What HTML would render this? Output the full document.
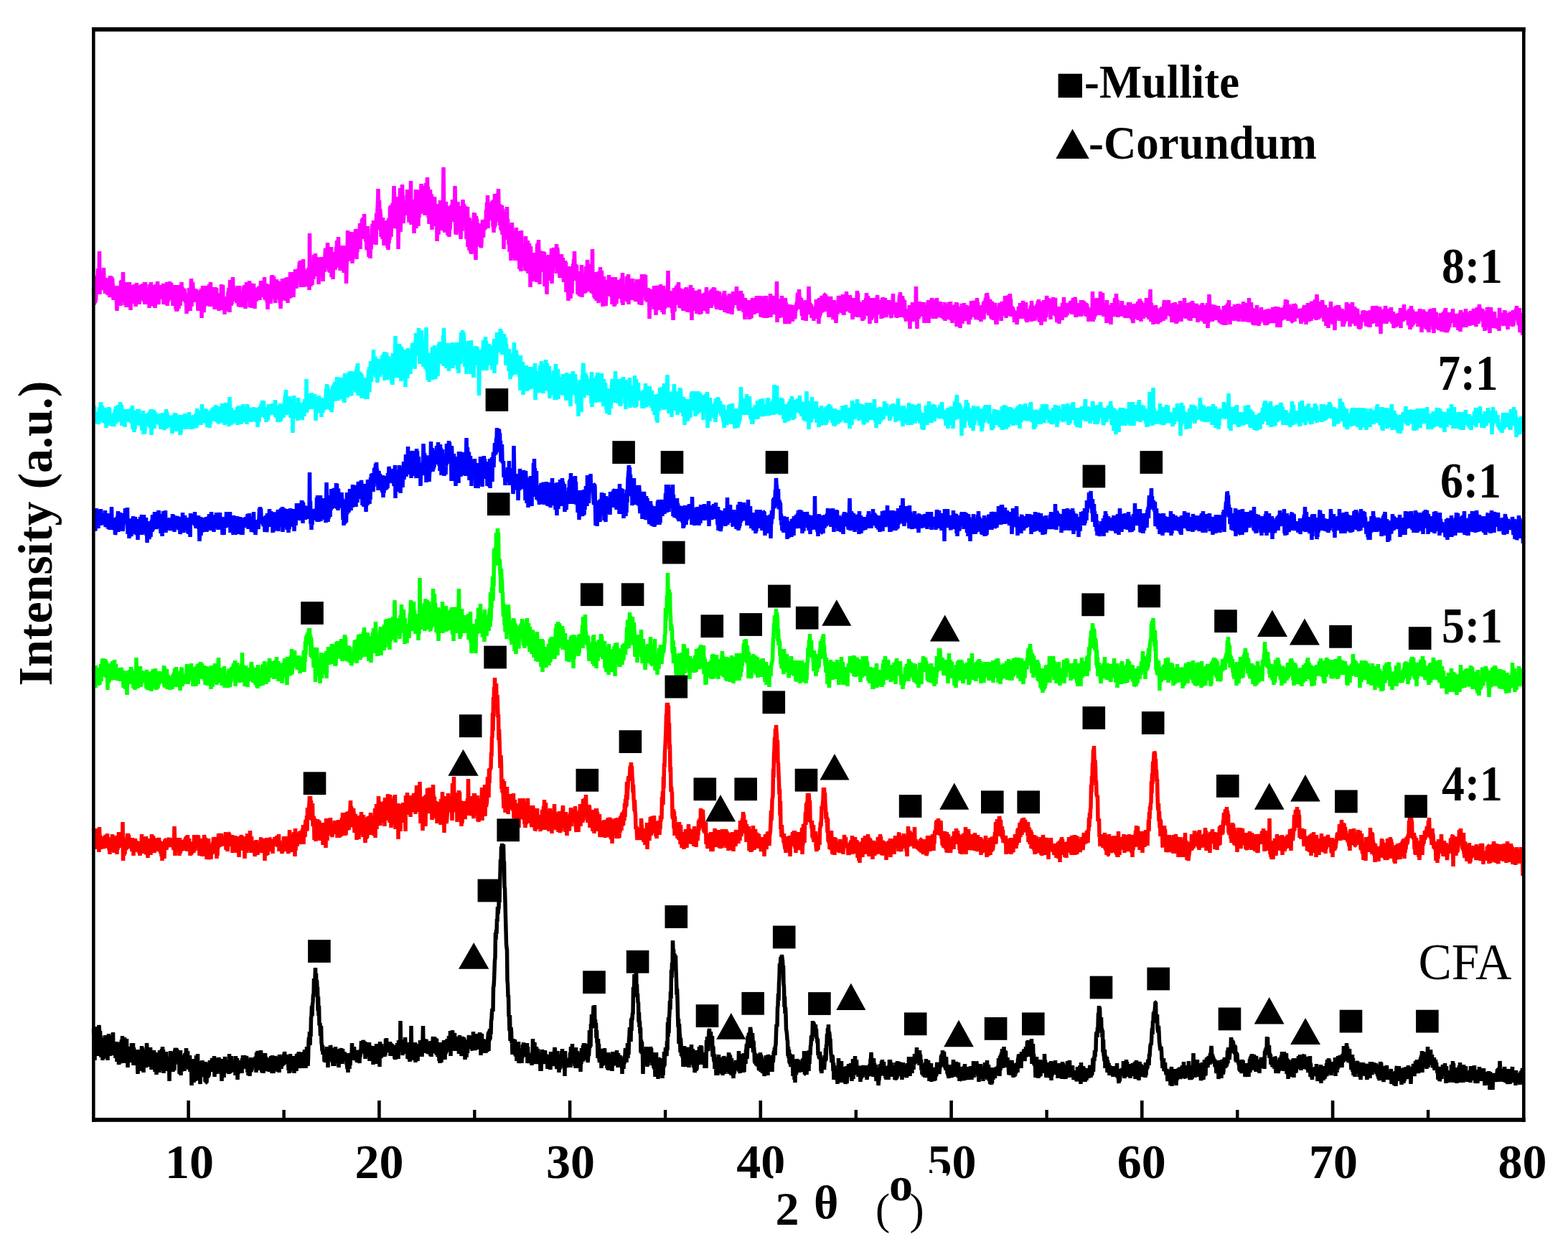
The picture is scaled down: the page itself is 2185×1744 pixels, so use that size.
<!DOCTYPE html>
<html lang="en">
<head>
<meta charset="utf-8">
<title>XRD patterns</title>
<style>
html,body{margin:0;padding:0;background:#fff;}
body{width:2185px;height:1744px;overflow:hidden;}
svg{display:block;}
text{font-family:"Liberation Serif","DejaVu Serif",serif;fill:#000;}
.b{font-weight:bold;}
.c{fill:none;stroke-width:5.5;stroke-linejoin:bevel;stroke-linecap:butt;}
</style>
</head>
<body>
<svg width="2185" height="1744" viewBox="0 0 2185 1744">
<rect x="0" y="0" width="2185" height="1744" fill="#fff"/>
<g class="b" font-size="68" text-anchor="middle">
<text x="263.9" y="1641">10</text>
<text x="528.6" y="1641">20</text>
<text x="795.0" y="1641">30</text>
<text x="1060.3" y="1641">40</text>
<text x="1326.5" y="1641">50</text>
<text x="1590.7" y="1641">60</text>
<text x="1857.9" y="1641">70</text>
<text x="2121.6" y="1641">80</text>
</g>
<rect x="1077.5" y="1634" width="241.5" height="100" fill="#fff"/>
<text class="b" font-size="66" x="1080.5" y="1706.4">2</text>
<text class="b" font-size="66" x="1134" y="1697">θ</text>
<text font-size="60.5" x="1220" y="1704.6">(</text>
<text font-size="60.5" x="1267.5" y="1704.6">)</text>
<text class="b" font-size="66" x="1239" y="1672">o</text>
<text class="b" font-size="68" text-anchor="middle" transform="translate(71.6 743) rotate(-90)">Intensity (a.u.)</text>
<path class="c" stroke="#000000" d="M130.5 1433l.5 22 .5-21 .5 43 .5-47 .5 37 .5-31 .5 35 .5-17 .5 10 .5-25 .5 32 .5-35 .5 5 .5-7 .5-6 .5 8 .5 34 .5-34 .5 13 .5-6 .5 30 .5-25 .5-2 .5 7 .5 24 .5-14 .5 12 .5-17 .5 12 .5-18 .5 20 .5-30 .5 14 .5-7 .5 25 .5-17 .5 6 .5-14 .5 28 .5-32 .5 17 .5-22 .5 18 .5-14 .5 27 .5-18 .5 17 .5-18 .5 9 .5-19 .5 20 .5-17 .5 13 .5-20 .5 32 .5-3 .5-3 .5 5 .5 0 .5-10 .5 15 .5-20 .5 17 .5-20 .5 28 .5-26 .5 11 .5 8 .5-8 .5 19 .5-5 .5-22 .5 25 .5-3 .5-11 .5-16 .5 13 .5-16 .5 33 .5-38 .5 38 .5-21 .5 20 .5-6 .5-24 .5-5 .5 19 .5 2 .5 8 .5-27 .5 29 .5-29 .5 34 .5-13 .5 19 .5-29 .5 3 .5 0 .5 0 .5-3 .5 22 .5-9 .5 5 .5-10 .5 2 .5-15 .5 25 .5-24 .5 19 .5-20 .5 31 .5-25 .5 24 .5-1 .5-13 .5 0 .5 8 .5-15 .5 13 .5 4 .5 2 .5 1 .5 14 .5-15 .5 11 .5-30 .5 17 .5-15 .5 28 .5-16 .5 4 .5-12 .5 7 .5-18 .5 21 .5-19 .5 15 .5-11 .5 31 .5-32 .5 24 .5-15 .5 11 .5-3 .5 0 .5 8 .5-5 .5-29 .5 8 .5 1 .5 23 .5-21 .5 17 .5-15 .5 10 .5-5 .5 15 .5-27 .5 9 .5 7 .5 15 .5-18 .5-1 .5 6 .5-5 .5 13 .5-2 .5-20 .5 9 .5 5 .5 16 .5-20 .5-1 .5-6 .5 31 .5-23 .5 20 .5-22 .5 21 .5-5 .5-2 .5-15 .5 23 .5-31 .5 6 .5-1 .5 1 .5 0 .5 12 .5-20 .5 30 .5-33 .5 30 .5-26 .5 33 .5-14 .5 4 .5-17 .5 12 .5-5 .5 17 .5-27 .5 24 .5-17 .5 19 .5-15 .5 12 .5-12 .5 6 .5-7 .5 31 .5-23 .5 5 .5-24 .5 11 .5-8 .5 18 .5-20 .5 21 .5-15 .5 22 .5-13 .5 1 .5-10 .5 20 .5-27 .5-1 .5-3 .5 20 .5-20 .5 3 .5-2 .5 15 .5-5 .5 10 .5-13 .5 15 .5-17 .5 30 .5-27 .5 18 .5-24 .5 35 .5-15 .5 10 .5-15 .5 3 .5-6 .5 10 .5-15 .5 3 .5 5 .5 14 .5-24 .5 0 .5 7 .5-4 .5-11 .5 28 .5-12 .5-4 .5-8 .5 18 .5-5 .5 13 .5-17 .5 6 .5-9 .5 23 .5-13 .5 3 .5 4 .5 25 .5-32 .5 25 .5-30 .5 27 .5-21 .5 27 .5-24 .5 21 .5-29 .5 30 .5-20 .5 18 .5-34 .5 28 .5-18 .5 15 .5-27 .5 37 .5-22 .5 21 .5-19 .5 12 .5 4 .5 9 .5-19 .5-2 .5-2 .5-9 .5 11 .5-12 .5 13 .5 10 .5-9 .5 8 .5-1 .5-3 .5-8 .5 20 .5-28 .5 16 .5 13 .5 0 .5-16 .5 10 .5-21 .5 20 .5-18 .5 16 .5-8 .5-1 .5-13 .5 13 .5-4 .5 4 .5-6 .5 9 .5-19 .5 10 .5-10 .5 7 .5-2 .5 11 .5-19 .5 29 .5-25 .5 0 .5 2 .5 14 .5-4 .5 9 .5-14 .5 6 .5-14 .5 20 .5-17 .5-4 .5 10 .5 7 .5 4 .5-5 .5 1 .5 6 .5-2 .5 12 .5-24 .5 4 .5-11 .5 26 .5-17 .5 17 .5-22 .5 3 .5-10 .5 20 .5-15 .5 7 .5-3 .5 12 .5 1 .5-14 .5 11 .5-2 .5 2 .5 5 .5-28 .5 27 .5-7 .5 6 .5-3 .5-4 .5-16 .5 14 .5 4 .5-8 .5-5 .5 10 .5 0 .5-1 .5-5 .5 14 .5-9 .5 13 .5-27 .5 11 .5-2 .5-2 .5-4 .5 30 .5-21 .5 13 .5-19 .5 16 .5-13 .5 12 .5-13 .5 10 .5-9 .5 5 .5-2 .5 12 .5-21 .5 13 .5-17 .5 18 .5-16 .5 11 .5-13 .5 6 .5 3 .5 7 .5-2 .5 5 .5-18 .5 8 .5 0 .5 15 .5-10 .5 14 .5-17 .5 12 .5-15 .5 21 .5-13 .5 1 .5-14 .5 20 .5-3 .5 1 .5-17 .5 11 .5-10 .5 5 .5-5 .5 2 .5 1 .5 9 .5-15 .5 5 .5-5 .5 22 .5-28 .5 16 .5-14 .5-4 .5 10 .5 2 .5-5 .5 18 .5-20 .5 22 .5-21 .5 15 .5-22 .5 21 .5 1 .5 9 .5-20 .5 13 .5-20 .5 28 .5-22 .5 10 .5-7 .5-4 .5-5 .5 17 .5-12 .5 20 .5-4 .5 2 .5-7 .5-8 .5-1 .5 12 .5-4 .5 11 .5-10 .5 10 .5-12 .5 12 .5-22 .5 17 .5-12 .5 19 .5-25 .5 17 .5 1 .5 7 .5-11 .5 6 .5-11 .5 12 .5-20 .5 7 .5-4 .5 11 .5-9 .5 10 .5-14 .5 21 .5-17 .5 8 .5-6 .5 16 .5-25 .5 4 .5 2 .5 6 .5 4 .5 4 .5-16 .5 11 .5 0 .5 0 .5-12 .5 12 .5-16 .5 9 .5-12 .5 6 .5 10 .5 1 .5-12 .5 1 .5 3 .5-1 .5 0 .5 5 .5-2 .5 15 .5-6 .5 10 .5-17 .5 16 .5-26 .5 13 .5-3 .5 3 .5-2 .5 12 .5-10 .5 7 .5-5 .5-7 .5-5 .5 24 .5-15 .5 7 .5-12 .5 14 .5-2 .5 5 .5-24 .5 20 .5-16 .5 2 .5-7 .5 20 .5-22 .5 13 .5 0 .5 10 .5-14 .5 2 .5 0 .5 6 .5-16 .5 3 .5 3 .5 14 .5-15 .5 17 .5-23 .5 16 .5-19 .5 17 .5-2 .5 11 .5-25 .5 18 .5-23 .5 19 .5-15 .5 23 .5-11 .5-22 .5-7 .5 5 .5-13 .5 19 .5-18 .5 6 .5-27 .5-1 .5-15 .5 14 .5-16 .5-4 .5-10 .5 4 .5-26 .5 10 .5-8 .5-2 .5-15 .5 29 .5-21 .5 24 .5-15 .5 11 .5-1 .5 33 .5-20 .5 27 .5-14 .5 27 .5 0 .5-3 .5 18 .5-11 .5-3 .5 24 .5 2 .5 9 .5-8 .5 13 .5-7 .5 2 .5 2 .5 13 .5-15 .5 7 .5 9 .5-8 .5 0 .5 4 .5-18 .5 14 .5-14 .5 29 .5-29 .5 18 .5-9 .5 10 .5-17 .5 13 .5-17 .5 3 .5 11 .5-9 .5 2 .5 17 .5-12 .5 17 .5-23 .5 19 .5-8 .5 12 .5-25 .5 14 .5-16 .5 23 .5-17 .5 2 .5 2 .5 12 .5-18 .5 6 .5 1 .5 18 .5-19 .5 0 .5-7 .5 20 .5-15 .5 4 .5-10 .5 17 .5-14 .5 19 .5-21 .5 13 .5-4 .5 6 .5-8 .5-3 .5 11 .5 0 .5-5 .5 6 .5-10 .5 16 .5 0 .5 6 .5-11 .5 16 .5-27 .5 17 .5-17 .5 22 .5-21 .5 16 .5-13 .5-4 .5 2 .5 6 .5-22 .5 13 .5-4 .5-2 .5-2 .5 16 .5-16 .5 19 .5-2 .5 1 .5-4 .5 4 .5-13 .5 3 .5 14 .5-10 .5-6 .5 11 .5-11 .5 6 .5 2 .5 9 .5-18 .5 9 .5-10 .5 2 .5-14 .5 11 .5-11 .5 14 .5-9 .5-6 .5 3 .5 7 .5 0 .5 9 .5-11 .5 18 .5-22 .5 0 .5 18 .5 1 .5-20 .5 4 .5-2 .5 14 .5-9 .5 8 .5-15 .5 26 .5-22 .5 20 .5-17 .5 12 .5-3 .5 4 .5-10 .5 16 .5-21 .5 26 .5-26 .5 16 .5-4 .5 4 .5-1 .5 5 .5-19 .5 24 .5-28 .5 11 .5 5 .5-2 .5-7 .5 15 .5-17 .5 21 .5-17 .5 23 .5-35 .5 14 .5-2 .5 11 .5-20 .5 11 .5-1 .5 1 .5 7 .5-15 .5 8 .5 3 .5-4 .5 8 .5-12 .5 10 .5-23 .5 11 .5-12 .5 11 .5 0 .5-1 .5 1 .5 2 .5 7 .5-13 .5 7 .5 3 .5-12 .5 20 .5-17 .5 0 .5 8 .5 0 .5-7 .5 2 .5 14 .5-5 .5-3 .5-7 .5 11 .5 8 .5-9 .5 10 .5-15 .5 14 .5-18 .5 10 .5-14 .5 18 .5-18 .5 22 .5-26 .5 11 .5 4 .5-10 .5 11 .5-43 .5 34 .5-6 .5 2 .5 11 .5-11 .5 18 .5-9 .5 6 .5-17 .5 12 .5-14 .5 18 .5-21 .5 9 .5-1 .5 14 .5-3 .5 4 .5-13 .5 20 .5-20 .5 19 .5-19 .5 21 .5-24 .5 27 .5-11 .5-1 .5 3 .5-41 .5 31 .5 17 .5-25 .5 12 .5-3 .5-3 .5 7 .5-4 .5-5 .5 20 .5-24 .5 28 .5-26 .5 17 .5-16 .5 9 .5-7 .5 21 .5-11 .5 2 .5-3 .5-11 .5 4 .5 3 .5-13 .5 15 .5-15 .5 21 .5-18 .5 20 .5-19 .5-3 .5-21 .5 27 .5-9 .5 17 .5-11 .5 3 .5-3 .5 14 .5-18 .5-1 .5 6 .5 13 .5-9 .5 10 .5-17 .5 2 .5 14 .5 0 .5-12 .5 3 .5-5 .5 18 .5-21 .5 22 .5-16 .5 10 .5-13 .5-2 .5-7 .5 23 .5-9 .5 9 .5-23 .5 23 .5-15 .5 4 .5-10 .5 23 .5-22 .5 23 .5-8 .5 10 .5-18 .5 4 .5-2 .5 22 .5-23 .5 26 .5-29 .5 5 .5 2 .5 21 .5-16 .5 10 .5-19 .5-2 .5 7 .5 3 .5-14 .5 6 .5 8 .5 13 .5-27 .5 19 .5-3 .5 1 .5-18 .5 16 .5-17 .5 14 .5-5 .5 0 .5-13 .5 19 .5-14 .5 15 .5-27 .5 35 .5-24 .5 16 .5-8 .5-6 .5-14 .5 26 .5-15 .5 9 .5-5 .5-10 .5-1 .5 25 .5-15 .5 5 .5-4 .5 7 .5-7 .5 4 .5-5 .5-5 .5 15 .5-6 .5 15 .5-17 .5-9 .5 24 .5-8 .5 5 .5-8 .5 16 .5-9 .5-14 .5-4 .5 8 .5 9 .5 3 .5-19 .5 14 .5-11 .5 28 .5-17 .5 7 .5-15 .5 22 .5-13 .5-11 .5 18 .5-16 .5-1 .5 0 .5-8 .5 18 .5-1 .5 1 .5-17 .5 13 .5-4 .5 9 .5-4 .5 5 .5 1 .5-9 .5-17 .5 20 .5-8 .5 10 .5-12 .5 16 .5-8 .5-9 .5 0 .5 0 .5-6 .5 17 .5-12 .5 17 .5-22 .5 12 .5 5 .5-4 .5-15 .5 24 .5-23 .5 31 .5-26 .5 22 .5-26 .5 27 .5-20 .5 13 .5-10 .5 2 .5-2 .5 7 .5-4 .5-3 .5-2 .5 19 .5-16 .5 14 .5-10 .5 10 .5-12 .5-8 .5-7 .5 26 .5-28 .5 14 .5-17 .5 15 .5-13 .5 6 .5-20 .5-1 .5-10 .5-5 .5 1 .5 3 .5-34 .5-1 .5-8 .5-14 .5-14 .5-4 .5-35 .5 10 .5-14 .5 6 .5-21 .5 4 .5-21 .5 10 .5-6 .5-3 .5-23 .5 16 .5-25 .5-15 .5-20 .5 14 .5-32 .5 16 .5-20 .5 7 .5-4 .5 1 .5-3 .5 23 .5 2 .5 35 .5 1 .5 20 .5 19 .5 19 .5 20 .5 5 .5 3 .5 43 .5 5 .5 18 .5-3 .5 30 .5 0 .5 20 .5-22 .5 36 .5-15 .5-4 .5 6 .5 16 .5-4 .5 20 .5-13 .5-6 .5-3 .5 20 .5-11 .5 7 .5-15 .5 20 .5 3 .5-5 .5-4 .5 16 .5-23 .5 18 .5-4 .5-8 .5-10 .5 30 .5-8 .5 1 .5-12 .5 11 .5-12 .5 3 .5-2 .5 19 .5-20 .5 13 .5-19 .5 11 .5-14 .5 20 .5-10 .5 3 .5-11 .5 9 .5-9 .5 8 .5-3 .5 13 .5-19 .5 28 .5-23 .5 19 .5 0 .5 4 .5-13 .5 13 .5-5 .5-4 .5 3 .5 6 .5-8 .5 11 .5-18 .5 8 .5-27 .5 17 .5-10 .5 28 .5-28 .5-2 .5 30 .5-6 .5-11 .5 0 .5-7 .5 23 .5-13 .5-4 .5-3 .5 10 .5 2 .5 9 .5-15 .5 2 .5-2 .5 25 .5-16 .5 16 .5-20 .5 6 .5-16 .5 5 .5 3 .5 7 .5-4 .5 9 .5-9 .5 8 .5-18 .5 11 .5-6 .5 13 .5-6 .5-2 .5 3 .5 13 .5-20 .5 9 .5-1 .5 4 .5-2 .5 6 .5 1 .5 4 .5-25 .5 9 .5 9 .5-1 .5-16 .5 5 .5 6 .5 8 .5-17 .5 8 .5-11 .5-6 .5 4 .5 10 .5-7 .5 12 .5 5 .5 6 .5-25 .5 14 .5-9 .5 11 .5-5 .5 19 .5-22 .5 18 .5-11 .5 3 .5-8 .5 6 .5-16 .5 20 .5-23 .5 20 .5-3 .5-13 .5 14 .5 9 .5-17 .5 28 .5-35 .5 19 .5 3 .5-6 .5 7 .5-10 .5-3 .5 11 .5-8 .5 4 .5-4 .5 9 .5-9 .5 3 .5-14 .5 21 .5-29 .5 12 .5-3 .5 0 .5-13 .5 27 .5-12 .5 8 .5-18 .5 16 .5-2 .5 12 .5-23 .5 26 .5-29 .5 21 .5-13 .5 20 .5-23 .5 24 .5-19 .5 17 .5-20 .5 12 .5 5 .5-7 .5-8 .5 25 .5-22 .5 11 .5-22 .5 16 .5-6 .5 9 .5-23 .5 13 .5-16 .5 13 .5-13 .5 22 .5-6 .5 8 .5-20 .5 15 .5-9 .5-7 .5 3 .5 21 .5-5 .5-21 .5 17 .5-9 .5-27 .5 25 .5-16 .5 14 .5-32 .5 7 .5-20 .5 5 .5 9 .5-7 .5-5 .5-14 .5 6 .5 15 .5-22 .5 32 .5-12 .5 12 .5-7 .5 21 .5-11 .5 18 .5-1 .5 22 .5-27 .5 16 .5-9 .5 21 .5 5 .5-5 .5-14 .5 7 .5-7 .5 27 .5-23 .5 20 .5-13 .5 10 .5-21 .5 17 .5-8 .5 14 .5-24 .5 15 .5 3 .5-5 .5 5 .5-4 .5 1 .5 13 .5-12 .5 14 .5-24 .5 25 .5-23 .5 10 .5-8 .5 3 .5-2 .5 13 .5-14 .5 5 .5 2 .5 15 .5-27 .5 20 .5-20 .5 18 .5-18 .5 19 .5-14 .5 4 .5 5 .5-4 .5 9 .5-6 .5-15 .5 15 .5-8 .5 17 .5-20 .5 15 .5 1 .5 2 .5-4 .5-11 .5 4 .5 6 .5 3 .5-1 .5-4 .5 18 .5-24 .5 3 .5-2 .5 16 .5-17 .5 10 .5-10 .5-2 .5-10 .5 16 .5-10 .5 14 .5-17 .5 11 .5-21 .5 21 .5-21 .5 16 .5-21 .5-5 .5-12 .5 10 .5-3 .5 13 .5-32 .5 17 .5-19 .5 4 .5-10 .5 2 .5-38 .5 14 .5-13 .5-19 .5 9 .5 7 .5-5 .5 1 .5-27 .5 43 .5-14 .5 17 .5-4 .5 13 .5-1 .5 28 .5-14 .5 21 .5-9 .5 18 .5-9 .5 35 .5-18 .5 20 .5-17 .5 15 .5 2 .5 28 .5-28 .5 11 .5-3 .5 8 .5-16 .5 2 .5 6 .5 8 .5-26 .5 16 .5-9 .5 21 .5-24 .5 22 .5-25 .5 3 .5 8 .5-6 .5 1 .5 15 .5-22 .5 7 .5-5 .5 13 .5 2 .5 9 .5-4 .5-3 .5-5 .5 16 .5-22 .5 24 .5-6 .5 16 .5-13 .5 0 .5-21 .5 30 .5-13 .5 12 .5-22 .5 30 .5-14 .5 6 .5-16 .5-4 .5 0 .5 24 .5-7 .5-8 .5-4 .5 11 .5-12 .5 23 .5-12 .5 8 .5-24 .5 13 .5-22 .5 20 .5-16 .5 3 .5-13 .5 12 .5-10 .5 10 .5-21 .5 13 .5-39 .5 20 .5-27 .5 22 .5-21 .5-8 .5-16 .5 12 .5-25 .5 10 .5-40 .5 11 .5-21 .5 10 .5-41 .5 14 .5-2 .5 17 .5-10 .5 0 .5 9 .5 14 .5-21 .5 21 .5 13 .5 21 .5-9 .5 14 .5 21 .5 19 .5-12 .5 35 .5-28 .5 12 .5 5 .5 23 .5-20 .5 9 .5 16 .5-14 .5 11 .5 5 .5-8 .5 21 .5-10 .5 3 .5-22 .5 29 .5-27 .5 25 .5-25 .5 27 .5-23 .5 4 .5 6 .5 3 .5-14 .5-3 .5 10 .5 18 .5-25 .5 21 .5-24 .5 19 .5 1 .5-3 .5-21 .5 23 .5-15 .5 6 .5-8 .5 21 .5 5 .5-5 .5-14 .5 26 .5-3 .5-3 .5-13 .5 17 .5-29 .5 27 .5-11 .5 2 .5-17 .5 19 .5-9 .5-2 .5-14 .5 13 .5-1 .5 13 .5-27 .5 13 .5-12 .5 16 .5 3 .5 1 .5 5 .5-3 .5-8 .5 4 .5-3 .5 16 .5-22 .5 9 .5-9 .5 22 .5-39 .5 16 .5-21 .5 9 .5 5 .5 6 .5-20 .5-8 .5-3 .5 10 .5-6 .5 17 .5-17 .5 15 .5-2 .5 5 .5-12 .5 29 .5-14 .5 1 .5 16 .5 4 .5-11 .5 21 .5-4 .5 1 .5-10 .5 22 .5-26 .5 24 .5-21 .5 23 .5-23 .5 20 .5-26 .5 15 .5 0 .5 4 .5-13 .5 3 .5-5 .5 7 .5-5 .5 21 .5-19 .5 21 .5-14 .5 5 .5-18 .5 9 .5-4 .5 20 .5-24 .5 3 .5 4 .5 4 .5-5 .5 6 .5-10 .5 19 .5-20 .5 19 .5-26 .5 30 .5-28 .5 26 .5-24 .5 13 .5-8 .5 23 .5-24 .5 13 .5 5 .5 3 .5-3 .5 10 .5-19 .5 12 .5-1 .5-9 .5 2 .5 1 .5-11 .5 2 .5 3 .5 7 .5-9 .5 8 .5-3 .5 6 .5-27 .5 29 .5-7 .5 9 .5-27 .5 18 .5 4 .5 0 .5-13 .5 5 .5-11 .5 22 .5-17 .5 18 .5-27 .5 26 .5-26 .5 11 .5-7 .5 11 .5-18 .5-3 .5-7 .5 21 .5-12 .5-20 .5 12 .5-10 .5-6 .5 13 .5-14 .5 1 .5-8 .5 3 .5 4 .5 22 .5-19 .5 1 .5-3 .5 11 .5 16 .5-16 .5 8 .5 5 .5 15 .5 3 .5-14 .5 6 .5 10 .5 0 .5-1 .5-2 .5-12 .5 10 .5-4 .5 8 .5 9 .5-16 .5-1 .5 6 .5-14 .5 27 .5-24 .5 18 .5-15 .5 9 .5 14 .5-3 .5 1 .5-2 .5-15 .5 23 .5-4 .5-14 .5 0 .5 3 .5-14 .5 15 .5 2 .5 4 .5-18 .5 25 .5-29 .5 3 .5 11 .5 10 .5-15 .5 2 .5-1 .5 7 .5-14 .5 19 .5-21 .5 23 .5-22 .5 9 .5-3 .5-9 .5-4 .5 2 .5-7 .5 11 .5-13 .5-1 .5-16 .5-13 .5 1 .5 2 .5-26 .5-3 .5-17 .5 10 .5-24 .5-8 .5-20 .5 4 .5-3 .5-10 .5 11 .5-6 .5-8 .5 5 .5 3 .5 9 .5-2 .5 26 .5 3 .5 29 .5-15 .5 24 .5-9 .5 10 .5 21 .5 2 .5 4 .5 8 .5 2 .5 21 .5-13 .5 16 .5-12 .5 19 .5-14 .5 16 .5-5 .5 8 .5-15 .5 6 .5-1 .5-5 .5-2 .5 30 .5-22 .5 21 .5-18 .5 24 .5-11 .5 15 .5-32 .5 18 .5 3 .5-8 .5-14 .5 10 .5 2 .5 4 .5-15 .5 14 .5-7 .5 11 .5-13 .5 12 .5-15 .5 15 .5-7 .5-4 .5-3 .5 6 .5-10 .5 16 .5-17 .5 19 .5-29 .5 22 .5 10 .5 0 .5-25 .5 12 .5-3 .5 17 .5-12 .5 1 .5-22 .5 10 .5-6 .5 24 .5-29 .5 19 .5-19 .5 7 .5-13 .5-1 .5-13 .5 0 .5 7 .5-8 .5-20 .5 22 .5-20 .5 2 .5 1 .5 11 .5-6 .5 11 .5-16 .5 16 .5-10 .5 14 .5-2 .5 8 .5-6 .5 23 .5-4 .5 5 .5 3 .5 0 .5-9 .5 9 .5-4 .5 22 .5-1 .5 4 .5-22 .5 13 .5-12 .5 8 .5-3 .5-3 .5 14 .5-8 .5-12 .5 9 .5-19 .5 17 .5-22 .5 1 .5-16 .5 17 .5-25 .5 10 .5-15 .5 24 .5-14 .5 4 .5 8 .5-2 .5 14 .5 7 .5 4 .5 8 .5-10 .5 1 .5 2 .5 19 .5-12 .5 24 .5-20 .5 10 .5-2 .5-4 .5 12 .5-12 .5 13 .5 3 .5-13 .5 19 .5-15 .5 4 .5-25 .5 28 .5-22 .5 9 .5-7 .5 26 .5-15 .5 7 .5-22 .5 22 .5-5 .5 13 .5-19 .5 16 .5-19 .5 15 .5 2 .5-9 .5-6 .5 22 .5-10 .5 9 .5-24 .5 24 .5-7 .5-7 .5-2 .5 6 .5-17 .5 18 .5-9 .5 8 .5-12 .5 12 .5-18 .5 4 .5 3 .5 18 .5-22 .5 12 .5-21 .5 28 .5-15 .5 10 .5-17 .5 15 .5-25 .5 22 .5-9 .5 8 .5-16 .5 14 .5 3 .5-1 .5-5 .5 13 .5-14 .5-1 .5 4 .5 1 .5 6 .5 11 .5-20 .5 16 .5-16 .5 6 .5-4 .5 12 .5-17 .5 10 .5-10 .5 11 .5-2 .5 0 .5-8 .5 11 .5-3 .5 5 .5-14 .5 20 .5-5 .5-4 .5-9 .5 5 .5-6 .5 4 .5 10 .5-17 .5 13 .5-20 .5 1 .5-10 .5 10 .5 15 .5-15 .5 10 .5-5 .5 19 .5-26 .5 15 .5-8 .5 9 .5 10 .5-13 .5-4 .5 23 .5-19 .5 11 .5 0 .5 3 .5 0 .5 11 .5-7 .5-1 .5-16 .5 11 .5-17 .5 16 .5-4 .5 4 .5-20 .5 19 .5-21 .5 18 .5-8 .5 7 .5-14 .5 12 .5-6 .5 14 .5-8 .5 11 .5-13 .5 15 .5-19 .5 14 .5-5 .5 7 .5-12 .5 15 .5-20 .5 13 .5-21 .5 24 .5-24 .5 16 .5-7 .5 14 .5-19 .5 19 .5-2 .5-3 .5-10 .5 16 .5-7 .5-4 .5 1 .5 14 .5-1 .5-12 .5-11 .5 24 .5-13 .5 11 .5-24 .5 16 .5-13 .5 3 .5 0 .5 2 .5-7 .5 20 .5-9 .5-2 .5 2 .5 2 .5 1 .5 11 .5-23 .5 13 .5-14 .5 16 .5-13 .5 3 .5 11 .5-3 .5 6 .5-7 .5 1 .5 4 .5 3 .5-5 .5-15 .5 10 .5-7 .5 13 .5-25 .5 16 .5-8 .5 19 .5-20 .5 11 .5-14 .5 4 .5-6 .5 21 .5-23 .5 13 .5 0 .5 5 .5-17 .5 10 .5-15 .5 14 .5-5 .5 3 .5-10 .5 5 .5-16 .5 14 .5 2 .5 0 .5-1 .5 0 .5-4 .5 14 .5-21 .5 21 .5-15 .5 10 .5-3 .5 15 .5-5 .5 11 .5-15 .5 13 .5 1 .5 3 .5-16 .5 13 .5-9 .5 14 .5-21 .5 15 .5-20 .5 14 .5 5 .5 7 .5-17 .5 5 .5-12 .5 9 .5-1 .5 21 .5-24 .5 11 .5-10 .5 12 .5-14 .5 26 .5-17 .5 5 .5-8 .5 6 .5-6 .5 18 .5-1 .5-5 .5-9 .5 15 .5-7 .5-5 .5 6 .5-3 .5-13 .5-3 .5 10 .5 6 .5-10 .5 7 .5-11 .5 14 .5-9 .5 0 .5-2 .5-2 .5-13 .5 12 .5-14 .5 18 .5-23 .5 21 .5-8 .5 8 .5-19 .5 9 .5 4 .5 10 .5-16 .5 19 .5-19 .5 12 .5 0 .5 12 .5-3 .5 5 .5 0 .5 4 .5-16 .5 12 .5-10 .5 11 .5-16 .5 16 .5-16 .5 18 .5-5 .5-2 .5 2 .5-9 .5-11 .5 24 .5-11 .5 9 .5-19 .5 15 .5-14 .5 7 .5-8 .5 5 .5 14 .5-3 .5-10 .5 16 .5-21 .5 20 .5-8 .5 14 .5-18 .5-2 .5 18 .5 0 .5-10 .5 7 .5 0 .5 0 .5 4 .5-3 .5 0 .5-16 .5 0 .5 19 .5-23 .5 12 .5 1 .5-5 .5 5 .5 4 .5-13 .5 6 .5 2 .5 10 .5-8 .5 5 .5-13 .5 13 .5-2 .5 4 .5-18 .5 6 .5-5 .5 18 .5-12 .5 4 .5-11 .5 16 .5-23 .5 23 .5-13 .5-1 .5 7 .5-5 .5 7 .5-3 .5-14 .5 1 .5 14 .5-11 .5 5 .5 12 .5-9 .5 16 .5-21 .5 8 .5-2 .5-6 .5-4 .5 21 .5-3 .5-1 .5-2 .5 0 .5-12 .5 21 .5-16 .5 11 .5 1 .5-6 .5-16 .5 20 .5-5 .5 6 .5-2 .5-1 .5-21 .5 27 .5-8 .5 0 .5-13 .5 12 .5 11 .5-4 .5 6 .5 1 .5-22 .5 22 .5 1 .5-2 .5 1 .5-15 .5 2 .5 8 .5-17 .5 7 .5-2 .5 3 .5 7 .5-11 .5-1 .5 8 .5-12 .5 12 .5-9 .5 4 .5-8 .5 12 .5-23 .5 5 .5 2 .5 18 .5-28 .5 20 .5-22 .5 17 .5-20 .5 20 .5-25 .5 27 .5-17 .5 4 .5-3 .5-14 .5 15 .5 5 .5-15 .5 24 .5-23 .5 20 .5-8 .5 4 .5 4 .5-11 .5 13 .5-7 .5 12 .5 6 .5-2 .5 0 .5-4 .5-12 .5 0 .5 19 .5-6 .5-15 .5 7 .5 2 .5-4 .5 19 .5-16 .5 15 .5-19 .5 12 .5 6 .5-9 .5 6 .5-12 .5 1 .5 7 .5-12 .5 14 .5-18 .5-2 .5-5 .5 18 .5-19 .5 20 .5-14 .5-5 .5 4 .5 15 .5-23 .5 13 .5-11 .5 3 .5-3 .5 4 .5-7 .5-2 .5 1 .5 15 .5-10 .5 5 .5-15 .5 7 .5-3 .5 3 .5-15 .5 22 .5-23 .5 9 .5-9 .5 11 .5 1 .5 5 .5-12 .5 9 .5-12 .5 21 .5-25 .5 35 .5-14 .5 9 .5-23 .5 20 .5-6 .5 14 .5 2 .5-2 .5 2 .5 17 .5-6 .5-7 .5-16 .5 22 .5-6 .5 5 .5-14 .5 23 .5-20 .5 7 .5 11 .5-14 .5-10 .5 23 .5-17 .5 6 .5 2 .5-2 .5-3 .5 2 .5-8 .5 0 .5 2 .5 14 .5-27 .5 14 .5-5 .5 8 .5 11 .5 5 .5-8 .5-6 .5-7 .5 14 .5-8 .5 14 .5-2 .5 0 .5-17 .5 8 .5-9 .5 22 .5-24 .5 27 .5-22 .5 16 .5-13 .5 3 .5-10 .5 17 .5-14 .5 8 .5-9 .5 16 .5-20 .5 17 .5-5 .5 7 .5-8 .5 1 .5-6 .5 19 .5-21 .5 20 .5-4 .5 1 .5-15 .5 10 .5-11 .5 14 .5-15 .5 6 .5 4 .5 12 .5-24 .5 12 .5-10 .5 16 .5-9 .5 3 .5 1 .5 7 .5-3 .5 7 .5-16 .5 4 .5-7 .5 8 .5-14 .5 14 .5 4 .5 5 .5-19 .5-1 .5-4 .5 23 .5-3 .5-13 .5 12 .5-8 .5 1 .5 0 .5-5 .5 17 .5-6 .5 9 .5-13 .5 10 .5-5 .5 2 .5-1 .5-3 .5-1 .5 11 .5 2 .5-7 .5-13 .5 19 .5-3 .5 2 .5-9 .5 11 .5-10 .5-12 .5 6 .5 20 .5-30 .5 24 .5-19 .5 13 .5-12 .5 14 .5-15 .5 22 .5-20 .5 15 .5-13 .5 17 .5-1 .5-8 .5-7 .5 15 .5-17 .5 7 .5-1 .5 4 .5-9 .5 13 .5-12 .5 5 .5-8 .5-3 .5 8 .5 9 .5-11 .5 3 .5 5 .5-4 .5-8 .5-12 .5 19 .5-14 .5-7 .5 6 .5-15 .5 9 .5-9 .5 2 .5-24 .5-3 .5 0 .5 7 .5-14 .5 0 .5-20 .5 5 .5-15 .5 11 .5-9 .5 20 .5-4 .5 1 .5-3 .5 22 .5-7 .5 13 .5-10 .5 31 .5-18 .5 21 .5 3 .5 6 .5-16 .5 26 .5-18 .5 11 .5-8 .5 13 .5-14 .5 22 .5-17 .5 10 .5 5 .5-11 .5 6 .5 11 .5-14 .5 12 .5-5 .5-1 .5 6 .5 1 .5-9 .5 4 .5-7 .5 15 .5-15 .5 14 .5-9 .5 4 .5-4 .5 9 .5-1 .5-6 .5-5 .5 11 .5-17 .5 20 .5-12 .5 13 .5 0 .5 7 .5-16 .5 13 .5-2 .5-6 .5-6 .5-3 .5 6 .5-2 .5-5 .5 9 .5-4 .5 3 .5-18 .5 21 .5-11 .5 14 .5-6 .5-7 .5-1 .5 9 .5-21 .5 20 .5-17 .5 21 .5-12 .5-1 .5 10 .5-1 .5-2 .5-4 .5-8 .5 20 .5-16 .5 12 .5-9 .5 10 .5-12 .5 4 .5-10 .5 18 .5-18 .5 15 .5-14 .5 16 .5-19 .5 24 .5-9 .5-10 .5-7 .5 12 .5 5 .5-1 .5-4 .5-1 .5-9 .5 26 .5-21 .5-5 .5 8 .5 10 .5-15 .5 5 .5 10 .5-5 .5-4 .5 12 .5-5 .5 3 .5-7 .5-7 .5 1 .5 0 .5 4 .5 12 .5-21 .5 18 .5-12 .5 4 .5-6 .5 4 .5-9 .5-3 .5 3 .5 5 .5-16 .5 4 .5-9 .5-7 .5-2 .5 2 .5-5 .5-11 .5-8 .5 9 .5-19 .5 1 .5-13 .5 13 .5-15 .5 3 .5-8 .5-7 .5 0 .5 24 .5-4 .5 9 .5-12 .5 20 .5 3 .5 2 .5-9 .5 10 .5 12 .5 4 .5 5 .5 3 .5-4 .5-1 .5 6 .5 12 .5 1 .5 11 .5-12 .5 12 .5-14 .5 18 .5-1 .5-7 .5-4 .5 12 .5-2 .5 7 .5-1 .5-7 .5 7 .5 10 .5-16 .5 9 .5-7 .5 1 .5-3 .5 16 .5-15 .5 21 .5-21 .5 1 .5-6 .5 27 .5-21 .5 14 .5-12 .5 15 .5-3 .5-8 .5 4 .5 3 .5-16 .5 9 .5 0 .5 14 .5-19 .5 12 .5-13 .5 7 .5-10 .5 5 .5-6 .5 14 .5-12 .5-3 .5 2 .5 14 .5-8 .5 2 .5-11 .5 11 .5-13 .5 6 .5-5 .5 15 .5-21 .5 23 .5-11 .5 8 .5 2 .5 1 .5-18 .5 11 .5-8 .5 11 .5-9 .5 10 .5-14 .5 7 .5-14 .5 20 .5-3 .5 9 .5-12 .5 7 .5 2 .5 3 .5-12 .5 11 .5-19 .5 8 .5-7 .5-18 .5 19 .5 5 .5-6 .5 16 .5-11 .5 5 .5-13 .5 14 .5-9 .5 5 .5-16 .5 23 .5-3 .5 2 .5 1 .5-7 .5-3 .5 8 .5-16 .5 17 .5 7 .5-3 .5-7 .5-5 .5-10 .5 20 .5-2 .5 6 .5-18 .5 9 .5-19 .5 23 .5-7 .5 6 .5-15 .5 5 .5-15 .5 8 .5-5 .5 11 .5-15 .5 9 .5-10 .5 8 .5-8 .5 12 .5-16 .5 13 .5-16 .5-7 .5 6 .5 17 .5-11 .5 3 .5 1 .5 1 .5 7 .5-3 .5-3 .5 11 .5-2 .5 1 .5 3 .5 7 .5-17 .5 4 .5 0 .5 13 .5-18 .5 26 .5-9 .5-7 .5 7 .5 2 .5-11 .5 10 .5-11 .5 18 .5-26 .5 18 .5-4 .5 6 .5-1 .5-3 .5-17 .5 7 .5-9 .5 6 .5 9 .5-15 .5 5 .5 8 .5-4 .5 1 .5-20 .5 18 .5-22 .5 9 .5 5 .5 3 .5-5 .5-7 .5-5 .5 5 .5-19 .5 5 .5 1 .5 8 .5-10 .5 3 .5-1 .5 10 .5 6 .5-10 .5-2 .5 14 .5-12 .5 21 .5-13 .5 15 .5-13 .5 2 .5 8 .5 0 .5 0 .5 6 .5-7 .5 15 .5-15 .5 17 .5-13 .5 11 .5-5 .5 9 .5-19 .5 7 .5 1 .5-7 .5 5 .5 13 .5-12 .5 3 .5-5 .5 19 .5-6 .5-10 .5 3 .5 12 .5-12 .5 10 .5-6 .5-5 .5-5 .5 19 .5-16 .5 9 .5-18 .5 19 .5-22 .5 12 .5-14 .5 21 .5-23 .5 22 .5-20 .5 16 .5-6 .5-8 .5-3 .5 19 .5-4 .5-4 .5-3 .5 16 .5-22 .5 8 .5 5 .5 5 .5 1 .5-4 .5-4 .5 3 .5-9 .5 19 .5-17 .5 3 .5 1 .5-6 .5-3 .5 15 .5-9 .5 5 .5-6 .5 7 .5-9 .5 11 .5-15 .5 17 .5-25 .5 6 .5-9 .5 7 .5-9 .5 8 .5-23 .5 12 .5-11 .5 18 .5-5 .5 7 .5-9 .5 18 .5-6 .5 1 .5 0 .5 14 .5-5 .5 4 .5-9 .5 13 .5-10 .5 11 .5-10 .5 10 .5-9 .5 11 .5-17 .5 1 .5 4 .5 18 .5-9 .5 3 .5-12 .5 12 .5-13 .5 19 .5-4 .5-15 .5 16 .5-5 .5-14 .5 13 .5-6 .5 10 .5-20 .5 19 .5-24 .5 26 .5-16 .5 9 .5-8 .5 16 .5-27 .5 18 .5-15 .5 3 .5-3 .5 18 .5-19 .5 29 .5-22 .5 18 .5-16 .5 27 .5-27 .5 8 .5 11 .5 0 .5-8 .5 0 .5 4 .5 9 .5-11 .5 9 .5-18 .5 2 .5-6 .5 19 .5-21 .5 27 .5-25 .5 17 .5-5 .5 7 .5-19 .5 18 .5-5 .5 0 .5-15 .5 6 .5-1 .5 6 .5-14 .5 18 .5-8 .5 4 .5-16 .5 15 .5-5 .5 12 .5-19 .5 14 .5 1 .5-5 .5-9 .5 11 .5-9 .5-5 .5-1 .5 20 .5-10 .5 6 .5-11 .5 0 .5-2 .5 18 .5-3 .5-7 .5 4 .5 10 .5-14 .5 4 .5-8 .5 15 .5-20 .5 29 .5-19 .5 17 .5 2 .5-4 .5 8 .5-12 .5-3 .5 2 .5-4 .5 2 .5-1 .5 11 .5-9 .5 8 .5-12 .5 10 .5-14 .5 11 .5-4 .5 17 .5-8 .5-12 .5 4 .5 16 .5-15 .5-3 .5 1 .5 9 .5-15 .5 26 .5-22 .5 12 .5-13 .5 16 .5-5 .5 8 .5-12 .5 6 .5-14 .5 18 .5-11 .5 8 .5-10 .5 8 .5-17 .5 18 .5-23 .5 19 .5-6 .5 4 .5-19 .5 22 .5-20 .5 18 .5-14 .5 10 .5-11 .5 19 .5-11 .5 3 .5-11 .5 15 .5-12 .5 12 .5-12 .5 12 .5-7 .5 1 .5-15 .5 26 .5-21 .5 13 .5-14 .5 17 .5-14 .5 10 .5-19 .5 12 .5-12 .5 2 .5 11 .5-4 .5-10 .5 8 .5-4 .5 13 .5-8 .5 8 .5-15 .5-4 .5 1 .5 11 .5-23 .5 20 .5-13 .5 13 .5-1 .5-11 .5-4 .5 8 .5-16 .5 15 .5-10 .5 9 .5 3 .5 10 .5-5 .5-5 .5-9 .5 15 .5-5 .5 8 .5 3 .5 8 .5-2 .5-2 .5-17 .5 24 .5-19 .5 24 .5-18 .5 10 .5-8 .5 18 .5-19 .5 6 .5-2 .5 2 .5 1 .5-7 .5-3 .5 4 .5-2 .5 15 .5-10 .5 15 .5-1 .5-1 .5-10 .5 16 .5-10 .5-2 .5-6 .5-6 .5 15 .5-2 .5-13 .5 11 .5-8 .5 14 .5-14 .5 16 .5-17 .5 9 .5-9 .5 3 .5 12 .5 7 .5-22 .5 8 .5 0 .5 11 .5-8 .5 5 .5-15 .5 19 .5-23 .5 12 .5-5 .5 8 .5-15 .5 18 .5-10 .5 6 .5-12 .5 3 .5-4 .5 12 .5-3 .5-4 .5 1 .5-4 .5 1 .5 13 .5-13 .5 12 .5 2 .5 2 .5-7 .5 11 .5-7 .5 9 .5-7 .5-2 .5-17 .5 5 .5-4 .5 6 .5 2 .5 16 .5-19 .5 11 .5 3 .5 8 .5-7 .5 2 .5-8 .5 5 .5-7 .5-1 .5-6 .5 5 .5-6 .5 20 .5-11 .5 6 .5-4 .5-1 .5 3 .5 7 .5-9 .5 5 .5-7 .5 3 .5-7 .5 21 .5-6 .5 5 .5-6 .5-2 .5-1 .5-4 .5-2 .5 18 .5-11 .5 6 .5-15 .5 21 .5-13 .5-12 .5-3 .5 20 .5-16 .5 17 .5-12 .5 9 .5-18 .5 16 .5-13 .5 6 .5-6 .5 17 .5-8 .5 14 .5-19 .5-1 .5-1 .5 6 .5 5 .5 8 .5-22 .5 19 .5-10 .5-3 .5 4 .5 4 .5-15 .5 11 .5-5 .5 8 .5 0 .5 3 .5-19 .5 18 .5-14 .5 15 .5-14 .5 4 .5-7 .5 24 .5-17 .5 1 .5-3 .5 6 .5-1 .5-5 .5-9 .5 7 .5-1 .5 11 .5-10 .5 3 .5-14 .5 16 .5-7 .5 8 .5-19 .5 16 .5-15 .5 13 .5 5 .5-6 .5-3 .5 2 .5-5 .5 8 .5-18 .5 12 .5-15 .5 12 .5-18 .5 30 .5-26 .5 14 .5-17 .5 14 .5-10 .5 18 .5-18 .5 13 .5-16 .5 21 .5-19 .5 21 .5-15 .5 2 .5-18 .5 29 .5-20 .5 16 .5-9 .5-4 .5 4 .5 5 .5-17 .5 11 .5-3 .5 6 .5-7 .5 13 .5 5 .5-1 .5-3 .5 4 .5-14 .5 18 .5-15 .5 14 .5-14 .5 15 .5-11 .5 8 .5 2 .5 5 .5-2 .5 11 .5-3 .5-13 .5-2 .5 20 .5-2 .5-3 .5-14 .5 9 .5-10 .5 17 .5-16 .5 7 .5-11 .5 13 .5-13 .5 7 .5-3 .5 9 .5-15 .5 17 .5-12 .5 23 .5-24 .5 21 .5-5 .5 6 .5-10 .5 7 .5-13 .5 17 .5-16 .5 8 .5-6 .5 9 .5-10 .5 13 .5-23 .5 23 .5-12 .5 7 .5-23 .5 30 .5-27 .5 27 .5-20 .5 12 .5-11 .5 0 .5-1 .5 6 .5-5 .5 20 .5-22 .5 9 .5 5 .5-12 .5 7 .5 3 .5-15 .5 24 .5-28 .5 25 .5-18 .5 3 .5-4 .5 17 .5-11 .5 0 .5 1 .5 15 .5-25 .5 23 .5-20 .5 13 .5-10 .5 16 .5-20 .5 19 .5-11 .5 9 .5-6 .5 11 .5-4 .5 3 .5-14 .5 3 .5 6 .5-3 .5-7 .5 17 .5-23 .5 10 .5-9 .5 6 .5-1 .5 8 .5 0 .5 6 .5-17 .5 17 .5-21 .5 16 .5-8 .5 17 .5-18 .5 11 .5-12 .5 14 .5-4 .5 9 .5-17 .5 7 .5 3 .5 2 .5-18 .5 14 .5-5 .5 0 .5-2 .5 13 .5-14 .5 10 .5-14 .5 17 .5-6 .5 2 .5-13 .5 12 .5-7 .5 19 .5-8 .5 0 .5-11 .5 9 .5-8 .5 16 .5-7 .5 3 .5-13 .5 11 .5-12 .5 20 .5-10 .5 16 .5-25 .5 22 .5-18 .5 3 .5 7 .5-6 .5 8 .5 9 .5-17 .5 3 .5-9 .5 3 .5 6 .5-3 .5 6 .5-6 .5-5 .5 9 .5-9 .5 1 .5-7 .5 0 .5 2 .5 15 .5-20 .5 13 .5-4 .5-18 .5 10 .5 7 .5 0 .5 5 .5 4 .5 2 .5-17 .5 11 .5-9 .5 16 .5-13 .5 4 .5-12 .5 4 .5 5 .5 13 .5-3 .5 3 .5-5 .5-1 .5 0 .5 8 .5-8 .5 3 .5-16 .5 17 .5-16 .5 20 .5-20 .5 13 .5-3 .5 3 .5-10 .5-1 .5-6 .5 22 .5-4 .5-2 .5-2 .5 2 .5-6 .5-2 .5-1 .5 19 .5-21 .5 7 .5-2 .5 13 .5-7 .5 5 .5-10 .5 11 .5-12 .5 8 .5-6 .5 13 .5-17 .5 16 .5-18 .5 12 .5-13 .5 3 .5-6 .5 8 .5 4"/>
<path class="c" stroke="#ff0000" d="M130.5 1154l.5 11 .5-3 .5 14 .5-18 .5 14 .5-18 .5 29 .5-15 .5 12 .5-15 .5 15 .5-14 .5 9 .5-6 .5 18 .5-35 .5 15 .5-4 .5 17 .5-12 .5 15 .5-18 .5 13 .5-6 .5 2 .5-5 .5-3 .5 16 .5-3 .5-4 .5-9 .5 1 .5-4 .5 10 .5-7 .5 11 .5 4 .5-20 .5 18 .5-12 .5 1 .5 7 .5 9 .5-15 .5 21 .5-19 .5 14 .5-8 .5-8 .5 1 .5 13 .5-21 .5 13 .5-4 .5 15 .5-13 .5 15 .5-18 .5 11 .5-17 .5 14 .5 1 .5 8 .5-22 .5 25 .5-26 .5 20 .5-13 .5 3 .5-15 .5 10 .5-2 .5 11 .5-14 .5 17 .5-12 .5-1 .5 5 .5-5 .5 7 .5-30 .5 54 .5-15 .5-5 .5 13 .5-11 .5 9 .5-17 .5 1 .5 8 .5 2 .5-15 .5-1 .5-7 .5 7 .5-7 .5 19 .5-17 .5 12 .5-3 .5 10 .5-15 .5 13 .5-7 .5 5 .5 0 .5 8 .5-19 .5 13 .5-9 .5 21 .5-17 .5 11 .5-8 .5 8 .5-18 .5 18 .5-13 .5 12 .5-14 .5 14 .5-13 .5 15 .5-12 .5 7 .5-10 .5 17 .5-16 .5 19 .5-11 .5-2 .5 5 .5 0 .5-22 .5 15 .5-7 .5 19 .5-23 .5 21 .5-20 .5 5 .5 9 .5 7 .5 0 .5-10 .5-13 .5 24 .5-4 .5-1 .5 0 .5 11 .5-27 .5 9 .5-4 .5 9 .5-8 .5 14 .5-17 .5 20 .5-16 .5 11 .5-24 .5 17 .5-4 .5 5 .5-16 .5 20 .5-2 .5 6 .5-5 .5-1 .5-10 .5 10 .5-7 .5 11 .5-16 .5-2 .5 1 .5 15 .5 0 .5-13 .5-4 .5 6 .5-2 .5 5 .5 5 .5 8 .5-2 .5 6 .5-21 .5 27 .5-18 .5 9 .5-12 .5 11 .5-4 .5 11 .5-24 .5-2 .5 0 .5 8 .5 1 .5 5 .5-16 .5 2 .5 10 .5-3 .5-2 .5-6 .5-2 .5 9 .5-5 .5-2 .5 5 .5 6 .5-13 .5 13 .5-7 .5 1 .5 1 .5-3 .5 8 .5 4 .5-9 .5-24 .5 17 .5 24 .5-13 .5-2 .5-10 .5 11 .5-7 .5 8 .5-1 .5 8 .5-16 .5 13 .5-16 .5 25 .5-25 .5 22 .5-11 .5 8 .5-9 .5 7 .5-9 .5 10 .5-6 .5 2 .5-11 .5 11 .5-4 .5 7 .5-15 .5 6 .5-8 .5 18 .5-20 .5 17 .5-18 .5 22 .5-23 .5 21 .5-16 .5 4 .5-4 .5 18 .5-13 .5 19 .5-15 .5 14 .5-15 .5 14 .5-16 .5 10 .5-8 .5 11 .5-15 .5 16 .5-25 .5 13 .5 0 .5 9 .5-16 .5 5 .5-2 .5 6 .5-7 .5 10 .5-18 .5 17 .5-16 .5 11 .5-1 .5 18 .5-21 .5 9 .5-3 .5 5 .5-9 .5 10 .5-15 .5 25 .5-15 .5-9 .5 15 .5-8 .5-13 .5 4 .5 2 .5 8 .5-10 .5 25 .5-24 .5 29 .5-6 .5-3 .5-7 .5-5 .5-8 .5 26 .5 3 .5-6 .5-13 .5 17 .5-16 .5 18 .5-21 .5 5 .5-3 .5 12 .5-17 .5 10 .5-17 .5 10 .5-3 .5 11 .5-18 .5 13 .5-2 .5 11 .5-17 .5 25 .5-27 .5 23 .5-22 .5 12 .5-21 .5 6 .5-4 .5 17 .5-19 .5 13 .5 5 .5-14 .5-4 .5 15 .5 2 .5-10 .5-3 .5 11 .5-11 .5 13 .5-9 .5-3 .5 2 .5 11 .5-20 .5 25 .5-21 .5 20 .5-11 .5 14 .5-10 .5-1 .5-3 .5-11 .5 0 .5 9 .5 6 .5-1 .5-2 .5 6 .5-11 .5 10 .5-15 .5 25 .5-8 .5 3 .5-11 .5 11 .5-13 .5 8 .5-14 .5 23 .5-16 .5 6 .5-6 .5 17 .5-12 .5 4 .5 5 .5-3 .5-17 .5 29 .5-28 .5 18 .5-18 .5 0 .5 0 .5 2 .5-5 .5 20 .5-9 .5 2 .5-11 .5 20 .5-19 .5 3 .5 0 .5 27 .5-16 .5-4 .5-10 .5 17 .5 2 .5 3 .5-27 .5 12 .5-8 .5 20 .5-19 .5 9 .5-7 .5 5 .5-16 .5 22 .5-4 .5 13 .5-23 .5 11 .5 7 .5-1 .5-2 .5 3 .5-8 .5-4 .5 6 .5 16 .5-10 .5 5 .5 0 .5 2 .5-20 .5 19 .5-5 .5 7 .5-12 .5 8 .5 1 .5-13 .5 5 .5 4 .5-10 .5 6 .5-12 .5-1 .5 9 .5-6 .5 8 .5 10 .5-12 .5 12 .5-20 .5 18 .5-14 .5 27 .5-28 .5 16 .5 1 .5 4 .5-25 .5 23 .5-21 .5 22 .5-15 .5-1 .5-2 .5 13 .5-19 .5 1 .5 18 .5-13 .5-2 .5 0 .5 14 .5-6 .5-3 .5 13 .5-20 .5 5 .5 4 .5-2 .5-8 .5-1 .5 3 .5 4 .5 3 .5-3 .5-9 .5 6 .5-7 .5 16 .5-7 .5 4 .5-15 .5 24 .5-15 .5 8 .5 0 .5-4 .5 2 .5 7 .5-5 .5 10 .5-5 .5-10 .5 2 .5 6 .5-17 .5 14 .5-1 .5 4 .5-1 .5 5 .5-21 .5 6 .5 6 .5-8 .5 11 .5 0 .5 6 .5 3 .5-23 .5 21 .5-31 .5 29 .5-21 .5 23 .5-15 .5 15 .5-25 .5 15 .5-10 .5 10 .5-9 .5 14 .5-23 .5 21 .5-4 .5 17 .5-39 .5 31 .5-21 .5 9 .5-13 .5 19 .5-18 .5 13 .5-12 .5 8 .5-9 .5 9 .5-12 .5 7 .5 7 .5 4 .5-19 .5 16 .5-11 .5 0 .5-7 .5 17 .5-23 .5 27 .5-19 .5 0 .5-6 .5 15 .5-18 .5-6 .5 7 .5 9 .5-22 .5 21 .5-32 .5 7 .5 10 .5-5 .5-10 .5-9 .5-9 .5 25 .5-25 .5 29 .5-23 .5 25 .5-12 .5 15 .5-24 .5 32 .5-12 .5-2 .5 3 .5 30 .5-30 .5 26 .5-5 .5 11 .5-20 .5 18 .5-12 .5-2 .5-15 .5 21 .5-10 .5 17 .5-26 .5 3 .5 13 .5 12 .5-14 .5 2 .5-13 .5 12 .5-10 .5 21 .5-19 .5 27 .5-31 .5 24 .5-19 .5 14 .5 3 .5-2 .5-14 .5 29 .5-41 .5 18 .5-3 .5 16 .5-26 .5 19 .5-19 .5 6 .5 3 .5 1 .5-15 .5 14 .5-15 .5 13 .5 7 .5 0 .5 4 .5 3 .5-12 .5 6 .5-7 .5 8 .5-8 .5 7 .5-17 .5 19 .5-16 .5-1 .5 11 .5-6 .5 2 .5 15 .5-18 .5 13 .5-20 .5 6 .5 18 .5-1 .5-12 .5 8 .5-11 .5 15 .5-3 .5-3 .5-20 .5 22 .5-29 .5 25 .5-9 .5 16 .5-27 .5 15 .5-16 .5 28 .5-32 .5 31 .5-24 .5 18 .5-26 .5 24 .5-20 .5 10 .5-15 .5 26 .5-7 .5-18 .5 0 .5-4 .5-12 .5 36 .5-28 .5 27 .5 0 .5-8 .5-5 .5-5 .5-6 .5 8 .5-1 .5 27 .5-11 .5-4 .5-11 .5 14 .5-10 .5 32 .5-30 .5 18 .5-16 .5-1 .5 8 .5 20 .5-32 .5 26 .5-27 .5 12 .5-8 .5 14 .5-23 .5 16 .5 13 .5-14 .5 6 .5 14 .5-31 .5 12 .5 10 .5-10 .5 18 .5 9 .5-19 .5-8 .5-7 .5 27 .5 0 .5-6 .5-23 .5 4 .5-5 .5 25 .5-24 .5 17 .5-1 .5-11 .5-11 .5 31 .5-17 .5 8 .5-14 .5 18 .5-19 .5 21 .5-24 .5 28 .5-23 .5 21 .5-36 .5 41 .5-37 .5 18 .5-28 .5 35 .5-28 .5 16 .5-18 .5 5 .5-21 .5 14 .5 12 .5 4 .5 3 .5 8 .5-33 .5 3 .5 19 .5-10 .5-10 .5 24 .5-21 .5 24 .5-29 .5 12 .5-13 .5 35 .5-40 .5 32 .5-27 .5 17 .5-12 .5 10 .5-7 .5 19 .5-37 .5 23 .5-21 .5 25 .5 1 .5 12 .5-39 .5 32 .5-19 .5 33 .5-16 .5 12 .5-30 .5 18 .5-22 .5 23 .5-25 .5 32 .5-36 .5 29 .5-31 .5 48 .5-23 .5 13 .5-22 .5 18 .5-10 .5-8 .5-4 .5 50 .5-47 .5 20 .5 3 .5-7 .5 8 .5 12 .5-28 .5 16 .5-26 .5 19 .5-19 .5 26 .5-28 .5 22 .5-9 .5 14 .5-6 .5-6 .5-12 .5 37 .5-50 .5 17 .5-11 .5 21 .5-31 .5 29 .5-4 .5-4 .5-16 .5 22 .5-2 .5-6 .5 2 .5 13 .5-30 .5 17 .5 0 .5-4 .5-9 .5 19 .5-10 .5 7 .5-23 .5 11 .5-7 .5 10 .5-5 .5 20 .5-30 .5 26 .5-36 .5 21 .5-20 .5 30 .5-17 .5 9 .5-9 .5 23 .5-6 .5-36 .5 28 .5 30 .5-24 .5-13 .5 4 .5 13 .5 8 .5 22 .5-35 .5 13 .5-17 .5 25 .5-32 .5-1 .5 6 .5 35 .5-44 .5 23 .5-13 .5 14 .5-33 .5 27 .5 5 .5 3 .5-25 .5 24 .5-35 .5 34 .5-34 .5 9 .5 16 .5-15 .5-7 .5 42 .5-8 .5-19 .5-22 .5 22 .5-7 .5 28 .5-26 .5 25 .5-15 .5 20 .5-24 .5 24 .5-17 .5 24 .5-19 .5 1 .5-7 .5-5 .5 13 .5 12 .5-18 .5 16 .5-20 .5 29 .5-36 .5 30 .5-29 .5 9 .5-20 .5 40 .5-19 .5-5 .5 16 .5 25 .5-50 .5 35 .5-33 .5 26 .5-29 .5 38 .5-3 .5-7 .5-8 .5-7 .5-17 .5 14 .5 4 .5-12 .5 18 .5 0 .5-19 .5 19 .5-20 .5 17 .5-6 .5 23 .5-52 .5 41 .5-37 .5 14 .5-27 .5 45 .5-15 .5 13 .5-21 .5 14 .5-5 .5 17 .5-24 .5 39 .5-30 .5 21 .5-29 .5 24 .5-30 .5 32 .5-30 .5 33 .5-21 .5 13 .5 11 .5 12 .5-15 .5 11 .5-17 .5 11 .5-25 .5 22 .5-20 .5 5 .5-3 .5 21 .5-7 .5-15 .5 2 .5-5 .5 7 .5 6 .5-17 .5 20 .5-47 .5 45 .5-17 .5 23 .5-8 .5-7 .5-8 .5 19 .5-23 .5 24 .5 3 .5-18 .5 2 .5 11 .5 0 .5 9 .5-35 .5 31 .5-31 .5 31 .5-17 .5 12 .5 1 .5-8 .5-8 .5 10 .5-18 .5 36 .5-7 .5 8 .5-33 .5 29 .5-23 .5 17 .5-17 .5 21 .5-8 .5 7 .5-41 .5 46 .5-16 .5-6 .5-11 .5 11 .5-13 .5 8 .5-23 .5 44 .5-25 .5-7 .5 19 .5-4 .5-2 .5-15 .5-21 .5 19 .5-6 .5 16 .5-40 .5 20 .5-21 .5 3 .5-3 .5 1 .5-23 .5 6 .5-28 .5 2 .5-35 .5 25 .5-47 .5 27 .5-41 .5 27 .5-40 .5 21 .5-9 .5 6 .5-10 .5 24 .5 0 .5-8 .5 14 .5 18 .5-5 .5 36 .5-15 .5 14 .5 18 .5 22 .5-6 .5-12 .5 14 .5 33 .5-7 .5 12 .5-19 .5 18 .5 11 .5 12 .5-38 .5 19 .5-3 .5 28 .5-15 .5-2 .5-8 .5 3 .5-14 .5 26 .5-16 .5 28 .5-8 .5-2 .5-8 .5 11 .5-19 .5 17 .5-19 .5 19 .5-11 .5 7 .5-11 .5 18 .5-16 .5 18 .5-25 .5 35 .5-7 .5-11 .5-8 .5 27 .5-13 .5 12 .5-17 .5 30 .5-34 .5 10 .5 6 .5-3 .5-6 .5 27 .5-33 .5 18 .5-26 .5 29 .5-8 .5-7 .5-13 .5 12 .5-10 .5 8 .5 0 .5 18 .5-29 .5 30 .5-21 .5 27 .5-27 .5 32 .5-15 .5 10 .5-8 .5-14 .5 2 .5-7 .5-9 .5 25 .5-5 .5 15 .5-22 .5 7 .5 10 .5-10 .5-10 .5 14 .5 13 .5 3 .5-26 .5 19 .5-23 .5 4 .5 3 .5 13 .5-5 .5 10 .5 10 .5-1 .5-24 .5 15 .5-16 .5 11 .5-16 .5 15 .5-4 .5 0 .5 18 .5-2 .5-14 .5-4 .5 13 .5 10 .5-20 .5 18 .5-8 .5 4 .5-24 .5 1 .5 5 .5 22 .5-33 .5 18 .5-27 .5 42 .5-16 .5 15 .5-37 .5 19 .5 1 .5 18 .5-27 .5 15 .5 5 .5-5 .5-12 .5 26 .5-28 .5 25 .5-29 .5 16 .5-6 .5 19 .5-24 .5 30 .5-32 .5 21 .5-15 .5 14 .5-14 .5 12 .5-27 .5 25 .5-14 .5 23 .5-8 .5 10 .5-18 .5 3 .5-9 .5 20 .5-10 .5 17 .5-10 .5-11 .5-8 .5 24 .5 6 .5-7 .5-23 .5 28 .5-19 .5 5 .5 0 .5-14 .5-8 .5 28 .5-10 .5 7 .5-11 .5 18 .5-17 .5 22 .5-28 .5 26 .5-7 .5 14 .5-28 .5 4 .5 5 .5 1 .5 2 .5 9 .5-2 .5-15 .5-7 .5 5 .5-13 .5 26 .5-21 .5 16 .5-11 .5 9 .5-11 .5 3 .5 8 .5-8 .5-9 .5 16 .5-20 .5 28 .5 0 .5 8 .5-22 .5 20 .5-18 .5 19 .5-19 .5 20 .5-22 .5-4 .5-4 .5 6 .5-15 .5 31 .5-14 .5 3 .5-14 .5 12 .5-7 .5 15 .5-33 .5 30 .5-19 .5-4 .5-8 .5 26 .5-21 .5 20 .5-30 .5 29 .5-10 .5 9 .5-4 .5 15 .5-17 .5 11 .5-19 .5 10 .5-9 .5 31 .5-18 .5-6 .5 4 .5 16 .5 4 .5-24 .5 4 .5 25 .5-30 .5 20 .5-10 .5 23 .5-31 .5 16 .5-9 .5 19 .5-30 .5 24 .5-24 .5 21 .5-16 .5 27 .5-13 .5-8 .5 3 .5 12 .5-18 .5 32 .5-9 .5 5 .5-19 .5 18 .5-16 .5 21 .5-16 .5 4 .5 10 .5 0 .5-2 .5-1 .5-19 .5 25 .5-17 .5 16 .5-18 .5-6 .5 15 .5 9 .5-19 .5-6 .5-1 .5 25 .5-4 .5 0 .5-6 .5-14 .5-2 .5 26 .5 4 .5-8 .5-20 .5 34 .5-24 .5 13 .5-15 .5-3 .5 0 .5 10 .5-7 .5-5 .5-4 .5 3 .5 1 .5 24 .5-10 .5 9 .5-28 .5 26 .5-21 .5 24 .5-11 .5 10 .5-16 .5 9 .5-21 .5-2 .5 7 .5 13 .5-24 .5 18 .5-20 .5 14 .5 5 .5-11 .5-11 .5 15 .5-24 .5 19 .5-25 .5 12 .5-18 .5 16 .5-34 .5 25 .5-12 .5-5 .5-14 .5-1 .5 3 .5 1 .5-4 .5-12 .5-3 .5 2 .5-7 .5 26 .5-21 .5 17 .5 1 .5 19 .5-11 .5 19 .5 5 .5 13 .5-16 .5 17 .5 3 .5 21 .5-3 .5-1 .5 11 .5 8 .5-9 .5 5 .5-11 .5 12 .5-14 .5 4 .5-2 .5 3 .5 2 .5 10 .5-30 .5 8 .5 5 .5 15 .5-5 .5 0 .5-9 .5 19 .5-16 .5 6 .5 3 .5 11 .5-8 .5 8 .5-22 .5 21 .5-30 .5 37 .5-17 .5-13 .5 7 .5 1 .5 4 .5 6 .5-20 .5-6 .5-7 .5 25 .5-1 .5-9 .5-16 .5 18 .5-3 .5-3 .5-8 .5 15 .5-20 .5 25 .5-15 .5 1 .5 0 .5 18 .5-14 .5 17 .5-17 .5-7 .5 6 .5 4 .5 3 .5-14 .5 6 .5 14 .5-12 .5 4 .5-19 .5 8 .5-7 .5 4 .5-31 .5 9 .5-17 .5 19 .5-39 .5 16 .5-35 .5 6 .5-22 .5-7 .5-12 .5-12 .5-21 .5 0 .5-16 .5 6 .5-6 .5 22 .5-18 .5 38 .5-14 .5 37 .5-7 .5 39 .5-8 .5 35 .5-7 .5 7 .5 1 .5 33 .5 3 .5 0 .5-13 .5 27 .5-24 .5 34 .5-27 .5 24 .5-10 .5 3 .5 5 .5 5 .5-18 .5 22 .5-16 .5 11 .5-4 .5 11 .5-25 .5 21 .5-7 .5 17 .5-27 .5 13 .5-1 .5 20 .5-4 .5 3 .5-5 .5-4 .5-11 .5 23 .5-24 .5 19 .5-9 .5 1 .5-15 .5 18 .5-7 .5 15 .5-21 .5 6 .5-6 .5 7 .5-19 .5 18 .5-12 .5 14 .5-3 .5 10 .5-1 .5-15 .5 7 .5 7 .5-12 .5-2 .5-4 .5 13 .5-8 .5 19 .5-28 .5 14 .5-2 .5 3 .5-10 .5 24 .5-15 .5 2 .5-7 .5 11 .5-8 .5-1 .5-19 .5 14 .5-14 .5-2 .5 2 .5 11 .5-28 .5 24 .5-23 .5 25 .5-20 .5 10 .5-14 .5 13 .5 16 .5 1 .5-9 .5 12 .5-11 .5 9 .5-14 .5 31 .5-3 .5-3 .5 5 .5 7 .5-18 .5 15 .5-8 .5 5 .5-15 .5 3 .5 12 .5-2 .5-15 .5 27 .5-10 .5 0 .5 0 .5 10 .5-16 .5 4 .5 1 .5 1 .5 2 .5-24 .5 6 .5 20 .5-22 .5 11 .5-11 .5 16 .5-13 .5 4 .5-5 .5 15 .5-19 .5 17 .5 8 .5-7 .5-12 .5 20 .5-7 .5 4 .5-20 .5 22 .5-26 .5 12 .5-3 .5 11 .5-12 .5 15 .5-12 .5 5 .5-14 .5 9 .5-11 .5 26 .5-24 .5 19 .5-17 .5 8 .5-5 .5 23 .5-17 .5 16 .5-11 .5 11 .5-4 .5-6 .5-14 .5 21 .5-13 .5 7 .5-16 .5 19 .5-6 .5 14 .5-25 .5 2 .5 2 .5 13 .5-17 .5 18 .5-23 .5 7 .5 2 .5-7 .5 3 .5 8 .5-2 .5 8 .5-18 .5 12 .5-6 .5 8 .5-28 .5 12 .5-8 .5 18 .5-10 .5 5 .5-20 .5 13 .5-22 .5 4 .5 0 .5 19 .5 7 .5-13 .5-6 .5 17 .5-9 .5 23 .5-25 .5 19 .5-9 .5 13 .5-8 .5 7 .5-19 .5 34 .5-30 .5 26 .5-18 .5 24 .5-32 .5 12 .5 19 .5-8 .5-7 .5 6 .5-27 .5 34 .5-19 .5 19 .5-19 .5 1 .5-11 .5 9 .5 17 .5-10 .5-11 .5 7 .5 2 .5 12 .5-20 .5 21 .5-20 .5 11 .5-3 .5 7 .5-8 .5 9 .5 8 .5-13 .5 5 .5 8 .5-20 .5 15 .5-11 .5 5 .5-5 .5 23 .5-16 .5 0 .5-15 .5 14 .5-8 .5 15 .5-9 .5 1 .5-16 .5 15 .5-16 .5 19 .5-2 .5 3 .5-14 .5-3 .5-4 .5-12 .5-16 .5 14 .5-7 .5-22 .5-2 .5-4 .5-37 .5 12 .5-33 .5-5 .5-18 .5 11 .5-23 .5 15 .5-20 .5 9 .5 7 .5 19 .5-14 .5 31 .5 1 .5 15 .5 11 .5 18 .5-8 .5 37 .5-20 .5 39 .5-3 .5 14 .5-17 .5 14 .5-2 .5 6 .5-4 .5 11 .5-13 .5 15 .5 2 .5 5 .5-18 .5 23 .5-20 .5 18 .5-17 .5 15 .5-19 .5 19 .5-6 .5-2 .5-9 .5-2 .5 13 .5 15 .5-24 .5-5 .5 9 .5 0 .5-7 .5 7 .5-14 .5 20 .5-20 .5 16 .5-18 .5 11 .5-11 .5 25 .5-20 .5 26 .5-15 .5 3 .5-1 .5 5 .5-21 .5 14 .5 2 .5 9 .5-19 .5 11 .5-7 .5 9 .5-1 .5-2 .5-16 .5 17 .5-23 .5 37 .5-13 .5-1 .5-28 .5 6 .5-6 .5 26 .5-26 .5 0 .5-17 .5 18 .5-30 .5 3 .5-5 .5 8 .5-20 .5 15 .5-8 .5-7 .5 7 .5 33 .5-30 .5 27 .5 2 .5 2 .5-3 .5 11 .5-11 .5 24 .5-10 .5 12 .5-20 .5 24 .5-3 .5-5 .5-2 .5 8 .5-13 .5 20 .5 5 .5 3 .5-12 .5-2 .5-9 .5 21 .5-18 .5 11 .5-13 .5 13 .5-21 .5-4 .5-7 .5 6 .5-10 .5-18 .5 4 .5-3 .5-5 .5-5 .5-17 .5 20 .5-20 .5 27 .5-20 .5 16 .5 6 .5 15 .5-10 .5 15 .5-8 .5 22 .5-20 .5 32 .5-3 .5 5 .5-12 .5 21 .5-12 .5-6 .5 8 .5 11 .5-27 .5 14 .5 11 .5 8 .5-20 .5 2 .5 2 .5 14 .5-22 .5 25 .5-22 .5 10 .5-12 .5 20 .5-11 .5 6 .5-4 .5-5 .5 6 .5-4 .5-2 .5 8 .5-3 .5 10 .5-19 .5 9 .5 4 .5 2 .5 1 .5-3 .5 0 .5-5 .5-1 .5 14 .5-16 .5 7 .5-18 .5 6 .5-3 .5 11 .5-11 .5 13 .5 0 .5-4 .5 1 .5-1 .5 8 .5 8 .5-14 .5 14 .5-6 .5-1 .5-7 .5-2 .5-2 .5-2 .5 15 .5-6 .5-16 .5 26 .5-21 .5 7 .5-9 .5 17 .5-14 .5 2 .5-6 .5 16 .5 5 .5 1 .5-18 .5 19 .5-18 .5 24 .5-17 .5 9 .5-3 .5 15 .5-21 .5 24 .5-29 .5 21 .5-10 .5 4 .5-12 .5 17 .5-21 .5 22 .5-27 .5 12 .5-3 .5 6 .5-3 .5 3 .5-18 .5 11 .5-3 .5 18 .5-25 .5 11 .5 0 .5 10 .5-24 .5 17 .5-13 .5 27 .5-16 .5-5 .5-4 .5 3 .5 14 .5 2 .5 1 .5-4 .5-13 .5 26 .5-19 .5-7 .5 4 .5 4 .5-5 .5 18 .5-17 .5 13 .5-7 .5 7 .5-4 .5 6 .5-17 .5 1 .5-8 .5 18 .5-5 .5 10 .5-19 .5 10 .5-18 .5 25 .5-22 .5 14 .5 12 .5-1 .5-19 .5 7 .5 13 .5-3 .5-15 .5 0 .5 16 .5-4 .5-4 .5 4 .5-5 .5 18 .5-15 .5 8 .5-18 .5 17 .5-18 .5 15 .5-16 .5 6 .5 6 .5 0 .5-15 .5 26 .5-25 .5 16 .5-9 .5 7 .5 5 .5-5 .5-10 .5 12 .5-7 .5 12 .5-22 .5 10 .5-14 .5 18 .5-12 .5 6 .5-5 .5 6 .5-9 .5 12 .5-14 .5 20 .5-25 .5-1 .5 10 .5 7 .5-5 .5 4 .5 8 .5 2 .5-22 .5 18 .5-4 .5 3 .5-14 .5 11 .5-17 .5 20 .5-14 .5 13 .5-11 .5 7 .5-12 .5 22 .5-16 .5 23 .5-26 .5 13 .5-29 .5 22 .5-9 .5 9 .5-15 .5 1 .5 6 .5 2 .5-1 .5 13 .5-11 .5-6 .5-2 .5 2 .5 3 .5 5 .5-5 .5 17 .5-30 .5 22 .5-1 .5 6 .5-10 .5 12 .5-2 .5-6 .5 9 .5 0 .5-10 .5 1 .5 3 .5 5 .5-2 .5 7 .5-10 .5-7 .5 0 .5 19 .5-19 .5 12 .5-2 .5 2 .5 9 .5-11 .5-10 .5 13 .5-5 .5 3 .5-8 .5 16 .5-17 .5 21 .5-3 .5-1 .5-24 .5 17 .5-7 .5 11 .5-19 .5 16 .5-18 .5 22 .5-13 .5 10 .5-12 .5-3 .5-2 .5 16 .5-20 .5 12 .5-3 .5 14 .5-23 .5 13 .5-15 .5-3 .5 2 .5 3 .5-18 .5 19 .5-21 .5 16 .5-6 .5 5 .5-17 .5 17 .5-8 .5 1 .5-1 .5 15 .5-12 .5-9 .5 15 .5 10 .5-10 .5 18 .5 1 .5-8 .5-5 .5 17 .5-15 .5 2 .5-10 .5 9 .5 15 .5 0 .5-19 .5 24 .5-28 .5 29 .5-13 .5 4 .5-17 .5 24 .5-14 .5 16 .5-18 .5-1 .5 19 .5-6 .5-1 .5 1 .5-13 .5 0 .5-4 .5 10 .5-9 .5 17 .5-25 .5 18 .5-16 .5 14 .5-13 .5 12 .5-19 .5 22 .5-18 .5 13 .5-14 .5 19 .5-15 .5 13 .5-9 .5 19 .5-21 .5 26 .5-14 .5 2 .5 1 .5 12 .5-4 .5-7 .5 2 .5-5 .5-15 .5 16 .5-16 .5 26 .5-27 .5 22 .5-30 .5 38 .5-21 .5 4 .5-5 .5 7 .5-19 .5 15 .5-16 .5 9 .5 9 .5 11 .5-2 .5-5 .5-13 .5 12 .5-14 .5 13 .5-1 .5 7 .5-16 .5 19 .5-5 .5-1 .5 2 .5 5 .5-25 .5 25 .5-16 .5 10 .5 1 .5 1 .5-4 .5 9 .5-23 .5 20 .5-1 .5 2 .5-11 .5 6 .5 0 .5 1 .5-14 .5 25 .5-23 .5 17 .5-10 .5 13 .5-7 .5 4 .5-10 .5 10 .5-6 .5 7 .5-16 .5 11 .5-17 .5 17 .5-11 .5 24 .5-22 .5 16 .5-2 .5 6 .5-5 .5 1 .5-3 .5 3 .5-21 .5 24 .5-13 .5 9 .5-19 .5 0 .5-2 .5 18 .5 0 .5-5 .5-10 .5-1 .5-3 .5 7 .5-13 .5 17 .5-31 .5 30 .5-19 .5 2 .5-17 .5 8 .5-1 .5 17 .5-22 .5 8 .5-14 .5 3 .5 6 .5 6 .5-10 .5 19 .5-5 .5 10 .5-15 .5 18 .5-13 .5 18 .5-3 .5-2 .5-5 .5 8 .5-3 .5 6 .5-11 .5 26 .5-17 .5-1 .5-4 .5 19 .5-17 .5 14 .5-13 .5 15 .5-1 .5 4 .5-16 .5 14 .5-20 .5 23 .5-13 .5 1 .5 10 .5-18 .5 8 .5 9 .5-17 .5 11 .5-14 .5 12 .5-17 .5 15 .5-13 .5 18 .5-18 .5 13 .5-13 .5-8 .5-1 .5 10 .5-12 .5 21 .5-18 .5-10 .5 17 .5 3 .5-17 .5 0 .5-6 .5 20 .5-23 .5 20 .5-18 .5 13 .5-16 .5 10 .5 10 .5-3 .5-14 .5 4 .5 4 .5 8 .5-5 .5-1 .5 1 .5 11 .5-19 .5 28 .5-21 .5 14 .5-13 .5 23 .5-10 .5 3 .5-13 .5 26 .5-23 .5 17 .5 0 .5 6 .5-15 .5 16 .5-10 .5 12 .5-22 .5 27 .5-23 .5 22 .5-18 .5 10 .5-16 .5 10 .5-7 .5 18 .5 0 .5 1 .5-13 .5 9 .5-10 .5 6 .5-9 .5 19 .5-23 .5 25 .5-21 .5 22 .5-17 .5 15 .5-27 .5 8 .5 2 .5 5 .5-7 .5 20 .5-22 .5 15 .5-16 .5 8 .5-9 .5 4 .5-2 .5 6 .5 0 .5 22 .5-24 .5 11 .5-13 .5 2 .5 1 .5 10 .5-17 .5 14 .5 5 .5-5 .5 5 .5-10 .5 11 .5-1 .5-4 .5 9 .5-11 .5 4 .5-9 .5 16 .5-10 .5 14 .5-6 .5-9 .5 11 .5-11 .5-7 .5 23 .5-20 .5 17 .5-22 .5 30 .5-28 .5 17 .5-21 .5 19 .5-22 .5 21 .5-18 .5 6 .5-2 .5 18 .5-12 .5-1 .5 1 .5 15 .5-13 .5 11 .5-15 .5 18 .5-22 .5 3 .5-2 .5-1 .5 5 .5 6 .5-18 .5 14 .5-5 .5 7 .5 2 .5 4 .5-14 .5 17 .5-27 .5 3 .5 0 .5 21 .5-18 .5 1 .5 5 .5 12 .5-25 .5 28 .5-17 .5 7 .5-17 .5 22 .5 3 .5-1 .5-23 .5 11 .5-7 .5 15 .5-15 .5 18 .5-17 .5 17 .5-3 .5-1 .5-11 .5 10 .5-16 .5 13 .5-1 .5 6 .5-6 .5-12 .5-6 .5 16 .5-8 .5 2 .5-1 .5-3 .5 9 .5-6 .5-12 .5 1 .5 11 .5 5 .5-19 .5 3 .5-19 .5 13 .5-20 .5 9 .5-14 .5-1 .5-33 .5 11 .5-23 .5 8 .5-26 .5 1 .5-20 .5 10 .5-15 .5 20 .5 1 .5-1 .5 10 .5 25 .5-7 .5 21 .5-1 .5 4 .5-3 .5 36 .5-1 .5-1 .5-2 .5 26 .5-3 .5 16 .5-16 .5 5 .5-6 .5 14 .5-13 .5 16 .5-15 .5 17 .5-18 .5 17 .5-14 .5 4 .5-10 .5 23 .5-20 .5 22 .5-19 .5 25 .5-24 .5 1 .5 10 .5 13 .5 0 .5-8 .5-21 .5 10 .5-2 .5 15 .5-19 .5 15 .5-15 .5 20 .5 0 .5-1 .5-20 .5 15 .5-13 .5-2 .5 2 .5 20 .5-19 .5 9 .5-1 .5 13 .5-13 .5 15 .5-24 .5 27 .5-30 .5 30 .5-36 .5 30 .5-7 .5 10 .5-23 .5 16 .5-12 .5 5 .5 2 .5-1 .5-12 .5 7 .5-5 .5-1 .5 6 .5-11 .5 18 .5 8 .5-23 .5 3 .5 4 .5-1 .5-8 .5 23 .5-4 .5-11 .5 3 .5 9 .5-12 .5 8 .5-17 .5 21 .5-14 .5 17 .5-2 .5-11 .5 13 .5 1 .5-16 .5 23 .5-31 .5 21 .5-21 .5 6 .5-6 .5 12 .5-2 .5 7 .5-23 .5 10 .5-17 .5 22 .5-6 .5-6 .5-9 .5 27 .5-20 .5 14 .5-2 .5 14 .5-16 .5-5 .5-2 .5 10 .5-13 .5 4 .5 0 .5 26 .5-20 .5 12 .5-17 .5 14 .5-19 .5 22 .5-20 .5 17 .5-21 .5 21 .5-14 .5 4 .5-4 .5 15 .5-21 .5 1 .5-16 .5 16 .5-27 .5 10 .5-18 .5 6 .5-11 .5 1 .5-31 .5 17 .5-28 .5 15 .5-29 .5-2 .5 2 .5-12 .5-4 .5 1 .5 2 .5 23 .5-16 .5 20 .5-5 .5 17 .5-4 .5 23 .5 16 .5 5 .5-10 .5 25 .5-14 .5 23 .5-13 .5 25 .5-23 .5 20 .5-12 .5 11 .5-8 .5 26 .5 1 .5-22 .5-3 .5 9 .5-14 .5 14 .5-9 .5 13 .5-3 .5 22 .5-3 .5-4 .5-17 .5 14 .5 2 .5-7 .5-5 .5 19 .5-23 .5 24 .5-8 .5-4 .5-8 .5 9 .5-3 .5 11 .5-18 .5 16 .5-17 .5 24 .5-26 .5 19 .5-8 .5 15 .5-14 .5-8 .5-5 .5 17 .5 1 .5-11 .5-3 .5 8 .5-7 .5 27 .5-22 .5 21 .5-26 .5 14 .5-15 .5 11 .5-8 .5 25 .5-16 .5 5 .5-11 .5 6 .5-8 .5 15 .5-7 .5 16 .5-28 .5 23 .5-29 .5 34 .5-10 .5 7 .5-20 .5 27 .5-8 .5-2 .5 3 .5 8 .5-6 .5-3 .5-3 .5-13 .5 11 .5-10 .5-2 .5 12 .5-23 .5 22 .5-21 .5 12 .5-9 .5 16 .5-20 .5 16 .5-21 .5 22 .5-14 .5 3 .5 0 .5-8 .5 13 .5-9 .5 6 .5 9 .5-8 .5 10 .5-23 .5 26 .5-28 .5 19 .5-12 .5 10 .5-5 .5 10 .5-15 .5 14 .5 2 .5 1 .5-5 .5-12 .5 2 .5-3 .5 7 .5 6 .5-22 .5 27 .5-23 .5 28 .5-12 .5-3 .5-9 .5 15 .5-5 .5 2 .5-8 .5 7 .5-3 .5 19 .5-29 .5 1 .5 0 .5 15 .5-10 .5 10 .5-20 .5 11 .5-2 .5 4 .5 5 .5-14 .5 11 .5 13 .5-21 .5 21 .5-13 .5-9 .5-1 .5 24 .5-21 .5 14 .5-15 .5 16 .5-7 .5-3 .5-17 .5 26 .5-23 .5 10 .5-15 .5 5 .5-2 .5 9 .5 1 .5-3 .5-17 .5 3 .5-13 .5 14 .5-6 .5 4 .5-17 .5 20 .5-16 .5 14 .5-21 .5 26 .5-21 .5 11 .5-6 .5 26 .5-11 .5 14 .5-2 .5-3 .5 0 .5 10 .5-17 .5 23 .5-3 .5-5 .5-20 .5 19 .5-17 .5 11 .5 11 .5 7 .5-24 .5 19 .5-1 .5 7 .5-14 .5 11 .5-5 .5 17 .5-25 .5 11 .5-13 .5 2 .5-9 .5 22 .5-7 .5 5 .5 1 .5 8 .5-5 .5-22 .5-1 .5 15 .5-15 .5 23 .5-15 .5 15 .5-10 .5 3 .5-10 .5 15 .5-3 .5 10 .5 0 .5-21 .5 21 .5 2 .5-24 .5 21 .5-14 .5 15 .5-22 .5 7 .5-9 .5 18 .5-4 .5 8 .5-18 .5 22 .5-24 .5 22 .5-11 .5 10 .5-11 .5 0 .5 0 .5 14 .5-22 .5 24 .5-12 .5-2 .5-3 .5 11 .5-8 .5 16 .5-10 .5 10 .5-22 .5-4 .5 9 .5 4 .5-9 .5 10 .5-7 .5-2 .5 0 .5 5 .5-14 .5 17 .5-18 .5 10 .5-13 .5 19 .5-8 .5 21 .5-19 .5-10 .5 10 .5-1 .5-6 .5 25 .5-21 .5 13 .5-13 .5 12 .5-2 .5 1 .5 5 .5-40 .5 34 .5 16 .5-14 .5 18 .5-22 .5 25 .5-26 .5 10 .5 11 .5 5 .5-24 .5 6 .5 1 .5-3 .5-9 .5 23 .5-22 .5 23 .5-18 .5 8 .5-20 .5 9 .5-2 .5-5 .5 20 .5-5 .5-5 .5 9 .5-15 .5 17 .5-9 .5 8 .5-20 .5 20 .5-21 .5 28 .5-25 .5 7 .5-6 .5 13 .5-15 .5 21 .5-10 .5 7 .5-10 .5-7 .5 12 .5 3 .5-2 .5-14 .5-2 .5 13 .5-7 .5 9 .5 3 .5-4 .5-22 .5 15 .5-12 .5 27 .5-25 .5 5 .5-11 .5 9 .5 8 .5-8 .5-5 .5 0 .5-23 .5 22 .5-20 .5-1 .5-8 .5 23 .5-22 .5 13 .5-18 .5 22 .5-10 .5 17 .5-25 .5 16 .5-9 .5 32 .5-12 .5 2 .5 1 .5 11 .5-12 .5 10 .5-13 .5 4 .5-1 .5 5 .5-6 .5 23 .5-24 .5 20 .5-8 .5 5 .5-2 .5-5 .5 3 .5 0 .5 17 .5-1 .5-3 .5 2 .5-3 .5 3 .5-11 .5 15 .5-24 .5 12 .5-6 .5 23 .5-31 .5 22 .5-15 .5 4 .5-9 .5 25 .5-29 .5 25 .5-9 .5-9 .5 6 .5 6 .5-14 .5 30 .5-31 .5 20 .5-15 .5 12 .5-7 .5 6 .5-6 .5 18 .5-17 .5 10 .5-6 .5 7 .5-17 .5 8 .5-15 .5 25 .5-6 .5-1 .5-13 .5 21 .5-9 .5-1 .5-3 .5 3 .5-8 .5 20 .5-24 .5 18 .5-18 .5 6 .5 8 .5-9 .5-7 .5 8 .5 4 .5 4 .5-8 .5 9 .5-5 .5 3 .5-11 .5 18 .5 3 .5-5 .5-16 .5 27 .5-25 .5 16 .5-11 .5 8 .5 2 .5-1 .5-9 .5 8 .5-6 .5-3 .5-3 .5-5 .5-5 .5 5 .5-5 .5 0 .5 7 .5-4 .5-15 .5 16 .5-15 .5 22 .5-21 .5 7 .5-15 .5 27 .5-17 .5 13 .5-19 .5 19 .5-17 .5-1 .5 18 .5 5 .5-18 .5 10 .5-5 .5 12 .5 0 .5-4 .5 2 .5 6 .5-12 .5 4 .5 10 .5 4 .5-17 .5 23 .5-25 .5-5 .5 22 .5-5 .5-14 .5-2 .5 16 .5 5 .5-11 .5 7 .5-19 .5 15 .5-8 .5 17 .5 0 .5-1 .5-6 .5 6 .5-15 .5 10 .5-11 .5 5 .5-10 .5 20 .5-10 .5-2 .5 5 .5-12 .5 13 .5 9 .5 5 .5-16 .5-7 .5 19 .5 9 .5-1 .5-5 .5 15 .5-9 .5-6 .5-8 .5 16 .5-12 .5 20 .5-33 .5 17 .5-1 .5-5 .5-6 .5 10 .5-8 .5 10 .5-12 .5 16 .5-22 .5 22 .5-34 .5 15 .5 16 .5 2 .5-27 .5 31 .5-30 .5 11 .5 1 .5 9 .5-7 .5 18 .5-16 .5 25 .5-26 .5 17 .5 3 .5-3 .5-4 .5 9 .5-6 .5 3 .5-9 .5 15 .5-18 .5-3 .5 11 .5 3 .5-1 .5-2 .5-10 .5 0 .5-12 .5 20 .5-18 .5 25 .5-9 .5-4 .5-4 .5-4 .5 18 .5 4 .5 1 .5-10 .5-12 .5 16 .5-1 .5 8 .5-30 .5 24 .5-1 .5-16 .5-7 .5 15 .5-7 .5 16 .5-26 .5 30 .5-27 .5 17 .5-13 .5 16 .5-7 .5 4 .5-7 .5 4 .5 5 .5 13 .5-18 .5 20 .5-15 .5 10 .5-21 .5 13 .5 7 .5-4 .5-18 .5 21 .5-7 .5-1 .5-6 .5 2 .5 9 .5 4 .5-23 .5 3 .5 1 .5-1 .5 2 .5-6 .5-1 .5 21 .5-24 .5 17 .5-18 .5 28 .5-15 .5 7 .5-14 .5 9 .5-9 .5-8 .5 1 .5 9 .5-3 .5-9 .5-1 .5 4 .5-24 .5 18 .5-25 .5 7 .5-2 .5 22 .5-24 .5 5 .5 0 .5 21 .5 2 .5-2 .5 4 .5-5 .5-4 .5 23 .5-19 .5 26 .5-15 .5 16 .5-24 .5 23 .5-7 .5 2 .5-14 .5 14 .5-5 .5 14 .5-8 .5 12 .5-18 .5-8 .5 1 .5 14 .5-24 .5 20 .5-16 .5 24 .5-15 .5 2 .5-11 .5 8 .5-6 .5 1 .5-13 .5 12 .5-10 .5 5 .5-7 .5-1 .5-5 .5 15 .5-6 .5-1 .5-16 .5 17 .5-21 .5 19 .5 0 .5 1 .5 9 .5-2 .5-4 .5 15 .5-8 .5-15 .5 9 .5-1 .5 10 .5 10 .5-9 .5 1 .5 6 .5 4 .5-9 .5 24 .5-15 .5 7 .5-13 .5 24 .5-26 .5 20 .5-27 .5 20 .5-5 .5-11 .5 0 .5-2 .5 3 .5 8 .5-20 .5 17 .5-1 .5 2 .5 2 .5 11 .5-11 .5 11 .5-22 .5 22 .5-17 .5 16 .5-12 .5-6 .5 12 .5 2 .5 10 .5-9 .5-5 .5 1 .5-9 .5 6 .5-6 .5 8 .5 4 .5-1 .5-19 .5 21 .5-22 .5 10 .5-10 .5-3 .5-1 .5 44 .5-38 .5 9 .5-13 .5 16 .5-9 .5-6 .5 2 .5 24 .5-18 .5 14 .5-13 .5 12 .5-6 .5-2 .5-6 .5-1 .5-16 .5 2 .5 9 .5 4 .5-17 .5 16 .5-2 .5 7 .5-12 .5 20 .5-17 .5 19 .5-25 .5 28 .5 2 .5 5 .5-23 .5 19 .5-8 .5 6 .5-9 .5 20 .5-16 .5 9 .5-10 .5 11 .5-18 .5 24 .5-26 .5 29 .5-23 .5 21 .5-17 .5 12 .5-16 .5 4 .5-6 .5 12 .5 1 .5 3 .5-8 .5 0 .5-8 .5 16 .5-11 .5-1 .5 8 .5 8 .5-22 .5 20 .5 0 .5-1 .5-10 .5 4 .5-2 .5-3 .5-6 .5 11 .5 2 .5 8 .5-24 .5 4 .5 6 .5-1 .5-9 .5 10 .5 6 .5 13 .5-19 .5 9 .5-5 .5 7 .5-9 .5 9 .5-7 .5 8 .5-12 .5 14 .5-20 .5 15 .5-8 .5-8 .5 0 .5 25 .5-21 .5 18 .5-23 .5 25 .5-17 .5 10 .5 1 .5 3 .5-23 .5 8 .5 9 .5-5 .5-16 .5 4 .5 11 .5 14 .5-19 .5 15 .5-6 .5 11 .5-27 .5 13 .5-12 .5 21 .5 4 .5 2 .5-15 .5 5 .5 5 .5-19 .5 6 .5 10 .5-7 .5-12 .5 12 .5-8 .5 2 .5 17 .5-18 .5 19 .5-13 .5 10 .5-22 .5 5 .5 18 .5-7 .5-13 .5 24 .5-27 .5 21 .5-24 .5 11 .5-7 .5 1 .5 6 .5 18 .5-23 .5-2 .5 17 .5-11 .5-7 .5 15 .5-12 .5 21 .5-19 .5 24 .5-6 .5-4 .5-12 .5 13 .5-12 .5 12 .5-10 .5 20 .5-16 .5 3 .5-12 .5 12 .5 6 .5 2 .5-11 .5-6 .5 9 .5 11 .5-19 .5 17 .5-12 .5 12 .5-21 .5 10 .5 11 .5-6 .5-9 .5 34 .5-22"/>
<path class="c" stroke="#00ff00" d="M130.5 930l.5 19 .5-9 .5-4 .5 4 .5 18 .5-31 .5 24 .5 0 .5-4 .5-15 .5 22 .5-22 .5 23 .5-22 .5-2 .5 2 .5 21 .5-19 .5 6 .5-16 .5 24 .5-13 .5 7 .5-25 .5 12 .5-13 .5 23 .5-22 .5 7 .5-1 .5 6 .5-12 .5 24 .5-22 .5 24 .5-22 .5 18 .5 2 .5 19 .5-34 .5 21 .5-23 .5 26 .5-24 .5 20 .5-11 .5 8 .5-20 .5 24 .5-22 .5 19 .5-24 .5 23 .5-20 .5 8 .5-8 .5 22 .5-27 .5 28 .5-19 .5 17 .5-20 .5 14 .5-6 .5 15 .5-9 .5-5 .5 3 .5 8 .5-9 .5 10 .5-13 .5 16 .5-19 .5 3 .5 11 .5 3 .5-17 .5 13 .5-4 .5 6 .5-5 .5 18 .5-24 .5 18 .5-6 .5 11 .5 2 .5-4 .5-9 .5 14 .5-21 .5 29 .5-26 .5-1 .5-7 .5 12 .5 2 .5-4 .5-9 .5 18 .5-20 .5 13 .5-17 .5 16 .5-13 .5 20 .5-16 .5 11 .5 1 .5 11 .5-16 .5 12 .5-17 .5 23 .5-27 .5 19 .5-8 .5-29 .5 28 .5 8 .5-17 .5 24 .5-18 .5 7 .5 1 .5 4 .5-13 .5 17 .5-29 .5 28 .5-2 .5-1 .5-19 .5 14 .5-10 .5 13 .5-16 .5 16 .5-10 .5-3 .5 1 .5 1 .5 7 .5-7 .5 12 .5 7 .5-26 .5 6 .5 8 .5 14 .5-2 .5 1 .5-20 .5 20 .5-14 .5-2 .5-8 .5 19 .5-8 .5 16 .5-28 .5 23 .5-15 .5 0 .5-11 .5 26 .5-15 .5 3 .5 2 .5-1 .5-16 .5 29 .5-15 .5 16 .5-23 .5 13 .5-9 .5 17 .5-22 .5 18 .5-20 .5 7 .5-4 .5 3 .5 1 .5 7 .5-10 .5 13 .5-6 .5 0 .5-6 .5 1 .5-6 .5 16 .5-24 .5 30 .5-27 .5 28 .5-18 .5 1 .5 9 .5-8 .5-10 .5 28 .5-19 .5 0 .5 2 .5 1 .5 7 .5 1 .5-3 .5 12 .5-14 .5-1 .5-3 .5 14 .5 0 .5 3 .5-20 .5 17 .5-15 .5-3 .5-1 .5 8 .5-15 .5 12 .5 0 .5 14 .5-28 .5 28 .5-18 .5 8 .5-11 .5 17 .5-13 .5 11 .5-15 .5 12 .5 2 .5 12 .5-28 .5 17 .5-14 .5-6 .5-1 .5 26 .5-9 .5 2 .5-6 .5 10 .5-6 .5 3 .5-5 .5 1 .5 5 .5-12 .5 13 .5-16 .5-11 .5 19 .5-15 .5 24 .5-8 .5 0 .5-18 .5 11 .5-9 .5-2 .5 10 .5 6 .5-19 .5 19 .5 2 .5 3 .5-12 .5 20 .5-7 .5 1 .5-18 .5 0 .5 4 .5 14 .5-10 .5 16 .5-28 .5 23 .5-15 .5 12 .5-23 .5 28 .5-14 .5 7 .5-14 .5-8 .5 4 .5 11 .5-17 .5 24 .5-17 .5 3 .5-8 .5 21 .5-3 .5 4 .5-9 .5-3 .5-7 .5 22 .5-8 .5 13 .5-20 .5 10 .5 5 .5-4 .5-17 .5 27 .5-7 .5 5 .5-22 .5 3 .5-4 .5 9 .5-4 .5 2 .5-4 .5 27 .5-33 .5 18 .5-16 .5 28 .5-30 .5 15 .5-7 .5 12 .5-5 .5 8 .5-26 .5 26 .5-14 .5-4 .5-5 .5 27 .5-10 .5 2 .5-20 .5 17 .5-27 .5 27 .5 1 .5 7 .5-2 .5-15 .5-4 .5 13 .5 1 .5 11 .5-9 .5 5 .5-16 .5 3 .5 0 .5 15 .5-25 .5 30 .5-11 .5 6 .5-7 .5-4 .5-2 .5 7 .5 0 .5 10 .5-6 .5 7 .5-22 .5-2 .5-2 .5 18 .5 7 .5-9 .5-17 .5 19 .5-11 .5-10 .5 3 .5 12 .5-8 .5-3 .5-9 .5 18 .5-3 .5-7 .5-12 .5 36 .5-31 .5-1 .5 4 .5 12 .5-17 .5 22 .5-17 .5 9 .5-9 .5 6 .5 11 .5 6 .5-17 .5 8 .5 7 .5 1 .5-25 .5 19 .5-35 .5 37 .5-20 .5 22 .5-8 .5-8 .5-4 .5 28 .5-20 .5 18 .5-27 .5 15 .5-4 .5 5 .5-9 .5 23 .5-22 .5 8 .5-13 .5 13 .5-5 .5 11 .5-11 .5 2 .5-2 .5-11 .5-5 .5 12 .5-6 .5 20 .5-9 .5 12 .5-10 .5 1 .5-6 .5 12 .5-18 .5 24 .5-13 .5 3 .5 5 .5 8 .5-25 .5 27 .5-33 .5 24 .5-15 .5 3 .5 8 .5 10 .5-21 .5 14 .5-2 .5 8 .5-17 .5 12 .5-23 .5 28 .5-30 .5 16 .5-15 .5 17 .5-22 .5 31 .5-22 .5 2 .5-4 .5 25 .5-25 .5 8 .5-5 .5-1 .5 16 .5 4 .5-28 .5 8 .5-13 .5 9 .5-1 .5 18 .5-15 .5 16 .5-18 .5 12 .5-4 .5 10 .5-23 .5 15 .5-10 .5 20 .5-21 .5 3 .5-8 .5 10 .5-5 .5 17 .5-27 .5 30 .5-24 .5 16 .5-16 .5 28 .5-26 .5 25 .5-23 .5 24 .5-8 .5-4 .5-11 .5 21 .5-14 .5 19 .5-19 .5 4 .5-14 .5 4 .5 7 .5 9 .5-26 .5 23 .5-21 .5 1 .5 3 .5-1 .5 23 .5 9 .5-39 .5 24 .5-23 .5 26 .5-22 .5 18 .5-12 .5 2 .5-10 .5 23 .5-28 .5 21 .5-30 .5 35 .5-9 .5-1 .5-2 .5-12 .5 1 .5 5 .5-15 .5 14 .5 0 .5-2 .5 2 .5-6 .5 4 .5 15 .5-4 .5-3 .5 5 .5-2 .5-16 .5 18 .5-15 .5 22 .5-19 .5 17 .5-7 .5-2 .5 3 .5-15 .5 9 .5 10 .5-16 .5-5 .5-7 .5 30 .5-27 .5 13 .5-29 .5 19 .5-25 .5 0 .5-2 .5 12 .5-16 .5 12 .5-7 .5 5 .5-16 .5 9 .5-9 .5 24 .5-15 .5 31 .5-27 .5 7 .5 10 .5 12 .5-11 .5 6 .5 2 .5 16 .5-26 .5 3 .5-5 .5 10 .5 38 .5-34 .5 6 .5 15 .5-35 .5 40 .5-22 .5 19 .5-19 .5 9 .5-3 .5-1 .5-8 .5 35 .5-32 .5 16 .5-27 .5 26 .5 10 .5-31 .5 20 .5-5 .5 7 .5-4 .5-22 .5 24 .5-12 .5 12 .5-24 .5 29 .5-32 .5 38 .5-23 .5-6 .5-4 .5 4 .5-15 .5 18 .5-14 .5 21 .5-16 .5 1 .5-5 .5 16 .5-8 .5-6 .5-11 .5 28 .5-16 .5 0 .5-9 .5-2 .5 8 .5-8 .5 2 .5 28 .5-20 .5 19 .5-20 .5-13 .5 3 .5 11 .5-15 .5 15 .5-6 .5 13 .5-3 .5-10 .5 5 .5 10 .5-20 .5 21 .5-28 .5 11 .5 2 .5 18 .5-20 .5 16 .5-10 .5 13 .5-5 .5-19 .5-12 .5 18 .5-15 .5 21 .5-6 .5-3 .5 14 .5 8 .5-17 .5 3 .5-6 .5-1 .5 3 .5 20 .5-22 .5 17 .5-2 .5-3 .5 14 .5-2 .5-4 .5 2 .5-9 .5 2 .5-1 .5-1 .5-10 .5-5 .5-7 .5 19 .5-20 .5 21 .5-11 .5 23 .5-28 .5 23 .5-29 .5 27 .5-33 .5 16 .5 0 .5 19 .5-12 .5 12 .5-36 .5 28 .5-20 .5 25 .5-18 .5 12 .5-24 .5 4 .5-10 .5 21 .5-27 .5 25 .5-6 .5 20 .5-26 .5 28 .5-16 .5 11 .5-29 .5 6 .5-5 .5 30 .5-26 .5 35 .5-27 .5-1 .5 7 .5 3 .5-13 .5 33 .5-36 .5 15 .5-8 .5 0 .5-13 .5 16 .5-22 .5 35 .5-34 .5 34 .5-13 .5 9 .5-40 .5 43 .5 0 .5-5 .5 2 .5 8 .5-30 .5 15 .5-12 .5 6 .5 11 .5-9 .5-15 .5 0 .5-7 .5 40 .5-34 .5 11 .5-13 .5 20 .5-11 .5-9 .5-3 .5 32 .5-36 .5 28 .5-24 .5 28 .5-39 .5 20 .5 10 .5 3 .5-34 .5 32 .5-5 .5 5 .5-16 .5-1 .5 16 .5 12 .5-44 .5 33 .5-12 .5 2 .5-9 .5 15 .5-17 .5 12 .5-26 .5 24 .5 8 .5-17 .5-5 .5-33 .5 22 .5 37 .5-33 .5 19 .5 1 .5 3 .5-20 .5 8 .5-10 .5-1 .5 9 .5 7 .5-16 .5 28 .5-16 .5-17 .5 5 .5 4 .5-24 .5 38 .5-16 .5 16 .5-13 .5 12 .5-30 .5 33 .5-11 .5 26 .5-36 .5 30 .5-3 .5 7 .5-22 .5 23 .5-27 .5 10 .5-4 .5-2 .5-2 .5 18 .5-16 .5-10 .5-9 .5 2 .5-20 .5 20 .5 13 .5 10 .5-28 .5 24 .5-10 .5 12 .5-39 .5 36 .5-24 .5 26 .5-6 .5 13 .5-28 .5 26 .5-17 .5 19 .5-4 .5-16 .5-4 .5 33 .5-27 .5 18 .5-19 .5-59 .5 59 .5 13 .5-16 .5 12 .5-5 .5 8 .5-33 .5 1 .5 16 .5 5 .5-20 .5 10 .5-15 .5 39 .5-30 .5-15 .5 19 .5 11 .5 0 .5 11 .5-39 .5 17 .5 9 .5 15 .5-39 .5 29 .5-21 .5 21 .5 11 .5 1 .5-22 .5 18 .5-29 .5 27 .5-30 .5 25 .5-48 .5 43 .5-28 .5 37 .5-45 .5 45 .5-32 .5 24 .5-18 .5 35 .5-17 .5-11 .5 0 .5 30 .5-37 .5 47 .5-16 .5-22 .5 1 .5 23 .5-15 .5 15 .5-25 .5 3 .5-8 .5 32 .5-43 .5 44 .5-23 .5 1 .5-10 .5 27 .5-27 .5 28 .5-10 .5 12 .5-36 .5 22 .5 13 .5-6 .5-7 .5-6 .5-3 .5 21 .5-12 .5-16 .5 10 .5 4 .5-5 .5 2 .5-12 .5 26 .5-29 .5 3 .5 34 .5 0 .5-25 .5 35 .5-35 .5 18 .5-24 .5-6 .5 2 .5 26 .5-12 .5 20 .5-12 .5-16 .5-8 .5 19 .5-7 .5-7 .5-31 .5 42 .5-3 .5 31 .5-33 .5 30 .5-18 .5 9 .5-30 .5 16 .5 2 .5 7 .5-4 .5 3 .5-14 .5 24 .5-19 .5 2 .5-8 .5 24 .5-23 .5 7 .5 0 .5 9 .5-6 .5 1 .5-14 .5 36 .5-24 .5 2 .5-11 .5 7 .5-13 .5 43 .5-26 .5 41 .5-31 .5 27 .5-34 .5 24 .5-7 .5-20 .5 28 .5 2 .5-20 .5-6 .5 28 .5 9 .5-33 .5 3 .5-18 .5 21 .5-6 .5 4 .5-34 .5 34 .5-25 .5 19 .5-29 .5 31 .5-36 .5 41 .5-25 .5 21 .5-7 .5-15 .5 32 .5-12 .5-9 .5-10 .5 1 .5 36 .5-45 .5 17 .5-5 .5-1 .5-3 .5 29 .5-17 .5 4 .5-11 .5 17 .5-17 .5 17 .5-17 .5-10 .5-4 .5 25 .5-48 .5 40 .5-30 .5 12 .5-29 .5 17 .5-32 .5 34 .5-26 .5 6 .5-53 .5 18 .5 2 .5-1 .5-21 .5 26 .5-46 .5 21 .5-2 .5 4 .5-29 .5 33 .5-27 .5 44 .5-8 .5 6 .5-5 .5 20 .5 4 .5 23 .5-34 .5 19 .5-4 .5 18 .5 0 .5 22 .5 12 .5-18 .5 8 .5 22 .5-21 .5 30 .5-23 .5 8 .5-6 .5 31 .5-30 .5 21 .5-38 .5 34 .5-35 .5 13 .5 9 .5 12 .5-2 .5 9 .5-14 .5 23 .5-25 .5 31 .5-23 .5 19 .5-30 .5 19 .5-22 .5 26 .5-24 .5 44 .5-38 .5 1 .5 3 .5 38 .5-32 .5 19 .5-24 .5 2 .5 1 .5 16 .5 10 .5-2 .5-29 .5 11 .5 4 .5-4 .5-13 .5 11 .5-13 .5 16 .5-22 .5 26 .5-20 .5 25 .5 6 .5-4 .5-21 .5 29 .5-30 .5 12 .5-7 .5 22 .5-37 .5 18 .5-20 .5 28 .5-8 .5 4 .5-17 .5 22 .5-14 .5 32 .5-35 .5 35 .5-4 .5 3 .5-20 .5 24 .5-34 .5 33 .5-32 .5 14 .5-5 .5 29 .5-17 .5 3 .5 2 .5-7 .5-5 .5 29 .5-28 .5 22 .5-35 .5 29 .5-14 .5 27 .5-23 .5 15 .5-23 .5 13 .5-5 .5-9 .5 16 .5 23 .5-35 .5 29 .5-33 .5 46 .5-44 .5 33 .5-12 .5 12 .5-20 .5 24 .5-17 .5-3 .5-5 .5 26 .5-29 .5 19 .5 4 .5-11 .5-4 .5 14 .5-26 .5 30 .5-28 .5 24 .5-33 .5 32 .5-16 .5-18 .5 10 .5-11 .5 6 .5 10 .5-6 .5 20 .5-22 .5 8 .5-6 .5 21 .5-25 .5-2 .5-16 .5 29 .5-35 .5 42 .5-30 .5 32 .5-47 .5 28 .5-2 .5-17 .5-7 .5 34 .5-31 .5 12 .5 7 .5 10 .5 1 .5-5 .5-24 .5 33 .5-29 .5 17 .5 0 .5-3 .5-8 .5 16 .5-16 .5 23 .5-14 .5 15 .5-11 .5 26 .5-25 .5 14 .5-19 .5 26 .5-4 .5 9 .5-10 .5-3 .5-16 .5 20 .5-26 .5 26 .5-28 .5 33 .5-28 .5 20 .5-21 .5 42 .5-47 .5 34 .5-33 .5 26 .5-19 .5 6 .5-4 .5 18 .5-5 .5-6 .5 7 .5-4 .5-16 .5 26 .5-30 .5 26 .5-10 .5 0 .5-17 .5 9 .5 3 .5-6 .5 0 .5 2 .5-20 .5 32 .5-44 .5 27 .5-12 .5 6 .5-14 .5 2 .5-12 .5 29 .5-6 .5 13 .5 3 .5 3 .5-12 .5 1 .5 1 .5 18 .5-2 .5 17 .5-22 .5 16 .5 1 .5 2 .5-3 .5-18 .5 10 .5 3 .5-16 .5 31 .5-39 .5 14 .5-16 .5 44 .5-25 .5 4 .5 17 .5 3 .5-20 .5 24 .5-27 .5-10 .5 2 .5 25 .5-14 .5 0 .5-16 .5 22 .5-22 .5 7 .5 1 .5-4 .5-12 .5 32 .5-30 .5 23 .5-16 .5 26 .5-6 .5-4 .5-6 .5 15 .5-24 .5 38 .5-30 .5 28 .5-1 .5 8 .5-20 .5 4 .5 7 .5-22 .5 7 .5 28 .5-43 .5 28 .5-1 .5-20 .5 18 .5 14 .5-30 .5 17 .5-5 .5 12 .5-8 .5 9 .5-18 .5 23 .5-25 .5-11 .5 8 .5 34 .5-46 .5 27 .5-22 .5 17 .5-23 .5 14 .5-5 .5 17 .5-6 .5 5 .5-7 .5 16 .5-26 .5 26 .5-13 .5 7 .5-7 .5 4 .5-4 .5 10 .5-28 .5 17 .5 4 .5 0 .5-23 .5 6 .5 3 .5 5 .5 2 .5-13 .5-6 .5 11 .5-30 .5 27 .5-37 .5 14 .5-15 .5 40 .5-11 .5-2 .5-37 .5 30 .5-25 .5 22 .5-14 .5 11 .5-9 .5 21 .5-30 .5 40 .5-19 .5 14 .5-27 .5 16 .5 12 .5 20 .5-9 .5-14 .5 14 .5 4 .5-26 .5 39 .5-37 .5 23 .5-19 .5 7 .5-7 .5 8 .5-13 .5 26 .5-22 .5 23 .5-35 .5 38 .5-15 .5 24 .5-20 .5-4 .5-10 .5 28 .5-3 .5 4 .5-16 .5 30 .5-7 .5-26 .5 2 .5 4 .5 1 .5 13 .5-23 .5 27 .5-18 .5 18 .5-25 .5 11 .5-4 .5 14 .5-33 .5 38 .5-27 .5 28 .5 0 .5-10 .5-11 .5 13 .5-10 .5 9 .5-7 .5 8 .5-28 .5 44 .5-6 .5-2 .5-10 .5 12 .5-16 .5 28 .5-12 .5-12 .5 12 .5 4 .5-29 .5 19 .5-19 .5 7 .5-12 .5 7 .5 3 .5 17 .5-12 .5 3 .5-13 .5 6 .5 0 .5-3 .5-6 .5-4 .5-12 .5 0 .5-37 .5 18 .5-14 .5-1 .5-21 .5 14 .5-45 .5 30 .5-1 .5 16 .5-22 .5 16 .5-12 .5 27 .5 8 .5 19 .5-9 .5 4 .5 3 .5 31 .5 1 .5-17 .5 32 .5-2 .5-21 .5 12 .5-3 .5 12 .5-5 .5 20 .5 2 .5 8 .5-7 .5 10 .5-23 .5 15 .5-25 .5 1 .5-8 .5 13 .5-2 .5 10 .5-5 .5 16 .5-31 .5 9 .5-11 .5 23 .5-21 .5 32 .5-46 .5 33 .5-32 .5 40 .5-31 .5 20 .5-22 .5 18 .5-10 .5 17 .5-27 .5 24 .5-8 .5 12 .5-16 .5 22 .5-6 .5 15 .5-32 .5 22 .5-4 .5-3 .5-7 .5 4 .5 6 .5 5 .5-18 .5 11 .5-13 .5 5 .5 3 .5 12 .5-24 .5 5 .5-5 .5 23 .5-32 .5 18 .5-15 .5 21 .5-19 .5 3 .5-9 .5 25 .5 4 .5-2 .5-29 .5 18 .5-21 .5 22 .5-19 .5 18 .5-3 .5 15 .5-22 .5 6 .5-16 .5 40 .5-24 .5 23 .5-20 .5 36 .5-32 .5 31 .5-24 .5 2 .5-9 .5 14 .5-14 .5 14 .5-11 .5 19 .5-16 .5 2 .5 5 .5 8 .5-23 .5 26 .5-21 .5 16 .5-29 .5 19 .5-20 .5 9 .5 24 .5 1 .5-33 .5 23 .5-8 .5 10 .5-17 .5 11 .5-19 .5 12 .5-3 .5 17 .5-20 .5 28 .5-20 .5 14 .5-16 .5 8 .5-8 .5 16 .5-1 .5-6 .5-14 .5-2 .5-10 .5 21 .5-14 .5 29 .5-6 .5-10 .5 1 .5 16 .5-9 .5 3 .5 9 .5-2 .5-30 .5 34 .5-25 .5 5 .5-9 .5 24 .5-24 .5 19 .5-23 .5 34 .5-21 .5 14 .5-25 .5 32 .5-37 .5 22 .5-18 .5 25 .5-11 .5 21 .5-15 .5 1 .5-14 .5 19 .5-28 .5 33 .5-10 .5 3 .5-31 .5 33 .5-22 .5 27 .5-18 .5 8 .5-9 .5 19 .5-26 .5 17 .5-29 .5 33 .5-24 .5 17 .5-16 .5 8 .5-8 .5 2 .5-11 .5 1 .5-16 .5 21 .5-26 .5 21 .5-2 .5-7 .5-13 .5 32 .5-20 .5 22 .5-25 .5 23 .5-6 .5 29 .5-37 .5 32 .5-17 .5 20 .5-29 .5 31 .5-3 .5 2 .5-27 .5 15 .5-2 .5 5 .5-24 .5 24 .5-13 .5 12 .5-16 .5-1 .5-4 .5 24 .5 2 .5-3 .5-17 .5 11 .5-15 .5 29 .5-11 .5 10 .5-16 .5 6 .5-11 .5 12 .5-14 .5 23 .5-23 .5 15 .5-17 .5 10 .5 6 .5-17 .5 6 .5 20 .5-21 .5 4 .5 1 .5 23 .5-22 .5 13 .5-19 .5 32 .5-23 .5 2 .5 11 .5 1 .5-15 .5 24 .5-27 .5 30 .5-30 .5 15 .5-14 .5 14 .5-14 .5-2 .5-3 .5-1 .5-3 .5-17 .5-15 .5 3 .5-22 .5 11 .5-22 .5 17 .5-2 .5-4 .5-20 .5 12 .5-7 .5 4 .5 7 .5 29 .5-17 .5 23 .5-9 .5 8 .5-5 .5 21 .5-10 .5 21 .5-3 .5 8 .5 0 .5-17 .5 7 .5 5 .5 7 .5 7 .5-35 .5 9 .5-2 .5 23 .5-20 .5 15 .5-14 .5 21 .5-25 .5 25 .5-16 .5 17 .5-15 .5 22 .5-3 .5-8 .5-2 .5-6 .5-2 .5 7 .5-16 .5 7 .5 14 .5 5 .5-20 .5 20 .5-4 .5 3 .5-17 .5 20 .5-13 .5 12 .5-21 .5 29 .5-1 .5-8 .5-8 .5-5 .5 1 .5 1 .5-9 .5 20 .5-14 .5 15 .5-18 .5 29 .5-31 .5 28 .5-28 .5 26 .5-27 .5 26 .5-2 .5-12 .5 8 .5 10 .5-23 .5 9 .5-10 .5 14 .5-17 .5 29 .5-20 .5 15 .5-14 .5-11 .5 1 .5-20 .5 0 .5 12 .5-24 .5 19 .5-27 .5 29 .5-10 .5-4 .5-6 .5 21 .5-8 .5 12 .5-10 .5 8 .5 8 .5 12 .5-29 .5 12 .5 1 .5 16 .5-10 .5 17 .5-31 .5 23 .5 2 .5-12 .5 8 .5-15 .5 1 .5 12 .5-14 .5 1 .5-13 .5 6 .5-17 .5 25 .5-24 .5 8 .5-12 .5 8 .5-12 .5 27 .5-30 .5 25 .5-9 .5 14 .5-3 .5 18 .5-11 .5 20 .5-21 .5 18 .5-8 .5 27 .5-20 .5 1 .5 3 .5 11 .5 10 .5-13 .5-23 .5 15 .5-18 .5 19 .5-3 .5 12 .5-25 .5 25 .5-21 .5 20 .5-22 .5 0 .5 8 .5 12 .5-21 .5 6 .5-3 .5 19 .5-20 .5 21 .5-27 .5 25 .5-21 .5 14 .5-2 .5 19 .5-22 .5 14 .5-14 .5-3 .5-3 .5 13 .5-24 .5 31 .5-7 .5 8 .5-25 .5 32 .5-16 .5 7 .5-16 .5 14 .5-13 .5 5 .5-4 .5 23 .5-21 .5 16 .5-4 .5 11 .5-24 .5 5 .5-13 .5 12 .5-6 .5 6 .5-22 .5 5 .5 14 .5-8 .5-8 .5 15 .5-15 .5 21 .5-17 .5 0 .5-8 .5 29 .5-28 .5 17 .5-4 .5 16 .5-21 .5 5 .5-9 .5-2 .5 8 .5 13 .5-7 .5 12 .5-24 .5 16 .5-14 .5 22 .5-7 .5 15 .5-18 .5-12 .5 8 .5 16 .5-24 .5 18 .5-24 .5 21 .5-19 .5 26 .5-22 .5 19 .5 1 .5-9 .5 2 .5-19 .5 7 .5 17 .5-17 .5 15 .5-4 .5 15 .5 1 .5-11 .5-8 .5 23 .5-23 .5 21 .5-14 .5 11 .5-6 .5-2 .5-4 .5 25 .5-30 .5 30 .5-26 .5 14 .5 1 .5 9 .5-8 .5 0 .5 4 .5-14 .5-16 .5 34 .5-24 .5 12 .5-11 .5 21 .5-12 .5 9 .5-6 .5 7 .5-21 .5 19 .5-19 .5 21 .5-8 .5 11 .5-23 .5 8 .5-18 .5 30 .5-35 .5 18 .5-8 .5 4 .5-19 .5 26 .5-21 .5 28 .5-9 .5 8 .5-26 .5 21 .5-22 .5 10 .5 1 .5 7 .5-9 .5 13 .5-10 .5 11 .5 8 .5-19 .5-5 .5 11 .5-1 .5 2 .5 9 .5-1 .5-2 .5-21 .5 2 .5 18 .5-8 .5 18 .5-32 .5 8 .5-12 .5 10 .5 0 .5 12 .5 1 .5-15 .5 7 .5 5 .5 4 .5-8 .5-12 .5 19 .5 3 .5 11 .5-7 .5 7 .5-7 .5 13 .5-19 .5 13 .5-5 .5 1 .5-11 .5 6 .5-16 .5 18 .5-7 .5 4 .5-19 .5 3 .5-2 .5 0 .5 5 .5 18 .5-31 .5 26 .5-9 .5 8 .5-15 .5 11 .5-15 .5 0 .5 8 .5 8 .5-15 .5 1 .5 9 .5 12 .5-23 .5 26 .5-7 .5 2 .5-20 .5 26 .5-13 .5 14 .5-9 .5 10 .5-8 .5 1 .5-1 .5 13 .5-25 .5 14 .5-12 .5-12 .5 18 .5-10 .5 15 .5 7 .5-23 .5 3 .5-3 .5 0 .5-16 .5 22 .5-18 .5 3 .5 6 .5 3 .5-14 .5 8 .5-3 .5 8 .5 5 .5-1 .5 15 .5-2 .5-21 .5 25 .5-10 .5-11 .5-3 .5 12 .5-2 .5 15 .5-27 .5 11 .5 2 .5 14 .5-18 .5 19 .5-21 .5-1 .5 2 .5 24 .5-25 .5 14 .5-13 .5 21 .5-19 .5 10 .5-30 .5 22 .5-10 .5-4 .5-2 .5 9 .5-26 .5 21 .5-21 .5 4 .5 9 .5 18 .5-7 .5-7 .5 8 .5-5 .5-7 .5 12 .5-2 .5 15 .5-7 .5 2 .5-4 .5 5 .5-9 .5 10 .5-19 .5 11 .5-9 .5 18 .5-3 .5 16 .5-27 .5 18 .5-33 .5 34 .5-24 .5 14 .5-15 .5 25 .5-21 .5 18 .5-19 .5 23 .5-8 .5 3 .5-1 .5 1 .5 1 .5 14 .5-23 .5 19 .5-10 .5 17 .5-32 .5 24 .5-21 .5 17 .5-25 .5 9 .5-5 .5 12 .5-18 .5 24 .5-19 .5 17 .5-15 .5 22 .5-29 .5 28 .5-25 .5 10 .5 10 .5 10 .5-17 .5 5 .5-15 .5 8 .5-8 .5 5 .5 16 .5-2 .5-15 .5 4 .5-10 .5 20 .5-19 .5 14 .5-6 .5 22 .5-37 .5 35 .5-27 .5 2 .5 14 .5-1 .5-20 .5 27 .5-37 .5 34 .5-20 .5 23 .5-24 .5 9 .5 7 .5 6 .5-21 .5 15 .5-10 .5 20 .5-24 .5 1 .5-4 .5 10 .5-12 .5 23 .5-15 .5 16 .5-26 .5 26 .5-17 .5 16 .5-22 .5 31 .5-19 .5 14 .5-21 .5 24 .5-22 .5-1 .5 1 .5 23 .5-27 .5 20 .5-22 .5 18 .5-10 .5 12 .5-20 .5 14 .5-5 .5-4 .5 7 .5 7 .5-19 .5 26 .5-7 .5-12 .5-6 .5 20 .5-13 .5 16 .5-9 .5 4 .5-9 .5 13 .5-25 .5 31 .5-30 .5 14 .5 4 .5-8 .5 8 .5-3 .5-16 .5 24 .5-26 .5 20 .5-5 .5 9 .5-25 .5 34 .5-28 .5 21 .5-10 .5 7 .5-15 .5 27 .5-21 .5 15 .5-11 .5 5 .5 2 .5-3 .5-10 .5 12 .5-18 .5 8 .5 5 .5 8 .5-20 .5 10 .5-8 .5 12 .5-18 .5 7 .5 19 .5-15 .5-6 .5 18 .5-26 .5 15 .5-11 .5 15 .5-8 .5 19 .5-15 .5 6 .5-19 .5 28 .5-24 .5 17 .5 2 .5-10 .5-16 .5 16 .5 0 .5 6 .5 1 .5-19 .5-5 .5 6 .5 2 .5 13 .5-13 .5 10 .5-10 .5 21 .5-29 .5 19 .5-12 .5 18 .5-22 .5 30 .5-27 .5 19 .5-24 .5 13 .5 4 .5 13 .5-3 .5 9 .5-29 .5-3 .5 9 .5 15 .5-23 .5 11 .5-13 .5 12 .5-2 .5 2 .5-16 .5 11 .5-20 .5-1 .5-3 .5 18 .5-12 .5 9 .5-21 .5 22 .5-14 .5 10 .5 10 .5 13 .5-28 .5 22 .5-7 .5 19 .5-31 .5 14 .5-7 .5 21 .5-21 .5 15 .5 3 .5-10 .5-2 .5 12 .5-19 .5 28 .5-25 .5 27 .5-24 .5 10 .5 14 .5 0 .5-14 .5 23 .5-4 .5 2 .5 4 .5-19 .5-10 .5 34 .5-21 .5 10 .5 8 .5-13 .5-8 .5 18 .5-18 .5 14 .5-28 .5 20 .5-21 .5 25 .5-21 .5 21 .5-20 .5-5 .5 1 .5 9 .5-22 .5 37 .5-32 .5 2 .5 16 .5 2 .5-17 .5 16 .5-10 .5 8 .5-22 .5 9 .5 9 .5 15 .5-26 .5 11 .5-4 .5 15 .5-12 .5 21 .5-27 .5 9 .5-8 .5 11 .5-10 .5 25 .5-30 .5 27 .5-5 .5 11 .5-24 .5 8 .5 6 .5 1 .5-13 .5 16 .5-10 .5 7 .5-9 .5 1 .5-19 .5 33 .5-28 .5 9 .5 4 .5-15 .5 21 .5-10 .5-16 .5 10 .5-8 .5 16 .5-9 .5 10 .5-10 .5 8 .5-6 .5 4 .5-4 .5 20 .5-24 .5 18 .5-14 .5 18 .5-19 .5 17 .5-6 .5 5 .5-12 .5 4 .5-12 .5 11 .5-16 .5 25 .5-6 .5 10 .5-8 .5 13 .5-23 .5 27 .5-26 .5 17 .5-23 .5 25 .5-12 .5 14 .5-23 .5 28 .5-31 .5 19 .5-28 .5 28 .5-22 .5 20 .5-21 .5 8 .5 9 .5 3 .5-6 .5 5 .5-15 .5 16 .5-15 .5 13 .5-24 .5 27 .5-29 .5 15 .5-12 .5 19 .5-34 .5 12 .5-12 .5 3 .5-16 .5 15 .5-24 .5 17 .5-19 .5 16 .5-25 .5 13 .5 7 .5-13 .5 5 .5-3 .5 24 .5 5 .5-17 .5 4 .5 6 .5 28 .5-22 .5 26 .5-15 .5 26 .5-3 .5-16 .5 9 .5 9 .5-15 .5 11 .5 7 .5 8 .5-5 .5-2 .5-19 .5 7 .5 10 .5-2 .5-17 .5 14 .5-2 .5 5 .5-26 .5 30 .5-21 .5 20 .5-17 .5 20 .5-11 .5 5 .5 2 .5-17 .5 0 .5 8 .5 10 .5 3 .5-8 .5 9 .5-8 .5 10 .5-25 .5 13 .5-7 .5 1 .5 3 .5-4 .5-1 .5 14 .5-27 .5 27 .5-5 .5 1 .5-4 .5 15 .5-8 .5-2 .5-17 .5 34 .5-20 .5 15 .5-20 .5 10 .5 5 .5-16 .5 10 .5-10 .5 13 .5-13 .5-8 .5 29 .5-32 .5 13 .5 3 .5 10 .5-20 .5 22 .5-22 .5 11 .5-2 .5 16 .5-21 .5 7 .5 12 .5-2 .5-23 .5 26 .5-33 .5 28 .5-20 .5 15 .5-20 .5 10 .5-2 .5-3 .5 8 .5 10 .5-16 .5 15 .5-17 .5 22 .5-21 .5 23 .5-15 .5 7 .5 14 .5-1 .5-21 .5 21 .5-23 .5 24 .5-13 .5 9 .5-21 .5 21 .5-9 .5-3 .5-12 .5 12 .5-1 .5 7 .5-8 .5-6 .5 0 .5 8 .5-17 .5-1 .5 8 .5-6 .5-17 .5 29 .5-14 .5 12 .5-11 .5 12 .5-15 .5 26 .5-32 .5 16 .5 5 .5-13 .5-3 .5 14 .5-21 .5 17 .5-26 .5 20 .5-8 .5-12 .5-6 .5-4 .5-3 .5 3 .5-24 .5 4 .5-8 .5 11 .5-6 .5-9 .5 13 .5 9 .5-4 .5 21 .5-22 .5 29 .5-15 .5 41 .5-15 .5 16 .5 4 .5 2 .5-4 .5-10 .5-6 .5 18 .5-2 .5 26 .5-33 .5 8 .5 1 .5 12 .5-6 .5-7 .5-8 .5 18 .5-1 .5 1 .5-21 .5 11 .5-7 .5 11 .5-16 .5 15 .5-23 .5 10 .5-7 .5 27 .5-20 .5-5 .5-6 .5 35 .5-11 .5 1 .5-3 .5 9 .5-22 .5 22 .5-11 .5 4 .5-17 .5 17 .5-15 .5 17 .5-10 .5 23 .5-7 .5 5 .5-19 .5 19 .5-23 .5 12 .5-11 .5 10 .5-3 .5 0 .5-13 .5 26 .5-21 .5 8 .5-7 .5 13 .5-8 .5 14 .5-18 .5 7 .5 4 .5-13 .5 1 .5 8 .5-4 .5 24 .5-29 .5 25 .5-16 .5 16 .5-9 .5 4 .5-15 .5-3 .5-5 .5-3 .5 9 .5 16 .5-17 .5 20 .5-15 .5 7 .5-22 .5 14 .5 6 .5 1 .5-17 .5-3 .5 12 .5 7 .5-15 .5 20 .5-15 .5 11 .5-23 .5 31 .5-18 .5 19 .5-16 .5 18 .5-22 .5 23 .5-1 .5-12 .5 4 .5-10 .5-13 .5 2 .5 19 .5-5 .5-9 .5 25 .5-26 .5 18 .5-19 .5 26 .5-23 .5 27 .5-37 .5 33 .5-20 .5 22 .5-11 .5-4 .5-9 .5 5 .5-7 .5 12 .5-14 .5 27 .5-25 .5 11 .5-10 .5 1 .5-7 .5 9 .5 0 .5 4 .5-4 .5 14 .5-11 .5 6 .5 2 .5 11 .5-31 .5 28 .5-31 .5 1 .5 8 .5 6 .5-18 .5 17 .5-20 .5 23 .5 1 .5-6 .5-17 .5 11 .5 4 .5 12 .5-25 .5 17 .5-14 .5 27 .5-8 .5 1 .5 5 .5-3 .5 5 .5-2 .5 1 .5-1 .5-13 .5 2 .5-9 .5 8 .5-17 .5 16 .5-5 .5 3 .5-2 .5 2 .5-15 .5 16 .5-15 .5-4 .5 1 .5-5 .5 4 .5-5 .5-17 .5 19 .5-24 .5 31 .5-22 .5 28 .5-25 .5 31 .5-18 .5 17 .5-15 .5 14 .5-5 .5-4 .5-1 .5 19 .5-6 .5 12 .5-5 .5 8 .5-8 .5-10 .5 8 .5-11 .5 3 .5 27 .5-33 .5 4 .5 5 .5 9 .5 2 .5 10 .5-11 .5 0 .5-14 .5 16 .5-28 .5 25 .5-8 .5 13 .5-26 .5 13 .5-10 .5 22 .5-23 .5 0 .5-9 .5 19 .5-22 .5 1 .5-7 .5 23 .5-12 .5 6 .5-11 .5 13 .5 16 .5-1 .5-20 .5 9 .5-2 .5 18 .5-13 .5 16 .5-1 .5-1 .5-4 .5-7 .5-8 .5 17 .5-15 .5 27 .5-22 .5 6 .5-8 .5 6 .5-6 .5 27 .5-29 .5 17 .5-8 .5 18 .5-25 .5 9 .5-17 .5 12 .5 18 .5-5 .5-2 .5-12 .5-4 .5 17 .5-12 .5-4 .5 11 .5-9 .5-1 .5 19 .5-30 .5 3 .5 3 .5 3 .5-18 .5 16 .5-32 .5 28 .5-18 .5 20 .5-9 .5 12 .5-16 .5 19 .5-22 .5 23 .5-13 .5 7 .5 0 .5 14 .5-4 .5 9 .5-17 .5 7 .5-9 .5 9 .5 6 .5 7 .5-4 .5 5 .5-21 .5 27 .5-25 .5 8 .5 14 .5-12 .5-20 .5 22 .5-20 .5 21 .5-19 .5 14 .5-21 .5 17 .5-14 .5 12 .5-6 .5 16 .5-13 .5 13 .5 6 .5-17 .5 0 .5 25 .5-12 .5-15 .5 2 .5 21 .5-14 .5 11 .5-12 .5 16 .5-15 .5-2 .5-3 .5 0 .5 12 .5 4 .5-17 .5 3 .5-11 .5 22 .5-15 .5 1 .5 6 .5-11 .5 3 .5 7 .5-18 .5 23 .5-24 .5 25 .5-22 .5 18 .5-8 .5 18 .5-24 .5 31 .5-32 .5 17 .5-16 .5 7 .5-5 .5 8 .5 1 .5-1 .5 0 .5 19 .5-10 .5 5 .5-11 .5 6 .5-12 .5 16 .5-7 .5 11 .5-21 .5 24 .5-24 .5 26 .5-24 .5 12 .5-14 .5 21 .5-25 .5 5 .5 15 .5 2 .5-20 .5 21 .5-25 .5 18 .5-6 .5 9 .5-26 .5 25 .5-28 .5 30 .5-24 .5 16 .5-14 .5 13 .5 9 .5-10 .5-10 .5 22 .5-19 .5 27 .5-25 .5 5 .5-8 .5 9 .5 2 .5 16 .5-27 .5 20 .5-15 .5 5 .5-8 .5 12 .5-16 .5 15 .5-3 .5 0 .5-12 .5 15 .5-8 .5-7 .5-5 .5 3 .5 4 .5 11 .5-22 .5 25 .5-16 .5 14 .5 2 .5-15 .5 7 .5 9 .5 4 .5 4 .5-30 .5 31 .5-32 .5 21 .5-5 .5 7 .5-27 .5 8 .5 5 .5-11 .5 4 .5 7 .5-1 .5 8 .5-8 .5 11 .5-5 .5 0 .5-15 .5 26 .5-2 .5-16 .5-1 .5 2 .5-4 .5 21 .5-23 .5 19 .5-21 .5 23 .5-25 .5 13 .5 10 .5-6 .5-7 .5 14 .5-7 .5 11 .5-23 .5 21 .5-27 .5 16 .5-19 .5 21 .5-16 .5 9 .5 1 .5 8 .5-2 .5 5 .5-20 .5 5 .5 12 .5-8 .5-8 .5 17 .5-8 .5 0 .5-9 .5 19 .5-14 .5 7 .5-2 .5 23 .5-20 .5 21 .5-24 .5 0 .5 1 .5 10 .5-10 .5 19 .5-23 .5 0 .5 14 .5-5 .5-10 .5 13 .5-16 .5 11 .5-24 .5 18 .5 8 .5-14 .5-4 .5 22 .5-10 .5 4 .5-14 .5 22 .5-14 .5 4 .5 4 .5 4 .5-7 .5-1 .5 5 .5 2 .5-16 .5 34 .5-25 .5-3 .5 4 .5 16 .5-30 .5 22 .5-4 .5 7 .5 0 .5-3 .5-14 .5 15 .5-23 .5 6 .5-4 .5 25 .5-26 .5 15 .5-5 .5 11 .5-8 .5-6 .5-4 .5 29 .5-17 .5 12 .5-17 .5 5 .5-7 .5 3 .5 4 .5 19 .5-26 .5 15 .5-20 .5 29 .5-25 .5 10 .5 5 .5-4 .5-1 .5 23 .5-26 .5 11 .5-18 .5 17 .5-2 .5 9 .5-24 .5 27 .5-30 .5 22 .5-11 .5 22 .5-26 .5 26 .5-20 .5 1 .5-4 .5 28 .5-9 .5-11 .5 11 .5 8 .5-26 .5 5 .5 5 .5 6 .5-25 .5 24 .5-13 .5 6 .5-19 .5 7 .5-9 .5 17 .5-9 .5 16 .5-16 .5 14 .5-23 .5 24 .5-17 .5 27 .5-3 .5-7 .5-1 .5-9 .5 2 .5 23 .5-11 .5 4 .5-15 .5 14 .5-16 .5 6 .5-4 .5 0 .5-3 .5 8 .5-17 .5 29 .5-28 .5 14 .5-15 .5 6 .5 0 .5-10 .5 7 .5 17 .5-13 .5 17 .5-2 .5-11 .5 8 .5 4 .5-16 .5 17 .5-11 .5 8 .5-11 .5-5 .5 0 .5 4 .5-13 .5 22 .5-11 .5-11 .5-1 .5 4 .5 0 .5 18 .5-15 .5 24 .5-30 .5 22 .5-17 .5 19 .5-6 .5-16 .5 16 .5-18 .5-5 .5 8 .5-11 .5 21 .5-6 .5-10 .5-4 .5 7 .5 7 .5 15 .5-22 .5 22 .5 1 .5-6 .5-15 .5 31 .5-22 .5 11 .5-17 .5 13 .5-8 .5-10 .5 2 .5 4 .5 0 .5 2 .5-5 .5-7 .5 18 .5 5 .5-21 .5 20 .5-27 .5 26 .5-21 .5 24 .5-23 .5 20 .5-2 .5 9 .5-5 .5-5 .5-6 .5 12 .5-15 .5 1 .5 14 .5 2 .5 2 .5 7 .5-18 .5 1 .5-13 .5 15 .5 12 .5-17 .5-11 .5 21 .5-5 .5 8 .5-20 .5-1 .5-10 .5 29 .5-15 .5 9 .5-13 .5 8 .5-3 .5 11 .5-22 .5 27 .5-10 .5 10 .5-24 .5 15 .5 0 .5 5 .5-15 .5 23 .5-32 .5 12 .5 6 .5 11 .5-13 .5 24 .5-31 .5 24 .5-12 .5 1 .5-7 .5 24 .5-4 .5 4 .5-16 .5 6 .5-4 .5 15 .5-11 .5 19 .5-14 .5 4 .5-3 .5 7 .5-24 .5 24 .5-21 .5 24 .5-19 .5 18 .5-14 .5-1 .5-17 .5 28 .5-22 .5 21 .5-1 .5-5 .5-16 .5 28 .5-22 .5 1 .5-5 .5 20 .5-9 .5 12 .5 1 .5 6 .5-27 .5 19 .5-2 .5-10 .5-8 .5 19 .5-20 .5 25 .5-16 .5-3 .5-19 .5 33 .5-25 .5 21 .5-20 .5 8 .5-2 .5 15 .5-11 .5 2 .5 1 .5 10 .5-19 .5 8 .5-15 .5 15 .5 4 .5 5 .5-25 .5 13 .5-1 .5 13 .5-1 .5-9 .5-3 .5 3 .5 1 .5 8 .5-28 .5 15 .5-5 .5 16 .5-24 .5 31 .5-22 .5 20 .5-19 .5 15 .5-14 .5-2 .5 0 .5 19 .5 0 .5 1 .5-11 .5 15 .5-23 .5 27 .5-33 .5 27 .5-6 .5 15 .5-21 .5 2 .5-9 .5 20 .5-15 .5 12 .5-7 .5 5 .5-24 .5-2 .5 9 .5 16 .5-21 .5 6 .5-1 .5-3 .5 2 .5 0 .5-10 .5 19 .5-16 .5 18 .5-3 .5-9 .5 8 .5 13 .5-16 .5 29 .5-28 .5 16 .5-25 .5 21 .5-16 .5 18 .5-11 .5-5 .5-11 .5 16 .5 0 .5-9 .5-8 .5 25 .5-7 .5-12 .5-8 .5 29 .5-26 .5 13 .5-1 .5 7 .5-5 .5 7 .5-18 .5 21 .5-20 .5 1 .5 24 .5-6 .5-21 .5 26 .5-17 .5 8 .5-15 .5 26 .5-15 .5-8 .5-1 .5 0 .5-2 .5 7 .5 11 .5-4 .5-7 .5 21 .5-16 .5 20 .5-12 .5-8 .5-9 .5 23 .5-13 .5 7 .5-12 .5 23 .5-23 .5 17 .5-19 .5 10 .5-5 .5 3 .5 7 .5 3 .5-35 .5 27 .5-18 .5 17 .5-4 .5 5 .5-19 .5 33 .5-15 .5-2 .5 7 .5 7 .5-12 .5 5 .5-13 .5 12 .5-4 .5 2 .5-23 .5 25 .5-12 .5 15 .5-20 .5 14 .5 2 .5 2 .5-17 .5 15 .5-11 .5-10 .5 5"/>
<path class="c" stroke="#0000ff" d="M130.5 727l.5 4 .5-10 .5 19 .5-13 .5 12 .5-24 .5 19 .5-26 .5 14 .5-9 .5 11 .5-14 .5 26 .5-14 .5 10 .5-14 .5-2 .5 0 .5 16 .5-23 .5 20 .5-6 .5 8 .5-16 .5 10 .5-3 .5-1 .5-2 .5 9 .5-7 .5 1 .5-11 .5 23 .5-18 .5 15 .5 3 .5-9 .5-7 .5 7 .5-10 .5 22 .5-21 .5 10 .5 0 .5 12 .5-23 .5 23 .5-20 .5 17 .5-29 .5 23 .5 7 .5-2 .5-1 .5 5 .5-17 .5 17 .5-2 .5-5 .5 14 .5-3 .5-6 .5 2 .5-17 .5 13 .5-15 .5 4 .5-11 .5 29 .5-14 .5 9 .5-10 .5-9 .5-3 .5 21 .5-12 .5 16 .5-2 .5-13 .5 1 .5 15 .5-4 .5-6 .5-15 .5 4 .5 1 .5 5 .5-17 .5 18 .5-11 .5 6 .5 4 .5 5 .5-23 .5 37 .5-22 .5 18 .5-10 .5 20 .5-17 .5-1 .5-9 .5 23 .5-12 .5 13 .5-10 .5-4 .5-11 .5 13 .5-16 .5 25 .5-21 .5 17 .5-15 .5 2 .5-7 .5 20 .5-5 .5 10 .5-21 .5 20 .5-21 .5 29 .5-26 .5 16 .5-13 .5 9 .5 6 .5-1 .5-23 .5 17 .5-4 .5-10 .5-6 .5 28 .5-16 .5 10 .5-11 .5 15 .5-26 .5 13 .5-4 .5 2 .5-7 .5 19 .5-19 .5 25 .5-15 .5 25 .5-12 .5 0 .5-4 .5 1 .5-15 .5 25 .5-5 .5 2 .5-17 .5 17 .5-16 .5 2 .5-10 .5 17 .5-24 .5 22 .5-20 .5 2 .5 2 .5 6 .5-16 .5 16 .5-8 .5 15 .5-22 .5 23 .5-10 .5 2 .5-2 .5-6 .5-6 .5-4 .5 10 .5 14 .5-16 .5 7 .5-10 .5 27 .5-3 .5-15 .5 1 .5 21 .5-13 .5 8 .5-30 .5 29 .5-21 .5 21 .5-21 .5 12 .5-21 .5 31 .5-16 .5 13 .5-12 .5 8 .5-3 .5 6 .5-16 .5 17 .5-16 .5 15 .5-17 .5 10 .5 3 .5-2 .5 4 .5 3 .5-18 .5 12 .5-17 .5 20 .5-19 .5 15 .5-12 .5 21 .5-12 .5-4 .5-6 .5 8 .5 2 .5 4 .5-8 .5-4 .5-2 .5 18 .5-16 .5 17 .5-18 .5 19 .5-7 .5 12 .5-5 .5-3 .5-10 .5 8 .5-11 .5 13 .5-22 .5 19 .5-1 .5 10 .5-22 .5 3 .5-5 .5 5 .5 4 .5 3 .5 2 .5 7 .5-12 .5 1 .5-6 .5 21 .5-22 .5 23 .5-10 .5-5 .5-6 .5 25 .5-33 .5 16 .5-9 .5-5 .5 3 .5 8 .5-9 .5 12 .5-12 .5-2 .5 5 .5 7 .5-16 .5 20 .5-14 .5 17 .5-13 .5 1 .5 1 .5 9 .5-6 .5-1 .5-9 .5 19 .5-2 .5 19 .5-12 .5-13 .5-9 .5 26 .5-20 .5 16 .5-12 .5 8 .5 2 .5-11 .5-3 .5 15 .5-20 .5 14 .5-11 .5 1 .5 4 .5 8 .5-17 .5 21 .5-18 .5 16 .5-19 .5 14 .5-15 .5 14 .5-17 .5 17 .5-17 .5 23 .5-20 .5 13 .5-19 .5 19 .5-7 .5 3 .5 3 .5 8 .5-17 .5 19 .5-24 .5 9 .5-4 .5 8 .5-12 .5 18 .5-22 .5 18 .5 0 .5-3 .5-11 .5 20 .5-14 .5 10 .5-14 .5-1 .5-5 .5 18 .5-12 .5 17 .5-10 .5 5 .5-3 .5 16 .5-10 .5-8 .5-7 .5 25 .5-14 .5 5 .5-15 .5 1 .5 5 .5 8 .5-22 .5 21 .5-17 .5 13 .5-7 .5 6 .5-13 .5 17 .5-17 .5 11 .5-14 .5 29 .5-24 .5 19 .5-14 .5 7 .5-3 .5 4 .5-8 .5 22 .5-27 .5 10 .5 9 .5 3 .5-11 .5 16 .5-24 .5 22 .5-23 .5 15 .5-16 .5 12 .5-8 .5 10 .5-8 .5 19 .5-21 .5 2 .5-5 .5 17 .5 4 .5 2 .5 1 .5-10 .5-13 .5 24 .5-21 .5-1 .5 4 .5 7 .5-12 .5 9 .5-9 .5 13 .5-15 .5 9 .5-1 .5 2 .5-7 .5-7 .5 2 .5 19 .5-18 .5 15 .5-19 .5 22 .5-17 .5 16 .5-4 .5 4 .5 5 .5-7 .5-3 .5 7 .5-11 .5 6 .5-20 .5 23 .5-4 .5 10 .5-17 .5 20 .5-10 .5-11 .5 4 .5 8 .5-10 .5 7 .5-2 .5 6 .5-7 .5-7 .5-15 .5 22 .5-24 .5 23 .5-21 .5 14 .5-2 .5 5 .5-1 .5 1 .5 4 .5 4 .5-13 .5 2 .5-2 .5 21 .5-10 .5 7 .5-20 .5 14 .5 9 .5-3 .5-23 .5 13 .5-8 .5 9 .5-6 .5 0 .5-14 .5 25 .5-19 .5 13 .5-16 .5 22 .5-4 .5 0 .5-16 .5 28 .5-10 .5 9 .5-24 .5-1 .5-2 .5 2 .5 8 .5 4 .5-3 .5 11 .5-15 .5 18 .5-9 .5-14 .5-6 .5 30 .5-24 .5 18 .5-15 .5 15 .5-17 .5 4 .5-13 .5 22 .5-10 .5 2 .5-16 .5 35 .5-33 .5 3 .5-3 .5 13 .5-11 .5 20 .5-1 .5-17 .5-3 .5 26 .5-26 .5 29 .5-28 .5 13 .5-9 .5 28 .5-30 .5 25 .5-8 .5 3 .5-24 .5 17 .5 5 .5 2 .5-17 .5 19 .5-13 .5 4 .5-7 .5 7 .5-16 .5 31 .5-25 .5 12 .5-2 .5 7 .5-13 .5 3 .5-21 .5 14 .5 5 .5-4 .5-12 .5 20 .5-23 .5 19 .5-10 .5 15 .5-3 .5-3 .5-11 .5-5 .5-6 .5 22 .5-21 .5 31 .5-29 .5 17 .5-8 .5 9 .5-14 .5 12 .5 8 .5-15 .5 11 .5-10 .5-4 .5 10 .5-11 .5 18 .5-18 .5 15 .5-4 .5-1 .5-57 .5 64 .5-24 .5 32 .5-7 .5 15 .5-29 .5 22 .5-21 .5 14 .5-4 .5 0 .5-7 .5 5 .5-9 .5 12 .5-7 .5 2 .5-7 .5 16 .5-32 .5 34 .5-37 .5 37 .5-28 .5 28 .5-27 .5 10 .5-20 .5 20 .5-20 .5 36 .5-28 .5 25 .5-24 .5 20 .5-25 .5 28 .5 1 .5-4 .5-18 .5 20 .5-15 .5 13 .5 2 .5 7 .5-27 .5-29 .5 37 .5 16 .5-20 .5 22 .5-25 .5 21 .5-13 .5-11 .5-5 .5 26 .5-30 .5 21 .5-30 .5 8 .5 20 .5-18 .5 0 .5 10 .5-20 .5 6 .5-7 .5 3 .5 6 .5 19 .5-22 .5 8 .5-21 .5 19 .5-18 .5 35 .5-29 .5 31 .5-30 .5 27 .5-4 .5 2 .5-4 .5-4 .5-1 .5-4 .5 7 .5-14 .5 9 .5 10 .5-10 .5 29 .5-25 .5 33 .5-35 .5 15 .5-15 .5 17 .5-14 .5 27 .5 0 .5-25 .5-16 .5 30 .5-10 .5 8 .5-22 .5 22 .5-27 .5 18 .5-24 .5 30 .5-22 .5 22 .5-10 .5 6 .5-11 .5 11 .5-32 .5 15 .5-14 .5 9 .5 1 .5-3 .5 0 .5 13 .5-14 .5 24 .5-30 .5 8 .5 13 .5 3 .5-14 .5-11 .5-4 .5 9 .5 0 .5 10 .5-18 .5 23 .5-22 .5 1 .5-5 .5 8 .5 12 .5 15 .5-18 .5-10 .5 5 .5 25 .5-32 .5 9 .5-7 .5 19 .5-4 .5 22 .5-21 .5 4 .5-6 .5 14 .5-36 .5 32 .5-24 .5 22 .5-22 .5 26 .5-15 .5 9 .5-31 .5 9 .5-14 .5 13 .5 12 .5-26 .5 21 .5 5 .5-20 .5 13 .5-26 .5 21 .5-22 .5 6 .5-11 .5 16 .5-18 .5 10 .5 0 .5 5 .5 5 .5 19 .5-20 .5-7 .5 20 .5 5 .5-21 .5 11 .5 6 .5-4 .5-4 .5 12 .5 2 .5 3 .5-24 .5 31 .5-11 .5 5 .5-24 .5 20 .5-9 .5-7 .5 13 .5 2 .5-10 .5 9 .5-8 .5 7 .5-21 .5 6 .5 3 .5-18 .5 3 .5 20 .5-5 .5-12 .5 9 .5 3 .5-9 .5 13 .5-16 .5 4 .5-7 .5 13 .5-2 .5 13 .5-1 .5-19 .5-9 .5 46 .5-36 .5 8 .5-5 .5 5 .5-11 .5 30 .5-13 .5 8 .5-19 .5 14 .5-27 .5 11 .5 12 .5 16 .5-13 .5 1 .5-15 .5 17 .5-27 .5 29 .5-19 .5 7 .5-24 .5 25 .5-12 .5-1 .5-9 .5 8 .5-21 .5 31 .5-28 .5 14 .5-9 .5 17 .5-36 .5 39 .5-32 .5 32 .5-27 .5 11 .5-1 .5 0 .5-5 .5 27 .5-38 .5 9 .5 3 .5 23 .5-15 .5-3 .5 3 .5-8 .5-12 .5 20 .5-4 .5 4 .5 8 .5 10 .5-41 .5 35 .5-32 .5 17 .5-7 .5 28 .5-30 .5 13 .5-4 .5 5 .5-1 .5 28 .5-22 .5 1 .5 4 .5-6 .5-5 .5 13 .5-5 .5-39 .5 14 .5 10 .5-11 .5 31 .5-23 .5 16 .5-21 .5 38 .5-22 .5-12 .5-2 .5 19 .5 0 .5 10 .5 0 .5 6 .5-11 .5-4 .5-22 .5 23 .5-42 .5 30 .5-20 .5 26 .5-27 .5 33 .5-16 .5 13 .5-20 .5 17 .5-9 .5-5 .5 2 .5-4 .5-8 .5 20 .5-26 .5 15 .5-3 .5 4 .5-21 .5 18 .5-9 .5 24 .5-29 .5 36 .5-37 .5 28 .5-23 .5 38 .5-23 .5 6 .5-19 .5 23 .5-16 .5 14 .5-4 .5 20 .5-28 .5 15 .5-17 .5 28 .5-20 .5 8 .5-31 .5 14 .5 12 .5-19 .5-5 .5 13 .5-19 .5 32 .5-30 .5 24 .5-10 .5 11 .5-12 .5 41 .5-49 .5 15 .5 4 .5 26 .5-8 .5 12 .5-38 .5 20 .5 5 .5 10 .5-14 .5 24 .5-35 .5-6 .5 19 .5-3 .5-11 .5 22 .5-26 .5 36 .5-44 .5 11 .5-7 .5 16 .5-20 .5 35 .5-31 .5 2 .5 15 .5-20 .5 25 .5-3 .5-15 .5-7 .5 32 .5-10 .5-4 .5-3 .5 4 .5 14 .5-29 .5-24 .5 24 .5 14 .5-25 .5 19 .5-13 .5 22 .5-21 .5 39 .5-32 .5 28 .5-30 .5 18 .5-12 .5 36 .5-25 .5-3 .5 4 .5-2 .5 11 .5-22 .5 19 .5 7 .5-27 .5 25 .5-11 .5 27 .5-16 .5 9 .5-23 .5 19 .5-24 .5 35 .5-9 .5 2 .5-25 .5 24 .5-16 .5 15 .5-35 .5 15 .5-13 .5 25 .5 2 .5 13 .5-29 .5 15 .5-21 .5 21 .5-29 .5 29 .5-25 .5 28 .5-21 .5 21 .5-14 .5 14 .5-13 .5 23 .5-34 .5 31 .5-9 .5 0 .5-21 .5 34 .5-39 .5 41 .5-41 .5 15 .5-11 .5 12 .5-18 .5 34 .5-33 .5 2 .5-10 .5 21 .5-20 .5 4 .5-18 .5 15 .5-2 .5 3 .5-23 .5 7 .5-21 .5 16 .5-9 .5 0 .5-6 .5 32 .5-31 .5 32 .5-27 .5 22 .5-11 .5 29 .5-22 .5 17 .5-19 .5 26 .5-2 .5 2 .5-3 .5 23 .5-5 .5 5 .5-5 .5 16 .5-21 .5 16 .5-9 .5 5 .5-4 .5 3 .5-15 .5 15 .5-11 .5 10 .5-23 .5 34 .5-24 .5 16 .5-15 .5 11 .5-10 .5 19 .5-4 .5-7 .5 7 .5 19 .5-6 .5-61 .5 28 .5 21 .5-6 .5 15 .5-18 .5 18 .5-7 .5 5 .5 2 .5 3 .5-22 .5 37 .5-18 .5-19 .5 14 .5 9 .5-30 .5 10 .5 6 .5 11 .5-22 .5 18 .5-14 .5 17 .5 0 .5-8 .5-16 .5 7 .5 10 .5-3 .5-9 .5 37 .5-41 .5 10 .5 2 .5 33 .5-14 .5-3 .5-19 .5 42 .5-25 .5-13 .5-4 .5 22 .5 0 .5 17 .5-41 .5 23 .5-12 .5 31 .5-33 .5 9 .5-12 .5 15 .5-39 .5 25 .5-31 .5 46 .5-33 .5 40 .5-31 .5 14 .5-19 .5 40 .5-6 .5 1 .5-15 .5 17 .5 5 .5-15 .5 20 .5-11 .5-11 .5 21 .5-20 .5-9 .5 5 .5 10 .5-14 .5 20 .5-13 .5-7 .5-2 .5 31 .5-25 .5 13 .5 1 .5 1 .5-13 .5 21 .5-30 .5 19 .5-10 .5 25 .5-18 .5 15 .5-30 .5 25 .5-18 .5 6 .5 10 .5 12 .5-7 .5-10 .5-10 .5 24 .5-38 .5 27 .5 0 .5 10 .5-9 .5-1 .5-20 .5 4 .5 15 .5 18 .5-17 .5 5 .5 4 .5 16 .5-46 .5 13 .5-7 .5 31 .5-31 .5 15 .5 1 .5 3 .5-29 .5 37 .5-22 .5-11 .5 27 .5-9 .5-24 .5 16 .5-11 .5 28 .5-14 .5 20 .5-31 .5 39 .5-13 .5 9 .5-16 .5 17 .5-8 .5-17 .5 12 .5 5 .5-18 .5 15 .5-20 .5 20 .5-29 .5 0 .5-2 .5 23 .5-32 .5 43 .5-37 .5 31 .5-11 .5 8 .5-13 .5-4 .5-12 .5 38 .5-31 .5 20 .5-28 .5 38 .5-30 .5 32 .5-19 .5 4 .5-5 .5 31 .5-18 .5 15 .5-23 .5 36 .5-34 .5 22 .5-29 .5 26 .5-11 .5 16 .5-23 .5 14 .5 14 .5-9 .5-18 .5 26 .5-36 .5 35 .5-11 .5 4 .5-24 .5 6 .5-15 .5 15 .5-14 .5 27 .5-43 .5 35 .5-9 .5-7 .5 20 .5-13 .5-24 .5 12 .5 10 .5-26 .5 21 .5-1 .5-1 .5 6 .5-5 .5-5 .5-1 .5 20 .5 9 .5-28 .5 0 .5 3 .5 29 .5 25 .5-34 .5 12 .5 10 .5 13 .5-14 .5-19 .5 6 .5 7 .5-15 .5 0 .5 25 .5 4 .5-25 .5 13 .5-4 .5-8 .5-17 .5 28 .5-23 .5 23 .5-14 .5 18 .5-31 .5 38 .5-8 .5-6 .5 10 .5 6 .5-36 .5 18 .5-6 .5 10 .5 2 .5-9 .5-10 .5 19 .5-22 .5 13 .5-4 .5 15 .5-32 .5 17 .5 4 .5-6 .5-14 .5 7 .5-2 .5 16 .5-21 .5-3 .5 0 .5 14 .5-13 .5 13 .5 2 .5-18 .5 10 .5 19 .5-21 .5 8 .5 5 .5 6 .5-18 .5 18 .5-26 .5 34 .5-42 .5 33 .5-24 .5 26 .5-29 .5 25 .5-23 .5 13 .5-14 .5 35 .5-7 .5 13 .5-20 .5 15 .5-20 .5 14 .5-8 .5 16 .5-32 .5 27 .5-32 .5 18 .5-17 .5-15 .5-7 .5-6 .5-7 .5 28 .5-25 .5 40 .5-30 .5 16 .5 7 .5 7 .5-15 .5 28 .5-10 .5-23 .5 6 .5 21 .5-32 .5 33 .5-18 .5 3 .5-8 .5 27 .5-26 .5 19 .5-16 .5 21 .5 1 .5 0 .5-12 .5-6 .5-8 .5 7 .5 24 .5 8 .5-24 .5 11 .5-8 .5-9 .5 9 .5 29 .5-29 .5 19 .5-15 .5 14 .5-27 .5 10 .5 1 .5-1 .5 24 .5 5 .5-33 .5 20 .5-10 .5-7 .5 16 .5 12 .5 0 .5-10 .5 14 .5 4 .5-24 .5 7 .5-15 .5 17 .5-12 .5 29 .5-17 .5 7 .5 11 .5-8 .5-8 .5 8 .5-20 .5 29 .5-16 .5 11 .5-19 .5 21 .5-7 .5-13 .5-2 .5 3 .5-14 .5 20 .5-22 .5 22 .5-16 .5 29 .5-22 .5 19 .5-24 .5 5 .5-2 .5-5 .5-6 .5 23 .5-18 .5-2 .5 4 .5 12 .5-18 .5 19 .5-20 .5 9 .5-18 .5 26 .5-38 .5 39 .5-29 .5 16 .5-15 .5 13 .5-24 .5 38 .5-22 .5-12 .5 24 .5 0 .5-5 .5-8 .5-7 .5 25 .5-20 .5 3 .5-16 .5 44 .5-30 .5 24 .5-11 .5 19 .5-11 .5-11 .5 5 .5 7 .5-10 .5 21 .5-28 .5 21 .5-14 .5 23 .5-7 .5 9 .5-18 .5 2 .5-3 .5-1 .5-1 .5 18 .5-14 .5 17 .5-21 .5 23 .5-21 .5 29 .5-22 .5 20 .5-10 .5-15 .5-5 .5 20 .5 1 .5 6 .5-23 .5 17 .5-10 .5 0 .5-11 .5 2 .5 17 .5-9 .5-12 .5 10 .5-6 .5 14 .5-7 .5 9 .5-17 .5 26 .5-39 .5 23 .5 3 .5 8 .5-13 .5 3 .5 6 .5 10 .5-23 .5 20 .5-9 .5 8 .5-21 .5 24 .5-25 .5 20 .5-16 .5 16 .5-10 .5 16 .5-23 .5 2 .5-4 .5 22 .5-26 .5 7 .5 1 .5-3 .5 9 .5 2 .5-12 .5 16 .5-15 .5 17 .5-23 .5 23 .5-14 .5 12 .5-17 .5 14 .5-15 .5 8 .5-1 .5-1 .5 1 .5 0 .5-14 .5 35 .5-26 .5 11 .5-13 .5 4 .5 0 .5 4 .5 2 .5 9 .5-20 .5 9 .5 2 .5 3 .5-16 .5 9 .5 2 .5 9 .5-3 .5 0 .5-19 .5 23 .5-12 .5 2 .5 8 .5 10 .5-25 .5 33 .5-29 .5 25 .5-21 .5 23 .5-26 .5 29 .5-3 .5-3 .5-21 .5-1 .5 7 .5-2 .5 2 .5 13 .5-4 .5 0 .5-2 .5-1 .5-17 .5 25 .5-24 .5 22 .5-15 .5 10 .5-33 .5 38 .5-14 .5-5 .5-2 .5 17 .5-15 .5 3 .5-12 .5 19 .5 6 .5-11 .5 8 .5 1 .5-15 .5 21 .5 1 .5-7 .5-16 .5 12 .5-4 .5 12 .5-16 .5 2 .5 6 .5 15 .5-9 .5 1 .5-6 .5-3 .5-17 .5 36 .5-28 .5 25 .5-37 .5 34 .5-34 .5 29 .5-6 .5-14 .5-5 .5 18 .5-4 .5 4 .5 3 .5 1 .5-25 .5 9 .5 1 .5 15 .5-13 .5 8 .5-17 .5 19 .5-12 .5 22 .5-27 .5 26 .5-35 .5 31 .5-20 .5 12 .5 5 .5-7 .5-12 .5 21 .5 6 .5 4 .5-19 .5 11 .5-2 .5 8 .5-20 .5 25 .5-22 .5 7 .5 2 .5 2 .5 6 .5 9 .5-14 .5 11 .5-30 .5 15 .5-15 .5 16 .5-10 .5 20 .5-22 .5 11 .5-4 .5 10 .5-21 .5 21 .5-13 .5 15 .5-21 .5 27 .5-8 .5 8 .5-22 .5 17 .5-21 .5 0 .5 15 .5 18 .5-28 .5 8 .5 1 .5 6 .5-3 .5 13 .5-12 .5 2 .5-9 .5 7 .5-13 .5 23 .5 1 .5-22 .5-3 .5 33 .5-23 .5 3 .5-19 .5 11 .5 1 .5-7 .5-21 .5 7 .5-9 .5 15 .5-4 .5-9 .5-13 .5 4 .5-20 .5 10 .5 1 .5 19 .5-14 .5 2 .5-3 .5 25 .5 3 .5-13 .5 11 .5-7 .5 2 .5 23 .5-9 .5 16 .5-4 .5 11 .5-16 .5 17 .5-13 .5 15 .5-23 .5 22 .5-14 .5 6 .5-7 .5 6 .5-6 .5 14 .5-20 .5 31 .5-25 .5 5 .5-2 .5 20 .5-22 .5 2 .5 6 .5 6 .5-6 .5 0 .5 6 .5 7 .5-25 .5 19 .5-15 .5 17 .5-22 .5 24 .5-27 .5 17 .5-4 .5-12 .5 9 .5-1 .5-11 .5 19 .5-9 .5 4 .5-16 .5 9 .5-13 .5 20 .5-19 .5 24 .5-26 .5 22 .5-19 .5 3 .5-5 .5 20 .5-14 .5 26 .5-12 .5-10 .5 7 .5 12 .5-27 .5 15 .5-2 .5-8 .5 6 .5 11 .5-21 .5 16 .5-17 .5 9 .5 6 .5 7 .5-18 .5 22 .5-15 .5 12 .5-18 .5 26 .5-26 .5 8 .5 2 .5-8 .5 4 .5 14 .5-20 .5 5 .5 1 .5 13 .5-15 .5 15 .5-46 .5 43 .5-9 .5-5 .5 10 .5 8 .5-20 .5 23 .5-11 .5 17 .5-24 .5 6 .5-13 .5 15 .5-11 .5 7 .5-8 .5 1 .5 7 .5 15 .5 0 .5-8 .5-6 .5 15 .5-25 .5 11 .5 1 .5 6 .5-19 .5 12 .5-4 .5-4 .5 12 .5-7 .5-11 .5 15 .5-22 .5 16 .5-1 .5 8 .5-9 .5 5 .5-10 .5-6 .5-2 .5 25 .5-16 .5 11 .5-12 .5 11 .5-20 .5 20 .5-15 .5 28 .5-17 .5 5 .5-19 .5 23 .5-9 .5 8 .5-22 .5 17 .5-16 .5 25 .5-13 .5 17 .5-12 .5 6 .5-16 .5 16 .5-8 .5 6 .5 2 .5 7 .5-21 .5 15 .5-9 .5-3 .5 7 .5 14 .5-28 .5 17 .5-20 .5 16 .5-4 .5 6 .5-17 .5 7 .5 7 .5 5 .5-1 .5-12 .5-6 .5 22 .5 1 .5-9 .5-14 .5-20 .5 17 .5 28 .5-9 .5 3 .5-21 .5 26 .5-24 .5 14 .5-4 .5 9 .5-18 .5 20 .5-18 .5 24 .5-11 .5-1 .5-9 .5 18 .5-17 .5 11 .5-15 .5 13 .5-13 .5 15 .5-16 .5 28 .5-32 .5 23 .5-16 .5 9 .5-10 .5 25 .5-19 .5 13 .5-6 .5 8 .5-8 .5 7 .5-2 .5-16 .5 15 .5 1 .5-1 .5 3 .5-14 .5-3 .5 5 .5 9 .5-10 .5 11 .5-19 .5 13 .5-18 .5 21 .5-9 .5 5 .5-13 .5 17 .5-11 .5 14 .5-14 .5 1 .5 5 .5 4 .5-23 .5 23 .5-10 .5 10 .5-16 .5 0 .5 3 .5-2 .5 4 .5 8 .5 6 .5-1 .5-10 .5 10 .5-16 .5 20 .5-20 .5 13 .5-11 .5 21 .5-13 .5-4 .5 1 .5 9 .5-14 .5 20 .5-28 .5 28 .5-21 .5 1 .5-7 .5 16 .5-18 .5 10 .5-7 .5 20 .5-6 .5-1 .5-3 .5-1 .5-19 .5 28 .5-11 .5 6 .5-16 .5 18 .5-18 .5 30 .5-20 .5 20 .5-22 .5 13 .5-19 .5 18 .5-17 .5 1 .5-4 .5 23 .5 5 .5-24 .5-3 .5 12 .5 3 .5 12 .5-16 .5-2 .5-2 .5 18 .5-8 .5 7 .5-28 .5 23 .5-18 .5 7 .5-2 .5 8 .5-11 .5 13 .5-24 .5 23 .5-20 .5 22 .5-21 .5-14 .5 15 .5 21 .5-14 .5 17 .5-20 .5 14 .5-1 .5-21 .5 22 .5-6 .5-2 .5-7 .5-4 .5 7 .5 2 .5 9 .5 0 .5 10 .5-32 .5 28 .5-19 .5 9 .5 11 .5-6 .5 2 .5 8 .5-12 .5 6 .5 3 .5-7 .5-4 .5-1 .5-10 .5 24 .5-2 .5-10 .5 0 .5 10 .5-10 .5 11 .5-18 .5 14 .5-13 .5 24 .5-25 .5-1 .5 6 .5 7 .5-2 .5 8 .5-13 .5 14 .5-19 .5 4 .5 1 .5 4 .5 5 .5 3 .5-14 .5 1 .5-5 .5 19 .5-18 .5 14 .5-11 .5 1 .5 0 .5 16 .5-24 .5 21 .5-12 .5 9 .5-2 .5 4 .5-10 .5 5 .5-7 .5 12 .5-20 .5 25 .5-11 .5 7 .5-8 .5-2 .5-4 .5 7 .5-2 .5 0 .5-5 .5 9 .5-5 .5 14 .5-18 .5 5 .5-15 .5 9 .5 1 .5-4 .5-2 .5 22 .5-25 .5 17 .5 4 .5 4 .5-21 .5 9 .5-2 .5 17 .5-24 .5 14 .5-10 .5 7 .5-11 .5 15 .5-15 .5 39 .5-45 .5 18 .5-16 .5 22 .5-17 .5 9 .5 3 .5 7 .5-26 .5 18 .5 4 .5-12 .5 2 .5 6 .5-9 .5 8 .5 10 .5 2 .5-8 .5 1 .5-10 .5 16 .5-19 .5 14 .5-21 .5 19 .5-6 .5 2 .5-4 .5 9 .5 6 .5-20 .5-1 .5 27 .5-22 .5 26 .5-12 .5-17 .5 3 .5 19 .5-18 .5 17 .5-21 .5 12 .5-4 .5 7 .5-14 .5-4 .5-1 .5 18 .5-5 .5-9 .5-1 .5 20 .5-24 .5 16 .5-6 .5 7 .5-16 .5 13 .5-12 .5 13 .5 14 .5-2 .5-10 .5 17 .5-31 .5 25 .5-21 .5 17 .5-3 .5 20 .5-20 .5-4 .5-7 .5 4 .5-5 .5 16 .5-11 .5 17 .5-28 .5 14 .5-5 .5-1 .5 7 .5 13 .5-21 .5 1 .5 12 .5 4 .5 0 .5-4 .5-19 .5 23 .5-28 .5 27 .5-19 .5 4 .5 5 .5 6 .5-10 .5 16 .5-2 .5 5 .5-22 .5 23 .5-23 .5 6 .5 6 .5 4 .5-20 .5 29 .5-11 .5 10 .5-3 .5 3 .5-16 .5 15 .5-15 .5 4 .5-4 .5-7 .5-4 .5-2 .5 4 .5 17 .5-19 .5 6 .5 2 .5 1 .5-15 .5 25 .5-13 .5-2 .5-10 .5 16 .5-14 .5 2 .5-4 .5 23 .5-14 .5 9 .5 3 .5 0 .5-12 .5 13 .5-21 .5 16 .5-6 .5 3 .5-22 .5 22 .5-17 .5 16 .5-18 .5 7 .5 16 .5-11 .5-17 .5 20 .5-20 .5 22 .5-5 .5-6 .5 9 .5 6 .5-18 .5 19 .5-23 .5 21 .5-10 .5 11 .5-11 .5 3 .5-10 .5 18 .5-6 .5 5 .5-10 .5 3 .5 11 .5-9 .5-1 .5 10 .5-10 .5-9 .5 15 .5 16 .5-15 .5 3 .5-24 .5 24 .5-15 .5 10 .5 2 .5 0 .5-15 .5 12 .5 5 .5 3 .5-29 .5 18 .5 6 .5 17 .5-15 .5 12 .5-23 .5 12 .5-7 .5 18 .5-18 .5 10 .5-10 .5 18 .5-24 .5-2 .5 19 .5-1 .5-7 .5 7 .5 4 .5-12 .5-6 .5 15 .5-17 .5 10 .5-1 .5 7 .5-10 .5 0 .5-9 .5 18 .5-12 .5 11 .5-5 .5 5 .5-17 .5 14 .5-1 .5-1 .5-8 .5 24 .5-27 .5 24 .5-11 .5-7 .5-3 .5 15 .5-10 .5 8 .5 6 .5 1 .5-27 .5 20 .5-7 .5 3 .5-7 .5 13 .5 4 .5-8 .5-17 .5 22 .5-14 .5 16 .5-20 .5 10 .5 4 .5 9 .5-26 .5 17 .5-8 .5 17 .5-15 .5 19 .5-14 .5 2 .5 7 .5 1 .5-22 .5 25 .5-4 .5-7 .5-15 .5 19 .5-10 .5-2 .5-1 .5 12 .5-11 .5 8 .5-6 .5-4 .5 6 .5 8 .5-20 .5 10 .5-14 .5 20 .5-15 .5 9 .5-6 .5 16 .5-4 .5-11 .5-8 .5 11 .5-7 .5 9 .5-25 .5 29 .5-9 .5 16 .5-26 .5 2 .5 6 .5 13 .5-18 .5 5 .5-3 .5 15 .5-8 .5 8 .5-11 .5 10 .5-15 .5 26 .5-7 .5-9 .5-2 .5 11 .5-7 .5-1 .5-18 .5 30 .5-25 .5 22 .5-9 .5-15 .5 18 .5 7 .5-16 .5 7 .5-20 .5 18 .5-4 .5 17 .5-29 .5 27 .5-25 .5 14 .5-14 .5 27 .5-21 .5 10 .5 3 .5-8 .5-15 .5 28 .5-24 .5 32 .5-26 .5 9 .5-12 .5 24 .5-17 .5 17 .5-23 .5 7 .5 6 .5 10 .5-13 .5 12 .5-16 .5 26 .5-27 .5 10 .5-11 .5 20 .5-12 .5 4 .5-19 .5 16 .5-9 .5 10 .5-5 .5 5 .5-18 .5 12 .5-5 .5 13 .5-24 .5 21 .5-16 .5 11 .5-10 .5 11 .5-28 .5 17 .5-17 .5 8 .5-5 .5 8 .5-22 .5 13 .5-6 .5-6 .5 1 .5-4 .5 18 .5 4 .5 1 .5 8 .5-20 .5 32 .5-11 .5 2 .5-16 .5 21 .5-11 .5 22 .5-11 .5 8 .5-15 .5 24 .5-15 .5 21 .5-10 .5-1 .5-3 .5 3 .5-4 .5 16 .5-5 .5-1 .5-5 .5 2 .5-12 .5 14 .5 1 .5-14 .5 1 .5 16 .5-22 .5 25 .5-14 .5 4 .5-19 .5 19 .5-25 .5 20 .5-16 .5 26 .5-12 .5 1 .5-7 .5 5 .5-10 .5 17 .5-13 .5 16 .5-12 .5 8 .5-11 .5 15 .5-18 .5 15 .5 3 .5-5 .5-11 .5 12 .5-7 .5-10 .5 14 .5-6 .5-3 .5 17 .5-17 .5 20 .5-11 .5 10 .5-24 .5 25 .5-27 .5 21 .5-15 .5 23 .5-25 .5 6 .5-18 .5 14 .5-4 .5 13 .5-2 .5 12 .5-25 .5 19 .5-11 .5 12 .5-8 .5 5 .5-10 .5 14 .5-22 .5 20 .5-12 .5 11 .5-9 .5 3 .5-8 .5 18 .5-12 .5 9 .5-22 .5 24 .5-19 .5 10 .5 10 .5 3 .5-10 .5 7 .5-12 .5 15 .5-11 .5 5 .5-15 .5 19 .5-23 .5 13 .5-4 .5 7 .5-31 .5 25 .5 2 .5-2 .5-17 .5 11 .5-10 .5 3 .5 1 .5 13 .5 5 .5-12 .5 3 .5-1 .5-13 .5 32 .5-20 .5 21 .5-20 .5 12 .5-18 .5 3 .5 11 .5 13 .5-14 .5-14 .5 24 .5-18 .5-2 .5 14 .5-12 .5-6 .5 10 .5 10 .5-15 .5-10 .5 11 .5-15 .5 16 .5-21 .5-11 .5 20 .5-20 .5 3 .5-2 .5 0 .5-11 .5 28 .5-17 .5 12 .5 2 .5 1 .5-9 .5 14 .5-9 .5 11 .5-14 .5 34 .5-16 .5 16 .5-25 .5 12 .5-5 .5 19 .5-15 .5 18 .5-22 .5 11 .5-10 .5 28 .5-22 .5 10 .5-11 .5-3 .5 12 .5-1 .5-7 .5 24 .5-31 .5 13 .5-13 .5 27 .5-15 .5 7 .5-15 .5 12 .5 10 .5-13 .5-4 .5 17 .5-21 .5 17 .5-16 .5 17 .5-12 .5 16 .5-10 .5 7 .5-15 .5 13 .5-25 .5 34 .5-30 .5 27 .5-24 .5 16 .5-19 .5 22 .5-19 .5 7 .5 2 .5 8 .5-18 .5 21 .5-20 .5 7 .5 6 .5 1 .5 1 .5 2 .5-10 .5 9 .5-7 .5 12 .5-15 .5-5 .5 18 .5 5 .5-23 .5 25 .5-27 .5 11 .5-4 .5 7 .5-11 .5 6 .5-5 .5 14 .5-24 .5 18 .5-10 .5 9 .5-15 .5 12 .5 5 .5-9 .5 11 .5 5 .5-24 .5 26 .5-17 .5 16 .5-6 .5-13 .5 15 .5 3 .5-16 .5 18 .5-18 .5 15 .5-14 .5 18 .5-25 .5 8 .5 2 .5 13 .5-12 .5 7 .5-10 .5 14 .5-20 .5 14 .5-13 .5 18 .5-5 .5-3 .5-2 .5 6 .5-13 .5 20 .5-17 .5 15 .5-20 .5 10 .5-10 .5 8 .5-11 .5 22 .5-13 .5 18 .5-30 .5 24 .5 1 .5 1 .5-5 .5 6 .5-12 .5 15 .5-18 .5 11 .5-19 .5 16 .5-8 .5 5 .5-13 .5 8 .5-3 .5-2 .5-4 .5 25 .5-8 .5 6 .5-12 .5 0 .5 4 .5-10 .5 8 .5 17 .5-20 .5 5 .5 7 .5-9 .5-8 .5 19 .5-13 .5 17 .5-26 .5 24 .5-18 .5 17 .5-22 .5 15 .5-8 .5 13 .5-21 .5 20 .5-16 .5 21 .5-23 .5 7 .5-6 .5 18 .5-20 .5 5 .5 6 .5 4 .5-20 .5 9 .5-12 .5 31 .5-28 .5 7 .5-4 .5-9 .5-8 .5 15 .5-22 .5-7 .5 1 .5 16 .5-12 .5 21 .5-8 .5 18 .5-6 .5 15 .5-23 .5 17 .5 0 .5 14 .5-9 .5 4 .5 1 .5 5 .5-9 .5-15 .5 6 .5 1 .5 6 .5 12 .5-32 .5 39 .5-20 .5 7 .5-11 .5-6 .5-4 .5 17 .5-2 .5 10 .5-28 .5 33 .5 0 .5 0 .5-16 .5 10 .5-9 .5 11 .5-13 .5 19 .5-36 .5 18 .5 8 .5 1 .5-15 .5 0 .5 5 .5 13 .5-26 .5 26 .5 2 .5-10 .5-5 .5 5 .5-17 .5 1 .5 6 .5 3 .5 6 .5 5 .5-9 .5-2 .5 7 .5-16 .5-4 .5 11 .5-7 .5 11 .5-13 .5 19 .5-19 .5 25 .5-32 .5 34 .5-14 .5-3 .5 5 .5 15 .5-27 .5 26 .5-18 .5 12 .5-4 .5 4 .5-19 .5 12 .5 8 .5-11 .5-4 .5 13 .5-13 .5 20 .5-18 .5 22 .5-27 .5 23 .5-13 .5 13 .5-19 .5 11 .5-15 .5 4 .5 18 .5-8 .5-17 .5 26 .5-30 .5 34 .5-15 .5 8 .5-19 .5 22 .5-21 .5 16 .5-22 .5 14 .5 12 .5-13 .5-9 .5 23 .5-19 .5 9 .5-13 .5 32 .5-29 .5 12 .5-9 .5 15 .5-13 .5 14 .5 1 .5-5 .5 0 .5-2 .5-9 .5 2 .5-7 .5 0 .5-1 .5 19 .5-17 .5 1 .5-6 .5 16 .5-22 .5 22 .5-9 .5-5 .5-5 .5 8 .5-7 .5 16 .5-12 .5 8 .5-1 .5 6 .5-23 .5 34 .5-24 .5 27 .5-21 .5 9 .5 2 .5 9 .5-30 .5 24 .5-21 .5 13 .5-2 .5 12 .5-8 .5 2 .5-9 .5 3 .5 8 .5-15 .5-3 .5-4 .5-1 .5 25 .5-23 .5 16 .5-8 .5-8 .5 10 .5 12 .5-9 .5 10 .5-4 .5 1 .5-10 .5 11 .5-5 .5 6 .5-7 .5 11 .5-13 .5 9 .5-2 .5 5 .5-19 .5 22 .5-8 .5-2 .5-7 .5 13 .5-15 .5 3 .5-3 .5 0 .5 1 .5-5 .5-4 .5 14 .5-25 .5 35 .5-18 .5 12 .5-22 .5 27 .5-15 .5 15 .5-1 .5-1 .5-17 .5 4 .5 8 .5 10 .5-23 .5 16 .5 1 .5 1 .5 1 .5 13 .5-35 .5 30 .5-31 .5 21 .5-6 .5 5 .5-20 .5 24 .5-12 .5 9 .5-2 .5 0 .5-12 .5 28 .5-8 .5 5 .5-27 .5 21 .5-21 .5 15 .5-14 .5-10 .5-1 .5 12 .5-8 .5 23 .5-13 .5 14 .5-8 .5-4 .5-11 .5 21 .5-13 .5 15 .5-17 .5 11 .5-8 .5 15 .5-12 .5-2 .5-3 .5 6 .5 9 .5 2 .5-16 .5 18 .5-9 .5-10 .5 2 .5 14 .5-13 .5 8 .5-25 .5 14 .5-3 .5-3 .5 14 .5 4 .5-15 .5 4 .5-8 .5 25 .5-21 .5 29 .5-29 .5 7 .5-2 .5-5 .5 4 .5 15 .5-17 .5 15 .5-18 .5 14 .5-11 .5 17 .5-30 .5 27 .5-2 .5 3 .5 1 .5 5 .5-28 .5 25 .5-20 .5 20 .5-22 .5 7 .5-11 .5 12 .5-10 .5 27 .5-16 .5-5 .5-7 .5 4 .5-6 .5 20 .5-16 .5 3 .5 13 .5 7 .5-8 .5 2 .5-9 .5-5 .5-2 .5 24 .5-23 .5 11 .5 2 .5-4 .5 13 .5-20 .5 3 .5 11 .5-10 .5-13 .5 4 .5 22 .5-27 .5 23 .5-24 .5 21 .5-19 .5 21 .5-18 .5 13 .5-2 .5 5 .5 9 .5-11 .5-10 .5 20 .5-8 .5 8 .5-30 .5 17 .5 3 .5 6 .5-23 .5 12 .5-12 .5 10 .5-9 .5 14 .5-14 .5 14 .5-7 .5 14 .5-2 .5 12 .5-10 .5-7 .5 2 .5 19 .5-18 .5 22 .5-25 .5 11 .5-9 .5 23 .5-26 .5 15 .5 1 .5-23 .5 10 .5-4 .5-3 .5 13 .5-23 .5 12 .5-5 .5 22 .5-15 .5 13 .5-16 .5 8 .5-10 .5 4 .5 16 .5-15 .5 12 .5-9 .5-8 .5 5 .5-1 .5 1 .5-2 .5 16 .5-12 .5-1 .5-5 .5 25 .5-8 .5-16 .5 6 .5 11 .5-21 .5 27 .5-29 .5 0 .5 5 .5-9 .5 14 .5 19 .5-16 .5 7 .5-14 .5 12 .5-3 .5 23 .5-30 .5 24 .5-6 .5 10 .5-27 .5 9 .5-10 .5 14 .5 4 .5-2 .5-14 .5 11 .5-22 .5 17 .5 1 .5 5 .5-20 .5 18 .5-4 .5-5 .5-4 .5-1 .5 13 .5-1 .5-13 .5 15 .5-16 .5 9 .5 1 .5-4 .5 10 .5-1 .5-19 .5 31 .5-18 .5 1 .5-6 .5 17 .5-18 .5 4 .5 7 .5 10 .5-24 .5 13 .5-3 .5 4 .5-5 .5 15 .5-33 .5 25 .5-22 .5 11 .5-10 .5 14 .5-3 .5 9 .5-17 .5-4 .5-2 .5 8 .5 1 .5 8 .5-5 .5 9 .5-22 .5 24 .5-19 .5 21 .5-3 .5 3 .5-19 .5 23 .5-23 .5 3 .5 7 .5-2 .5-16 .5 29 .5-14 .5 6 .5 4 .5 6 .5-26 .5 0 .5-1 .5 9 .5-4 .5 13 .5-12 .5 10 .5-17 .5 26 .5-16 .5 10 .5-6 .5 8 .5-13 .5 21 .5-25 .5 17 .5-24 .5 23 .5-13 .5 0 .5-12 .5 19 .5-6 .5 11 .5-23 .5 19 .5-13 .5 27 .5-28 .5 12 .5-1 .5 5 .5-6 .5 10 .5-7 .5-2 .5 5 .5 9 .5-22 .5 20 .5-18 .5 1 .5-2 .5 14 .5-21 .5 30 .5-9 .5-11 .5-11 .5 28 .5-26 .5 21 .5-11 .5 14 .5-18 .5 6 .5-7 .5 18 .5-4 .5 13 .5-32 .5 27 .5-18 .5 19 .5-8 .5 6 .5-13 .5 14 .5-7 .5 4 .5-8 .5 11 .5-6 .5-6 .5 6 .5 13 .5-1 .5-6 .5-18 .5 15 .5-1 .5 15 .5-28 .5-2 .5 12 .5 0 .5 6 .5 6 .5-9 .5 11 .5-21 .5 19 .5-28 .5 30 .5-20 .5 17 .5-17 .5 2 .5-7 .5 13 .5-5 .5 12 .5 2 .5-1 .5-23 .5 9 .5-16 .5 13 .5 0 .5 15 .5-27 .5 27 .5-12 .5 9 .5-12 .5 15 .5-15 .5 15 .5-17 .5 8 .5 9 .5-22 .5 0 .5 15 .5-1 .5-4 .5 3 .5 8 .5-29 .5 33 .5-11 .5 6 .5-18 .5 13 .5-7 .5 15 .5 2 .5-5 .5 1 .5 5 .5-12 .5 3 .5-16 .5 13 .5-18 .5 19 .5-18 .5 22 .5-13 .5-5 .5-9 .5 29 .5-7 .5-2 .5-17 .5 10 .5-5 .5-5 .5-2 .5 29 .5-16 .5 8 .5-23 .5 6 .5 3 .5 21 .5-15 .5 11 .5-18 .5 14 .5-16 .5 22 .5-17 .5 18 .5-5 .5-1 .5-4 .5 4 .5-8 .5 13 .5-12 .5-8 .5 13 .5 10 .5-8 .5 0 .5 0 .5 11 .5-20 .5-2 .5-3 .5 16 .5-7 .5-13 .5-1 .5 24 .5 0 .5-6 .5-11 .5 8 .5-15 .5 28 .5-17 .5 5 .5-20 .5 20 .5-1 .5-12 .5 8 .5-13 .5 10 .5 19 .5-29 .5 11 .5-10 .5 20 .5-13 .5 11 .5-18 .5 4 .5 15 .5-3 .5-16 .5 15 .5-6 .5 17 .5-4 .5-12 .5-2 .5 16 .5-11 .5 5 .5-2 .5 0 .5 8 .5-1 .5-16 .5 23 .5-20 .5 21 .5-8 .5-12 .5-9 .5 22 .5-18 .5 6 .5 17 .5-1 .5-11 .5-1 .5-7 .5 7 .5 2 .5 2 .5-6 .5 10 .5-9 .5 7 .5-9 .5 5 .5-2 .5 7 .5-17 .5 7 .5 11 .5 7 .5-22 .5 21 .5-21 .5 28 .5-26 .5 22 .5-17 .5 2 .5 20 .5-2 .5-22 .5 15 .5 2 .5-13 .5-14 .5 32 .5-28 .5 2 .5 4 .5 20 .5-11 .5 5 .5-10 .5 13 .5-6 .5 4 .5 14"/>
<path class="c" stroke="#00ffff" d="M130.5 569l.5 20 .5-24 .5 23 .5-14 .5 3 .5 11 .5-14 .5 15 .5-2 .5 3 .5-6 .5-4 .5 7 .5 4 .5-6 .5-18 .5 18 .5-18 .5 10 .5-17 .5 13 .5-8 .5 22 .5-22 .5 17 .5-8 .5 15 .5-19 .5 11 .5-13 .5 8 .5 11 .5 2 .5-19 .5 26 .5-23 .5 13 .5-8 .5 5 .5-3 .5 0 .5-13 .5 22 .5-21 .5 25 .5-13 .5 1 .5 9 .5-3 .5-5 .5-1 .5 6 .5 7 .5-4 .5-10 .5-5 .5 19 .5-18 .5 10 .5-16 .5 18 .5-22 .5 24 .5-18 .5 14 .5-3 .5-5 .5-14 .5 13 .5-3 .5 9 .5-19 .5 22 .5-26 .5 28 .5-25 .5 16 .5-15 .5 29 .5-19 .5 2 .5 2 .5 5 .5-12 .5 12 .5-5 .5 17 .5-25 .5 7 .5-2 .5 7 .5 2 .5 3 .5-11 .5 12 .5-13 .5-5 .5 5 .5 8 .5 1 .5 2 .5-11 .5 9 .5-15 .5 21 .5-11 .5-4 .5-10 .5 33 .5-22 .5 10 .5 3 .5 13 .5-15 .5 11 .5-16 .5 7 .5-17 .5 19 .5-9 .5-1 .5-11 .5 9 .5 5 .5 6 .5-20 .5 23 .5-11 .5 2 .5-2 .5 1 .5 10 .5-10 .5-2 .5 19 .5-22 .5 10 .5-16 .5 33 .5-18 .5 7 .5 10 .5-6 .5-13 .5-4 .5 8 .5 2 .5-15 .5 8 .5 9 .5-5 .5-6 .5 12 .5-19 .5 8 .5-9 .5 22 .5-23 .5-2 .5 3 .5 32 .5-36 .5 16 .5-5 .5 2 .5 1 .5 2 .5-15 .5 26 .5-10 .5 0 .5-13 .5 12 .5-3 .5-3 .5-2 .5 2 .5 8 .5 2 .5-1 .5-10 .5 1 .5 12 .5-16 .5 8 .5 1 .5 13 .5-13 .5 2 .5-5 .5 14 .5-21 .5 18 .5-11 .5 12 .5-13 .5 18 .5-3 .5 1 .5-17 .5 11 .5-21 .5 27 .5-24 .5 9 .5-5 .5 7 .5-4 .5 9 .5-10 .5 13 .5-2 .5 5 .5-4 .5-6 .5 0 .5 4 .5-10 .5 25 .5-10 .5 5 .5-21 .5 15 .5-14 .5 21 .5-25 .5 24 .5-23 .5 25 .5-25 .5 22 .5-19 .5 22 .5-20 .5 14 .5-6 .5 6 .5-13 .5 14 .5-15 .5 25 .5-28 .5 26 .5-26 .5 12 .5 0 .5 6 .5-15 .5 14 .5-7 .5-7 .5 11 .5-4 .5-12 .5 22 .5-15 .5 11 .5-8 .5 12 .5-20 .5 14 .5-10 .5 9 .5-7 .5 8 .5-18 .5 20 .5-11 .5 11 .5-14 .5 18 .5-12 .5 3 .5 7 .5-5 .5-10 .5 13 .5-16 .5 19 .5-5 .5-4 .5-8 .5-1 .5 11 .5-14 .5 20 .5-6 .5-21 .5 16 .5-11 .5 8 .5-10 .5 3 .5 3 .5 10 .5-5 .5 9 .5-19 .5 19 .5-20 .5 14 .5-23 .5 12 .5 8 .5 4 .5 2 .5-11 .5 4 .5-1 .5-12 .5 13 .5-11 .5 13 .5-14 .5 18 .5 0 .5 7 .5-14 .5 4 .5-3 .5 12 .5-19 .5 21 .5-24 .5 13 .5 5 .5-8 .5-10 .5 13 .5-16 .5 17 .5-9 .5 9 .5-19 .5 17 .5-15 .5 7 .5-8 .5 19 .5-23 .5 22 .5 0 .5-5 .5 3 .5 1 .5-6 .5 6 .5 3 .5 2 .5-24 .5 11 .5-11 .5 13 .5-2 .5 3 .5-14 .5 18 .5-22 .5 27 .5-5 .5-17 .5 13 .5-8 .5-4 .5 24 .5-13 .5 9 .5-27 .5 23 .5-7 .5 3 .5-5 .5 6 .5-11 .5 19 .5-14 .5 19 .5-21 .5-20 .5 24 .5 0 .5 9 .5 6 .5-24 .5 13 .5-7 .5-1 .5 6 .5 11 .5-8 .5 2 .5-4 .5 3 .5-12 .5 5 .5 11 .5-11 .5-3 .5 8 .5-14 .5 25 .5-19 .5 15 .5-23 .5 16 .5-15 .5 5 .5 0 .5 15 .5-20 .5 25 .5-18 .5 14 .5-12 .5 10 .5-22 .5 25 .5-9 .5 6 .5-18 .5 18 .5-13 .5 13 .5-12 .5 7 .5-9 .5 20 .5-28 .5 12 .5-9 .5 16 .5-7 .5 10 .5-9 .5 11 .5-18 .5 7 .5-8 .5 20 .5-18 .5 3 .5-2 .5 8 .5-10 .5 18 .5-20 .5 14 .5-12 .5 17 .5-7 .5-3 .5 8 .5 4 .5-15 .5 15 .5-20 .5 27 .5-24 .5-3 .5 2 .5 18 .5-18 .5 0 .5-4 .5 15 .5-11 .5-7 .5 17 .5-10 .5-12 .5 10 .5-10 .5 10 .5-9 .5 17 .5-4 .5 10 .5-10 .5 0 .5 4 .5 12 .5-18 .5 1 .5-3 .5 17 .5-1 .5-7 .5-14 .5 9 .5 2 .5 4 .5-6 .5-1 .5-7 .5 3 .5-4 .5 10 .5 2 .5-13 .5 3 .5 8 .5-11 .5 16 .5-2 .5-7 .5-12 .5 24 .5-14 .5 15 .5-15 .5 9 .5-3 .5 15 .5-23 .5 5 .5 8 .5 10 .5-12 .5 7 .5-21 .5 24 .5-1 .5-9 .5-8 .5 1 .5-1 .5 0 .5-1 .5 15 .5-20 .5 10 .5-6 .5-8 .5-8 .5 18 .5-25 .5 35 .5-20 .5 13 .5 5 .5-11 .5-1 .5 4 .5 3 .5 5 .5-24 .5 24 .5-16 .5 22 .5-23 .5 10 .5 1 .5 1 .5-13 .5 45 .5-47 .5 14 .5-19 .5 20 .5-8 .5-1 .5 2 .5 2 .5 6 .5 7 .5 4 .5-4 .5-17 .5 24 .5-32 .5 24 .5-18 .5 23 .5-16 .5 8 .5 1 .5-2 .5-6 .5 13 .5-13 .5 17 .5-9 .5-14 .5 0 .5 10 .5-12 .5 20 .5-24 .5 9 .5-3 .5 8 .5 2 .5-44 .5 47 .5-15 .5 11 .5-4 .5 0 .5 0 .5-14 .5 6 .5-8 .5 1 .5-4 .5 14 .5-3 .5 11 .5-23 .5 18 .5-8 .5-1 .5-3 .5 16 .5-8 .5-1 .5-11 .5 13 .5-3 .5 27 .5-20 .5 3 .5-9 .5 3 .5 6 .5 6 .5-20 .5 8 .5-12 .5 23 .5-19 .5 8 .5-9 .5 11 .5 1 .5 15 .5-21 .5 3 .5 8 .5 4 .5-21 .5 16 .5-15 .5 5 .5-3 .5 14 .5-16 .5 4 .5-18 .5 19 .5-25 .5 14 .5-11 .5 32 .5-28 .5 6 .5 14 .5 4 .5-9 .5 14 .5-25 .5 19 .5-10 .5 19 .5-10 .5 4 .5-31 .5 5 .5 1 .5 11 .5-19 .5 24 .5-27 .5 15 .5-9 .5 11 .5-3 .5 2 .5-23 .5 29 .5-1 .5 5 .5-10 .5 4 .5-22 .5 26 .5-4 .5-26 .5 3 .5 27 .5-24 .5 17 .5-13 .5 2 .5 6 .5-9 .5-9 .5 33 .5-20 .5 22 .5-41 .5 25 .5 6 .5-2 .5-1 .5 3 .5-19 .5 22 .5-21 .5 17 .5-20 .5-3 .5-9 .5 32 .5-21 .5 22 .5-34 .5 31 .5 2 .5 1 .5-34 .5 11 .5-7 .5 0 .5 6 .5 17 .5-26 .5 11 .5 5 .5 0 .5-3 .5 15 .5-31 .5 32 .5-37 .5 26 .5-30 .5 44 .5-33 .5 34 .5-2 .5-30 .5-1 .5 22 .5-8 .5 19 .5-31 .5 35 .5-32 .5 9 .5 11 .5 7 .5-13 .5 17 .5-27 .5 8 .5-4 .5 11 .5 4 .5 10 .5-30 .5 16 .5 2 .5 12 .5-24 .5 6 .5-23 .5 19 .5-23 .5 35 .5-34 .5 15 .5-24 .5 13 .5 16 .5-26 .5 5 .5-3 .5-1 .5-1 .5-19 .5 36 .5-22 .5 13 .5-15 .5-2 .5 5 .5 24 .5-17 .5 15 .5 2 .5 7 .5-31 .5 1 .5 14 .5-13 .5-4 .5 9 .5 16 .5-13 .5-8 .5-2 .5-1 .5 17 .5-23 .5 22 .5-17 .5 22 .5-29 .5 13 .5-16 .5 40 .5-34 .5 22 .5-12 .5 20 .5-35 .5 10 .5-1 .5 29 .5-33 .5 30 .5-30 .5 15 .5-8 .5 2 .5-5 .5 26 .5-23 .5 0 .5-3 .5 34 .5-33 .5 35 .5-44 .5 29 .5-27 .5 32 .5-25 .5 25 .5-33 .5-25 .5 48 .5 4 .5-35 .5 39 .5-27 .5 26 .5-13 .5-1 .5 17 .5-26 .5-21 .5 33 .5-31 .5 46 .5-16 .5 20 .5-48 .5 42 .5-39 .5 36 .5-22 .5 12 .5-25 .5 41 .5-39 .5 22 .5-24 .5 52 .5-40 .5 27 .5 1 .5-10 .5-19 .5 29 .5-42 .5 16 .5 19 .5-10 .5-17 .5 17 .5-12 .5 23 .5-26 .5 11 .5-17 .5 13 .5-24 .5 23 .5 8 .5-1 .5-23 .5 9 .5-17 .5 37 .5-25 .5-1 .5-24 .5 14 .5-7 .5-2 .5-2 .5 21 .5-20 .5 28 .5-39 .5 30 .5-21 .5 41 .5-34 .5-4 .5 2 .5 25 .5-36 .5 21 .5-8 .5 17 .5-15 .5 36 .5-36 .5 12 .5-1 .5-1 .5-2 .5 31 .5-40 .5-18 .5 39 .5 22 .5-14 .5 26 .5-9 .5-28 .5 3 .5 37 .5-16 .5-4 .5-12 .5 14 .5-22 .5 37 .5-30 .5-2 .5-13 .5 45 .5-46 .5 30 .5-25 .5 27 .5-34 .5 43 .5-6 .5 10 .5-32 .5 18 .5-29 .5 38 .5-36 .5 37 .5-22 .5 1 .5-24 .5 9 .5-12 .5 29 .5-12 .5-7 .5-7 .5 28 .5-26 .5 15 .5-13 .5 15 .5-31 .5 43 .5-53 .5 22 .5 19 .5-5 .5-14 .5 4 .5 12 .5 18 .5-13 .5 10 .5-19 .5 9 .5-22 .5 7 .5 32 .5-32 .5 25 .5 1 .5-16 .5-4 .5 13 .5 4 .5-24 .5 11 .5-18 .5 36 .5-33 .5 26 .5-22 .5 25 .5-31 .5 20 .5 9 .5-5 .5-13 .5 16 .5-28 .5 13 .5-1 .5 26 .5-37 .5 42 .5-39 .5 3 .5-7 .5 13 .5-13 .5 30 .5-44 .5 16 .5 6 .5-15 .5-10 .5 18 .5-6 .5-9 .5 7 .5 20 .5 1 .5 20 .5-9 .5-2 .5-11 .5 32 .5-34 .5-4 .5 10 .5 18 .5-36 .5 8 .5-8 .5 28 .5-28 .5 32 .5-9 .5 23 .5-47 .5 41 .5-31 .5 3 .5 1 .5 13 .5 19 .5 6 .5-21 .5 4 .5-15 .5 15 .5-27 .5 7 .5-1 .5 8 .5-8 .5-5 .5 15 .5-2 .5-5 .5 19 .5 41 .5-28 .5-34 .5 12 .5 5 .5-19 .5 20 .5 0 .5-5 .5 9 .5-26 .5 31 .5-42 .5 34 .5-25 .5 25 .5-30 .5 5 .5-14 .5 38 .5-32 .5 41 .5-33 .5 6 .5 15 .5 0 .5-16 .5 5 .5-14 .5 15 .5 2 .5 13 .5-28 .5 12 .5-3 .5 2 .5-8 .5 31 .5-28 .5 17 .5-22 .5 30 .5-40 .5 48 .5-39 .5 18 .5-21 .5 23 .5 7 .5-13 .5-32 .5 9 .5 3 .5 16 .5-17 .5-10 .5 8 .5-2 .5 13 .5-19 .5-6 .5 30 .5-27 .5 30 .5-1 .5 4 .5-10 .5 4 .5 5 .5-10 .5-18 .5 12 .5 0 .5 16 .5-23 .5 39 .5-30 .5 14 .5 3 .5 12 .5-12 .5 4 .5-7 .5 24 .5-31 .5 24 .5-17 .5 35 .5-9 .5 6 .5-31 .5 29 .5-24 .5 6 .5-5 .5 2 .5-11 .5 8 .5-22 .5 45 .5-24 .5-10 .5 3 .5 29 .5-32 .5 9 .5 16 .5-13 .5 6 .5 8 .5 1 .5 6 .5 1 .5 2 .5-13 .5 33 .5-49 .5 42 .5-25 .5 30 .5-28 .5 28 .5-38 .5 46 .5-33 .5 26 .5-9 .5 4 .5-2 .5-17 .5 11 .5 15 .5-36 .5 36 .5-26 .5 25 .5-31 .5 21 .5-23 .5 21 .5 9 .5 1 .5-5 .5-9 .5-17 .5 31 .5-26 .5 24 .5-9 .5-17 .5 0 .5 10 .5-8 .5 22 .5-23 .5 23 .5-32 .5 51 .5-21 .5-9 .5-10 .5 20 .5-12 .5 22 .5-3 .5-22 .5 22 .5 3 .5-28 .5 16 .5-26 .5 18 .5-9 .5 15 .5-30 .5 29 .5-25 .5 32 .5 4 .5 5 .5-41 .5 27 .5-16 .5 26 .5-28 .5 25 .5-40 .5 34 .5-22 .5 25 .5-32 .5 35 .5-2 .5 6 .5-25 .5 19 .5-29 .5 45 .5-22 .5 14 .5-12 .5 5 .5-2 .5 3 .5 9 .5-2 .5-5 .5-10 .5-17 .5 7 .5 9 .5 25 .5-11 .5-25 .5-14 .5 50 .5-12 .5 4 .5-25 .5 5 .5-15 .5 42 .5-14 .5-2 .5-12 .5 7 .5-7 .5 18 .5-21 .5 11 .5-8 .5 22 .5-23 .5 6 .5-12 .5 30 .5-25 .5 0 .5 4 .5 4 .5-1 .5-11 .5 9 .5 27 .5-39 .5 28 .5 6 .5-1 .5-21 .5-1 .5-9 .5 15 .5-6 .5 24 .5-1 .5 13 .5-45 .5 18 .5-15 .5 23 .5-28 .5 28 .5-30 .5 14 .5-5 .5 22 .5-8 .5 10 .5-29 .5 27 .5-19 .5 10 .5 17 .5 7 .5-21 .5 20 .5-17 .5 35 .5-32 .5 2 .5 10 .5 6 .5-37 .5 29 .5-25 .5 41 .5-44 .5 21 .5-28 .5 24 .5-39 .5-2 .5 26 .5 22 .5-21 .5-1 .5-1 .5-11 .5 10 .5-6 .5 0 .5 26 .5-7 .5 1 .5-9 .5 15 .5-15 .5 16 .5-23 .5 10 .5 3 .5 9 .5-22 .5 34 .5-44 .5 49 .5-35 .5 18 .5 5 .5-12 .5-15 .5 6 .5-7 .5 4 .5-1 .5 31 .5-26 .5-11 .5 12 .5 19 .5-36 .5 36 .5-2 .5-33 .5 25 .5 15 .5-10 .5-17 .5 18 .5-4 .5-6 .5 18 .5-39 .5 23 .5-2 .5-1 .5 18 .5 8 .5-38 .5 28 .5-14 .5 11 .5-20 .5 32 .5-7 .5 13 .5-28 .5 33 .5-19 .5 11 .5-27 .5 25 .5-4 .5 16 .5-33 .5 11 .5-7 .5 20 .5-12 .5-7 .5-12 .5-7 .5-3 .5 27 .5-20 .5 11 .5-5 .5 17 .5-29 .5 32 .5-44 .5 41 .5-29 .5 14 .5 11 .5-4 .5-21 .5 33 .5-29 .5 7 .5-12 .5 32 .5-20 .5 25 .5-34 .5 35 .5-37 .5 23 .5-4 .5-21 .5 9 .5 18 .5-29 .5 26 .5-19 .5 19 .5-11 .5 22 .5-33 .5 41 .5-41 .5 25 .5 2 .5-6 .5-14 .5 17 .5 4 .5-10 .5-11 .5 16 .5-26 .5 42 .5-24 .5 14 .5-21 .5 27 .5-21 .5 14 .5-15 .5 14 .5 0 .5-4 .5 3 .5 12 .5-44 .5 45 .5-39 .5 38 .5-39 .5 38 .5-20 .5 8 .5-21 .5 25 .5-25 .5 25 .5-8 .5-2 .5 2 .5 2 .5-4 .5 7 .5-6 .5 2 .5 4 .5 14 .5-25 .5 15 .5-9 .5 19 .5-15 .5-11 .5 19 .5-1 .5-27 .5 23 .5-14 .5 24 .5-9 .5-17 .5 9 .5 8 .5-20 .5 22 .5-5 .5-17 .5 3 .5 24 .5-5 .5 0 .5-7 .5 15 .5-24 .5 20 .5-9 .5 17 .5-6 .5 7 .5-18 .5 23 .5-28 .5 12 .5-4 .5 3 .5-3 .5 28 .5-37 .5 40 .5-19 .5 0 .5-9 .5 0 .5-7 .5 18 .5-32 .5 22 .5 5 .5-3 .5-19 .5 10 .5-16 .5 26 .5-17 .5 14 .5-20 .5 29 .5-37 .5 27 .5-5 .5 13 .5-4 .5 5 .5-23 .5 23 .5-27 .5-21 .5 22 .5 23 .5-21 .5 30 .5-9 .5 3 .5-23 .5 19 .5-19 .5 19 .5-15 .5 30 .5-28 .5 9 .5-17 .5 13 .5 12 .5-22 .5-13 .5 37 .5-4 .5-5 .5-18 .5 27 .5-15 .5 10 .5-16 .5 27 .5-22 .5 14 .5-21 .5 13 .5-15 .5 28 .5-35 .5 19 .5-17 .5 15 .5-5 .5 11 .5 12 .5-1 .5-21 .5 27 .5-27 .5 23 .5-21 .5 37 .5-16 .5-7 .5-6 .5 7 .5-14 .5 24 .5-20 .5 27 .5-31 .5 29 .5-16 .5 12 .5-17 .5 16 .5-9 .5 11 .5-18 .5 8 .5-25 .5 13 .5-15 .5 20 .5-8 .5 4 .5 4 .5 5 .5 1 .5-8 .5-16 .5 33 .5-35 .5 11 .5-4 .5 10 .5-4 .5 19 .5-32 .5 17 .5 2 .5 7 .5-16 .5 4 .5-12 .5 9 .5 0 .5 8 .5 10 .5-3 .5-19 .5 20 .5-22 .5 35 .5-34 .5 18 .5-5 .5 5 .5-11 .5-5 .5-4 .5 23 .5-17 .5 17 .5-26 .5 50 .5-37 .5 22 .5-16 .5 6 .5-15 .5 31 .5-33 .5 26 .5-8 .5-7 .5 1 .5 0 .5-3 .5 8 .5-1 .5 4 .5 7 .5 0 .5-17 .5 16 .5-20 .5 28 .5-33 .5 26 .5-18 .5 11 .5-19 .5 13 .5-15 .5 15 .5-12 .5 8 .5-2 .5 14 .5-17 .5 9 .5 3 .5 8 .5-16 .5 13 .5 0 .5 6 .5-4 .5 10 .5-24 .5 32 .5-25 .5 19 .5-17 .5 6 .5 4 .5-4 .5-2 .5 15 .5-10 .5-6 .5-1 .5 5 .5-16 .5 9 .5 0 .5-1 .5-9 .5 20 .5-7 .5 15 .5-26 .5 3 .5-6 .5 24 .5-10 .5 8 .5-11 .5 4 .5-5 .5 25 .5-23 .5 12 .5-16 .5 4 .5-5 .5 19 .5-15 .5 23 .5-21 .5 18 .5-16 .5 12 .5-14 .5 11 .5-24 .5 11 .5-34 .5 29 .5 5 .5 0 .5-15 .5 13 .5-8 .5 15 .5-23 .5 11 .5-8 .5 18 .5-20 .5 18 .5-2 .5 0 .5-23 .5 29 .5-15 .5-4 .5-4 .5 9 .5-6 .5 17 .5-23 .5 26 .5-1 .5 6 .5-16 .5 18 .5-17 .5 23 .5-23 .5 22 .5-20 .5 13 .5-3 .5 4 .5-15 .5 13 .5-18 .5 8 .5 0 .5 4 .5-10 .5 13 .5-21 .5 26 .5-14 .5 9 .5-3 .5-5 .5 0 .5 6 .5-21 .5 8 .5-5 .5 13 .5 0 .5 8 .5-25 .5 17 .5 5 .5 3 .5-11 .5 1 .5-7 .5 5 .5 9 .5-9 .5 1 .5 10 .5-14 .5 14 .5-24 .5 12 .5-13 .5 19 .5 6 .5-7 .5-2 .5 7 .5-17 .5 12 .5-10 .5 4 .5-6 .5 10 .5-10 .5 18 .5-22 .5 22 .5-12 .5-30 .5 10 .5 31 .5-12 .5 8 .5-19 .5 14 .5-31 .5 37 .5-2 .5 4 .5-14 .5-2 .5-4 .5 19 .5-5 .5 8 .5-18 .5-5 .5 7 .5-8 .5 14 .5-9 .5-3 .5 21 .5-14 .5 21 .5-21 .5 15 .5-1 .5 12 .5-26 .5 23 .5-18 .5 11 .5 7 .5-6 .5-4 .5 11 .5-13 .5 12 .5-26 .5 12 .5-13 .5 19 .5-22 .5 25 .5-21 .5 0 .5-8 .5 27 .5-18 .5 24 .5-23 .5 0 .5 7 .5 14 .5-13 .5 1 .5-14 .5 11 .5 0 .5-2 .5 6 .5 3 .5-20 .5 20 .5-19 .5 17 .5-6 .5-8 .5-8 .5 20 .5-7 .5 13 .5-11 .5 14 .5-19 .5-1 .5 10 .5-1 .5-4 .5 20 .5-15 .5 5 .5-7 .5 19 .5-15 .5 3 .5-8 .5-22 .5 25 .5 9 .5-21 .5 14 .5 1 .5 25 .5-26 .5 13 .5-17 .5 21 .5-6 .5 0 .5 5 .5-19 .5-16 .5 21 .5-12 .5 17 .5-8 .5-4 .5-4 .5 20 .5-23 .5 21 .5-14 .5 4 .5-12 .5 30 .5-15 .5 7 .5-9 .5 4 .5-8 .5 27 .5-23 .5 10 .5-12 .5 1 .5-1 .5 23 .5-28 .5 25 .5-7 .5-2 .5 6 .5 2 .5-12 .5 8 .5-15 .5 22 .5-14 .5 9 .5-19 .5 24 .5-26 .5 22 .5-1 .5-8 .5 0 .5-4 .5-11 .5 8 .5-9 .5 16 .5-3 .5 9 .5-20 .5 19 .5-13 .5 12 .5-14 .5 20 .5-13 .5-3 .5 17 .5 2 .5-10 .5 12 .5-25 .5 23 .5-15 .5 3 .5 11 .5-11 .5-7 .5 4 .5-6 .5 19 .5-8 .5 2 .5-2 .5-7 .5-3 .5 16 .5-3 .5 0 .5-13 .5 11 .5-6 .5-12 .5 7 .5 8 .5-14 .5 1 .5 18 .5-1 .5-12 .5 17 .5-25 .5 15 .5 10 .5-6 .5-9 .5 14 .5-18 .5-2 .5 19 .5-2 .5-8 .5 20 .5-8 .5-3 .5-11 .5 9 .5-1 .5 9 .5-34 .5 11 .5-3 .5 11 .5 7 .5-3 .5-19 .5 22 .5-15 .5 6 .5-7 .5 13 .5-9 .5 9 .5-25 .5 19 .5-8 .5 3 .5-8 .5 24 .5-24 .5 8 .5 0 .5 9 .5-8 .5 13 .5-21 .5 20 .5-19 .5 3 .5-1 .5 22 .5 3 .5-2 .5-2 .5 0 .5-12 .5-4 .5-2 .5 14 .5-22 .5 27 .5-2 .5-1 .5-22 .5 10 .5-3 .5 7 .5-1 .5 6 .5-21 .5 24 .5-11 .5 8 .5-2 .5-14 .5 2 .5-2 .5 4 .5-5 .5 3 .5 17 .5-29 .5 25 .5 1 .5 6 .5-18 .5 26 .5-10 .5 5 .5-20 .5 11 .5-14 .5 13 .5-12 .5 22 .5-13 .5-2 .5-9 .5 21 .5-9 .5 5 .5-7 .5 8 .5-16 .5 9 .5-6 .5 12 .5-10 .5 5 .5-20 .5 15 .5 2 .5-10 .5 7 .5 1 .5-12 .5 17 .5-2 .5-1 .5-3 .5-3 .5 9 .5-3 .5 6 .5 4 .5-16 .5 13 .5-17 .5-2 .5 3 .5 0 .5-2 .5 13 .5-16 .5 14 .5-10 .5 14 .5-16 .5 7 .5 6 .5 11 .5-16 .5 12 .5-18 .5 8 .5-9 .5 5 .5-15 .5 31 .5-20 .5 11 .5-12 .5 8 .5-6 .5 8 .5-2 .5 9 .5-9 .5 9 .5 1 .5 11 .5-6 .5-1 .5-22 .5 18 .5-10 .5 1 .5 8 .5-5 .5 9 .5 0 .5-17 .5 21 .5-20 .5 22 .5-16 .5 5 .5-20 .5 21 .5-4 .5 6 .5-21 .5 24 .5-17 .5 22 .5-13 .5 10 .5-26 .5 21 .5-15 .5 16 .5-7 .5 6 .5-14 .5 20 .5-24 .5 2 .5 17 .5 1 .5-22 .5 23 .5-13 .5 10 .5-14 .5 16 .5-24 .5 12 .5-3 .5 19 .5-13 .5 11 .5-13 .5 10 .5-2 .5 15 .5-20 .5 7 .5-10 .5 24 .5-14 .5 0 .5 4 .5-12 .5 5 .5-7 .5-10 .5 18 .5-8 .5 17 .5-16 .5-9 .5-2 .5 24 .5-30 .5 22 .5-2 .5-6 .5 6 .5 0 .5 3 .5 7 .5-8 .5-14 .5-1 .5 3 .5-6 .5 20 .5-5 .5 9 .5-23 .5 9 .5 7 .5 1 .5-9 .5-2 .5 3 .5-3 .5 4 .5-6 .5 11 .5 0 .5 4 .5-2 .5-8 .5-9 .5 5 .5 6 .5 7 .5-7 .5-15 .5 9 .5 9 .5 3 .5 1 .5-4 .5-7 .5 13 .5-5 .5 6 .5-7 .5 15 .5-13 .5 13 .5-20 .5 16 .5-21 .5 29 .5-21 .5 2 .5-1 .5 15 .5-20 .5 12 .5-6 .5 6 .5-18 .5 15 .5-2 .5 3 .5-2 .5 17 .5-30 .5 19 .5-19 .5 13 .5-21 .5 26 .5-19 .5 13 .5-6 .5-16 .5-7 .5 34 .5-15 .5-2 .5 1 .5-7 .5 9 .5 14 .5-21 .5 15 .5-12 .5 10 .5 0 .5 31 .5-37 .5 22 .5 1 .5-1 .5 0 .5-13 .5 3 .5 14 .5-27 .5 19 .5-22 .5 18 .5-27 .5 13 .5-1 .5 13 .5-21 .5 20 .5-13 .5 4 .5 14 .5-17 .5 22 .5 1 .5-22 .5 26 .5-16 .5 11 .5-17 .5 11 .5-11 .5 26 .5-35 .5 20 .5-18 .5 25 .5-24 .5 19 .5-17 .5 3 .5 9 .5-1 .5-7 .5 7 .5-15 .5 6 .5 1 .5 8 .5-6 .5 18 .5-24 .5 19 .5-15 .5 11 .5-10 .5 27 .5-20 .5 15 .5-26 .5 19 .5-6 .5 6 .5-21 .5 19 .5-21 .5 18 .5-20 .5 17 .5-9 .5-5 .5 6 .5 9 .5-9 .5 11 .5-13 .5 19 .5-26 .5 17 .5-3 .5 0 .5 4 .5-3 .5 15 .5 5 .5-6 .5-12 .5 14 .5 2 .5-6 .5-14 .5-7 .5 20 .5-19 .5 9 .5 4 .5-4 .5-5 .5 0 .5-4 .5 21 .5-10 .5-4 .5-3 .5 5 .5 0 .5 15 .5-23 .5 14 .5 6 .5 2 .5-14 .5 17 .5-31 .5 33 .5-27 .5 17 .5-9 .5 8 .5-24 .5 16 .5-14 .5 19 .5-20 .5 33 .5-25 .5 15 .5-21 .5 13 .5-6 .5 21 .5-20 .5 6 .5-5 .5 2 .5-11 .5 24 .5-15 .5 11 .5-19 .5 21 .5-11 .5 6 .5 9 .5-11 .5-8 .5 15 .5-16 .5 7 .5-10 .5 13 .5-5 .5 13 .5-23 .5 24 .5-17 .5 6 .5-15 .5 19 .5-20 .5 20 .5-20 .5 32 .5-34 .5 13 .5-12 .5 24 .5-7 .5-10 .5 5 .5-9 .5-1 .5 15 .5-14 .5 14 .5-8 .5 12 .5-23 .5 24 .5-2 .5-3 .5-11 .5 15 .5-8 .5 1 .5-11 .5 8 .5 1 .5 10 .5-13 .5 9 .5-20 .5 25 .5-27 .5 15 .5 2 .5 6 .5 5 .5-8 .5-2 .5 10 .5 0 .5 10 .5-27 .5 7 .5-7 .5 24 .5-8 .5 4 .5-20 .5 3 .5 0 .5 6 .5-6 .5 6 .5 0 .5 10 .5-5 .5-4 .5-4 .5 14 .5-22 .5 11 .5-9 .5 14 .5-22 .5 22 .5-21 .5 11 .5 1 .5 13 .5-5 .5-2 .5-19 .5 5 .5 1 .5 13 .5-19 .5 16 .5-4 .5 9 .5-13 .5 3 .5 0 .5 15 .5-6 .5-1 .5 3 .5-13 .5 6 .5 13 .5-7 .5 7 .5-17 .5 17 .5-23 .5 5 .5-2 .5 15 .5-18 .5 15 .5-19 .5 20 .5-13 .5 15 .5-20 .5 29 .5-21 .5 16 .5-25 .5 20 .5-1 .5-8 .5 4 .5 2 .5-5 .5 3 .5-10 .5 2 .5 12 .5-10 .5 4 .5 10 .5-25 .5 14 .5 5 .5 5 .5-9 .5 1 .5 5 .5-19 .5 7 .5 13 .5-17 .5 12 .5-18 .5 17 .5-9 .5 22 .5-10 .5-5 .5-6 .5 19 .5-23 .5 4 .5 4 .5 1 .5-12 .5 6 .5-8 .5 14 .5-16 .5 25 .5-10 .5-7 .5 3 .5 13 .5-14 .5 22 .5-10 .5 4 .5-17 .5 26 .5-18 .5 18 .5-23 .5 9 .5-13 .5 25 .5-22 .5 25 .5-25 .5 13 .5-2 .5 0 .5-16 .5 14 .5 3 .5 2 .5-14 .5 2 .5 4 .5-9 .5 11 .5-18 .5-5 .5 31 .5-10 .5 1 .5-2 .5-1 .5-9 .5 19 .5-6 .5 8 .5-20 .5 14 .5-5 .5 14 .5-10 .5-1 .5-7 .5 13 .5-17 .5 17 .5-26 .5 3 .5 13 .5 11 .5-20 .5 5 .5-2 .5 22 .5-26 .5 17 .5-13 .5 12 .5 5 .5 5 .5-27 .5 24 .5-10 .5-8 .5-2 .5 12 .5-13 .5 12 .5-19 .5 8 .5 14 .5-4 .5-10 .5 9 .5-8 .5 15 .5 8 .5-2 .5-22 .5 13 .5-11 .5 16 .5-12 .5 11 .5-9 .5 12 .5-20 .5 15 .5-3 .5-11 .5-4 .5 7 .5-3 .5 12 .5 1 .5-1 .5-22 .5 10 .5-4 .5 23 .5 4 .5-12 .5-12 .5 22 .5-11 .5 21 .5-9 .5-3 .5-19 .5 23 .5-18 .5 31 .5-20 .5 4 .5 1 .5-11 .5-7 .5 14 .5-4 .5 20 .5-30 .5 12 .5-14 .5 6 .5-8 .5 20 .5-19 .5 23 .5-19 .5 6 .5-11 .5 25 .5-12 .5 7 .5-10 .5 12 .5-9 .5 12 .5-11 .5-11 .5-1 .5 12 .5-8 .5-2 .5 8 .5 0 .5-1 .5 8 .5-27 .5 31 .5-17 .5 19 .5-21 .5 4 .5-2 .5 3 .5-3 .5 12 .5-26 .5 14 .5 9 .5 10 .5-27 .5 20 .5-22 .5 5 .5-4 .5 11 .5-5 .5 8 .5-6 .5 11 .5-20 .5 23 .5-27 .5 20 .5-23 .5 29 .5-14 .5 16 .5-5 .5-7 .5-12 .5 17 .5-11 .5 12 .5-16 .5 18 .5-19 .5 17 .5-7 .5 11 .5-16 .5 7 .5-7 .5 20 .5-14 .5 19 .5-26 .5 24 .5-16 .5 17 .5-23 .5 17 .5-18 .5-24 .5 35 .5-3 .5 0 .5-4 .5 5 .5 6 .5-4 .5 12 .5-16 .5-37 .5 37 .5 2 .5-10 .5 16 .5-12 .5 16 .5-9 .5 11 .5-15 .5 11 .5-5 .5 3 .5 0 .5-2 .5-11 .5 5 .5-5 .5 14 .5-24 .5 29 .5-15 .5-5 .5 17 .5-1 .5-5 .5 10 .5-23 .5 21 .5-23 .5 25 .5-21 .5 19 .5-11 .5 7 .5 1 .5-15 .5-8 .5 25 .5-23 .5 15 .5-16 .5 23 .5-13 .5 12 .5 2 .5-6 .5-9 .5 6 .5 4 .5 2 .5 3 .5-11 .5 4 .5 12 .5-10 .5 1 .5-8 .5 14 .5-23 .5 5 .5 6 .5 5 .5-1 .5 0 .5-13 .5 17 .5-25 .5 11 .5-5 .5 16 .5-11 .5 10 .5-2 .5-1 .5-6 .5 33 .5-39 .5 25 .5-32 .5 29 .5-11 .5 5 .5-19 .5 23 .5-15 .5 13 .5 4 .5-9 .5-6 .5 5 .5-5 .5 23 .5-22 .5 20 .5-22 .5 11 .5 3 .5 5 .5-6 .5 0 .5-18 .5 28 .5-20 .5 11 .5-8 .5-14 .5-2 .5 22 .5-19 .5 1 .5-3 .5 18 .5-19 .5 18 .5-16 .5 24 .5-24 .5 13 .5-9 .5 14 .5-2 .5 0 .5-10 .5 10 .5 1 .5 1 .5-12 .5 2 .5-4 .5 4 .5-20 .5 29 .5-7 .5 1 .5-5 .5 15 .5-21 .5 0 .5 13 .5-14 .5 2 .5 10 .5-3 .5 14 .5-11 .5-3 .5-7 .5 12 .5-12 .5 21 .5-16 .5 6 .5 8 .5 1 .5-21 .5 11 .5-9 .5 18 .5-4 .5 2 .5-17 .5 16 .5-14 .5 23 .5-19 .5 8 .5-18 .5 19 .5-12 .5-3 .5 7 .5 14 .5-22 .5 30 .5-24 .5 2 .5 13 .5-3 .5-5 .5 14 .5-23 .5 28 .5-19 .5 14 .5-14 .5 6 .5-16 .5 6 .5-4 .5 11 .5-4 .5 4 .5-2 .5-1 .5-6 .5 9 .5-22 .5 8 .5-3 .5 19 .5-15 .5-3 .5-4 .5 12 .5 5 .5 3 .5-19 .5 14 .5 5 .5-34 .5 18 .5 31 .5-23 .5 4 .5-5 .5 27 .5-33 .5 19 .5-14 .5-3 .5 2 .5 12 .5-10 .5 18 .5-16 .5 9 .5-4 .5-11 .5-2 .5 17 .5-12 .5 17 .5-25 .5 18 .5 3 .5 8 .5-7 .5 9 .5-11 .5 3 .5-13 .5 16 .5-6 .5 3 .5-13 .5 19 .5-16 .5 11 .5 4 .5-6 .5 3 .5 3 .5-7 .5 2 .5-12 .5 7 .5-17 .5 17 .5-13 .5 8 .5 2 .5 12 .5-17 .5 9 .5-19 .5 21 .5-12 .5 18 .5-17 .5 21 .5-25 .5 26 .5-10 .5 6 .5-19 .5 14 .5-14 .5 20 .5-15 .5 4 .5 2 .5 15 .5-12 .5 10 .5-15 .5 8 .5-12 .5 22 .5-19 .5 18 .5-21 .5 18 .5-4 .5-4 .5-12 .5 8 .5 0 .5 14 .5-23 .5 10 .5-10 .5 14 .5-15 .5 17 .5-23 .5 19 .5-16 .5 16 .5-25 .5 22 .5-25 .5 16 .5-17 .5 24 .5-9 .5 14 .5-25 .5 7 .5-5 .5 28 .5-22 .5 7 .5-12 .5 20 .5-12 .5 4 .5-18 .5 36 .5-18 .5-1 .5-5 .5 14 .5-16 .5 13 .5-16 .5 28 .5-24 .5 10 .5-11 .5 24 .5-25 .5 16 .5-14 .5 14 .5-20 .5 24 .5-20 .5 7 .5 1 .5 10 .5-12 .5 1 .5-8 .5 9 .5-15 .5 2 .5-1 .5 15 .5-10 .5 18 .5-18 .5 25 .5-12 .5-1 .5 11 .5-7 .5 1 .5 3 .5-16 .5 21 .5-19 .5 14 .5-5 .5 10 .5-5 .5 1 .5-9 .5 8 .5-12 .5 7 .5 5 .5 8 .5-20 .5 9 .5-13 .5 14 .5-26 .5 21 .5 3 .5 9 .5-28 .5 15 .5 8 .5-8 .5-3 .5-1 .5-2 .5 3 .5-4 .5 14 .5 4 .5-12 .5-6 .5 17 .5-15 .5 8 .5-9 .5 21 .5-34 .5 33 .5-26 .5 10 .5 8 .5 1 .5-28 .5 23 .5-14 .5 15 .5 3 .5 3 .5-17 .5 17 .5-17 .5 21 .5-26 .5 14 .5-8 .5 14 .5-8 .5-2 .5-12 .5 13 .5-15 .5 18 .5-7 .5 10 .5 6 .5 0 .5-18 .5-3 .5 5 .5 18 .5-12 .5 8 .5-15 .5-2 .5 3 .5 12 .5-10 .5 2 .5-15 .5 19 .5-12 .5 8 .5-12 .5 24 .5-13 .5 3 .5-5 .5 5 .5 0 .5 4 .5-11 .5 8 .5 4 .5-10 .5 6 .5 7 .5-24 .5 25 .5-20 .5 19 .5-24 .5 21 .5-21 .5 23 .5-20 .5 20 .5-14 .5 13 .5-8 .5 3 .5 4 .5-17 .5 9 .5 2 .5-14 .5 18 .5-17 .5 12 .5-17 .5 9 .5-7 .5 20 .5-18 .5 16 .5 3 .5-12 .5 2 .5 4 .5-10 .5 12 .5-12 .5 27 .5-10 .5-14 .5 3 .5 1 .5-4 .5 21 .5-22 .5 10 .5 5 .5 0 .5 3 .5 3 .5-20 .5 6 .5-1 .5 6 .5-26 .5 12 .5 7 .5 9 .5-16 .5 20 .5-27 .5 14 .5 6 .5-7 .5-7 .5 22 .5-13 .5 20 .5-7 .5-11 .5-5 .5 18 .5-21 .5 29 .5-3 .5-15 .5 2 .5 6 .5-7 .5 4 .5-9 .5 12 .5-12 .5 18 .5-5 .5 0 .5-20 .5 22 .5-20 .5 4 .5-7 .5 22 .5-18 .5 21 .5-22 .5 1 .5 0 .5 17 .5-21 .5 12 .5 1 .5 5 .5-7 .5 16 .5-10 .5-8 .5 8 .5 8 .5-25 .5 19 .5-3 .5 15 .5-21 .5 17 .5-17 .5 7 .5-2 .5 0 .5-15 .5 17 .5-2 .5 12 .5-23 .5 13 .5-8 .5 13 .5-21 .5 30 .5-13 .5 3 .5-16 .5 17 .5-14 .5 7 .5-9 .5 5 .5-3 .5 19 .5-26 .5 15 .5-2 .5-10 .5 17 .5-16 .5 0 .5 6 .5 6 .5 6 .5-15 .5 7 .5-9 .5 11 .5 4 .5-4 .5-14 .5 3 .5-8 .5 23 .5-26 .5 17 .5-7 .5 16 .5-15 .5 12 .5 3 .5 1 .5 2 .5-2 .5-13 .5 14 .5-24 .5 31 .5-17 .5 19 .5-32 .5 22 .5-20 .5 10 .5-1 .5 6 .5 5 .5-9 .5-13 .5 11 .5 0 .5 18 .5-9 .5-17 .5-2 .5 19 .5-11 .5 18 .5-15 .5 3 .5 9 .5-1 .5-18 .5 0 .5-10 .5 36 .5-20 .5 9 .5-3 .5 2 .5-15 .5 10 .5 9 .5-3 .5-12 .5 20 .5-14 .5 17 .5-17 .5 8 .5-10 .5 23 .5-3 .5-10 .5-9 .5-1 .5 0 .5 24 .5-17 .5-3 .5 1 .5 15 .5-17 .5-4 .5-1 .5 1 .5-5 .5 12 .5-2 .5-2 .5-4 .5 10 .5-15 .5-7 .5 25 .5-7 .5-7 .5 11 .5-7 .5 12 .5-18 .5 12 .5-16 .5 16 .5-15 .5 18 .5-13 .5-1 .5 6 .5-10 .5-1 .5 16 .5-14 .5 18 .5-4 .5 12 .5-21 .5 22 .5-29 .5 2 .5 7 .5 12 .5-5 .5 12 .5-8 .5 5 .5-27 .5 17 .5-14 .5 10 .5-12 .5 3 .5-4 .5 27 .5-8 .5 3 .5-7 .5 3 .5-3 .5 4 .5-12 .5 14 .5-21 .5 20 .5-17 .5 14 .5 1 .5-2 .5 1 .5 4 .5-14 .5 13 .5-22 .5 22 .5-8 .5 17 .5-10 .5-3 .5 7 .5-11 .5-4 .5 4 .5-5 .5 17 .5-15 .5 18 .5 0 .5-7 .5-11 .5 3 .5-8 .5 22 .5-6 .5-10 .5 4 .5 8 .5-14 .5 9 .5-5 .5-5 .5-8 .5 26 .5-26 .5 22 .5 0 .5-6 .5-5 .5 13 .5-23 .5 20 .5-9 .5 16 .5-23 .5 3 .5 8 .5 12 .5-21 .5 20 .5-12 .5 10 .5-2 .5 11 .5-18 .5-3 .5-7 .5 11 .5-8 .5 18 .5-19 .5 14 .5 0 .5-6 .5-15 .5 16 .5-2 .5-9 .5-3 .5 11 .5-12 .5 22 .5-29 .5 18 .5-7 .5 1 .5-6 .5 28 .5-22 .5 21 .5-29 .5 23 .5 2 .5 2 .5-3 .5 3 .5-13 .5 16 .5-19 .5 12 .5 6 .5-4 .5-18 .5 21 .5-14 .5-7 .5 16 .5 8 .5-14 .5 5 .5 8 .5 1 .5-24 .5 24 .5-19 .5 20 .5-12 .5-9 .5-1 .5 11 .5-4 .5-2 .5-11 .5 21 .5-4 .5-7 .5 6 .5-6 .5-2 .5 11 .5 4 .5-2 .5-15 .5 20 .5-7 .5 6 .5-1 .5 4 .5-17 .5 9 .5-6 .5 7 .5-12 .5 11 .5-11 .5 7 .5-14 .5 11 .5-5 .5-1 .5-10 .5 27 .5-24 .5 19 .5-17 .5 16 .5-20 .5 8 .5-6 .5 8 .5-1 .5 11 .5-23 .5 21 .5-10 .5 10 .5-5 .5 14 .5-18 .5 12 .5-7 .5 7 .5-13 .5 19 .5-14 .5 12 .5-21 .5 14 .5-12 .5 18 .5-13 .5 2 .5-6 .5 13 .5-21 .5 18 .5-9 .5 7 .5-10 .5 8 .5-5 .5 10 .5 2 .5-2 .5-15 .5 33 .5-24 .5 12 .5-26 .5 19 .5 3 .5-1 .5-6 .5 7 .5-17 .5 8 .5 9 .5-6 .5 5 .5-6 .5 4 .5-8 .5 16 .5-3 .5 5 .5-2 .5-3 .5 8 .5-2 .5-3 .5-5 .5 12 .5-12 .5 14 .5-19 .5 10 .5-19 .5 13 .5 10 .5-5 .5-9 .5-3 .5 3 .5 7 .5 2 .5-14 .5-4 .5 4 .5-2 .5 18 .5-6 .5-4 .5 0 .5 9 .5-4 .5 8 .5-23 .5 24 .5-29 .5 13 .5-4 .5 14 .5-14 .5 5 .5-4 .5 13 .5-26 .5 19 .5-4 .5 6 .5-17 .5 21 .5-13 .5 30 .5-8 .5 4 .5-23 .5 23 .5-2 .5-5 .5 5 .5-13 .5 2 .5 13 .5-20 .5 10 .5-15 .5 15 .5-4 .5 2 .5-3 .5 1 .5-7"/>
<path class="c" stroke="#ff00ff" d="M130.5 402l.5 23 .5-14 .5 1 .5 10 .5-3 .5 0 .5-13 .5-22 .5 10 .5 15 .5-20 .5-15 .5 23 .5-20 .5 24 .5-51 .5 60 .5-24 .5 16 .5-23 .5 7 .5-8 .5 26 .5-6 .5 2 .5-14 .5 14 .5-27 .5 29 .5-2 .5-10 .5 19 .5-7 .5 0 .5 0 .5-5 .5 8 .5-18 .5 24 .5-10 .5 9 .5-21 .5 22 .5-3 .5 6 .5-30 .5 11 .5-5 .5 11 .5-16 .5 22 .5-19 .5 6 .5 5 .5 19 .5-20 .5 17 .5-7 .5-4 .5 1 .5 9 .5-8 .5 2 .5 14 .5 11 .5-35 .5 26 .5-26 .5 25 .5 2 .5-14 .5-3 .5 3 .5-11 .5 26 .5-35 .5 19 .5-20 .5 24 .5-21 .5 28 .5-42 .5 36 .5-12 .5 2 .5-8 .5 28 .5-27 .5 21 .5-26 .5 35 .5-31 .5 31 .5-26 .5 3 .5-8 .5 23 .5-18 .5 7 .5-16 .5 22 .5-3 .5 20 .5-28 .5-4 .5 3 .5 20 .5-26 .5 14 .5-11 .5 13 .5-12 .5 17 .5-22 .5 12 .5-12 .5 31 .5-6 .5 1 .5-28 .5 27 .5-15 .5 17 .5-22 .5 10 .5 2 .5 11 .5-14 .5-2 .5-10 .5 9 .5-10 .5 19 .5-20 .5 22 .5-14 .5 13 .5-22 .5 22 .5 3 .5-20 .5-7 .5 31 .5-31 .5 25 .5-15 .5 17 .5-14 .5 15 .5-15 .5 18 .5-9 .5 8 .5-22 .5 28 .5-33 .5 27 .5-4 .5 2 .5-28 .5 33 .5-6 .5-2 .5-9 .5 13 .5-19 .5 7 .5-13 .5 30 .5-17 .5 19 .5-20 .5 8 .5-21 .5 14 .5-6 .5 18 .5-30 .5 10 .5 19 .5 3 .5-24 .5 15 .5-18 .5 20 .5-19 .5 10 .5-6 .5 13 .5-5 .5 2 .5-11 .5 3 .5-9 .5 29 .5-22 .5 22 .5-10 .5 0 .5-12 .5 10 .5-17 .5 22 .5-24 .5 33 .5-19 .5 14 .5-25 .5 17 .5-12 .5 10 .5-19 .5 17 .5 1 .5 7 .5-23 .5 6 .5 4 .5 15 .5-6 .5 13 .5-16 .5 1 .5-13 .5 3 .5 6 .5 7 .5-17 .5 34 .5-15 .5 18 .5-15 .5 14 .5-36 .5 11 .5-2 .5 24 .5-22 .5-1 .5 6 .5 13 .5-22 .5-6 .5 13 .5-18 .5 25 .5-18 .5 18 .5 1 .5-17 .5 6 .5 9 .5-15 .5 7 .5 2 .5 9 .5 1 .5-3 .5 19 .5-27 .5 24 .5-16 .5 9 .5-17 .5 15 .5-24 .5 9 .5-7 .5 30 .5-22 .5-8 .5-15 .5 39 .5-19 .5-1 .5-14 .5 9 .5 11 .5 5 .5-14 .5 16 .5-18 .5 19 .5-14 .5 8 .5-12 .5 7 .5 7 .5-6 .5 3 .5 19 .5-22 .5 21 .5-24 .5 17 .5-19 .5 11 .5-13 .5 24 .5-26 .5 41 .5-23 .5 9 .5-31 .5 30 .5-3 .5 10 .5-9 .5 1 .5-14 .5 9 .5-24 .5 25 .5-23 .5 15 .5-9 .5 20 .5-20 .5 14 .5-19 .5 12 .5-17 .5 31 .5-28 .5 2 .5-8 .5 34 .5-22 .5 1 .5-3 .5 14 .5-6 .5 15 .5-26 .5 11 .5-8 .5 28 .5-31 .5 9 .5 1 .5 16 .5-25 .5 29 .5-22 .5 16 .5-3 .5 6 .5-17 .5 23 .5-19 .5 10 .5-15 .5 21 .5-16 .5 18 .5-36 .5 22 .5-14 .5 13 .5-20 .5 26 .5 4 .5-8 .5-6 .5 25 .5-25 .5 21 .5-5 .5 1 .5-10 .5 13 .5-12 .5 4 .5-9 .5-10 .5 3 .5-8 .5 12 .5 22 .5-45 .5 31 .5-28 .5 33 .5-19 .5 17 .5-16 .5 0 .5-22 .5 33 .5-21 .5 22 .5-19 .5 16 .5-9 .5-4 .5 5 .5 7 .5 2 .5 4 .5-20 .5 14 .5-18 .5 21 .5 8 .5-10 .5-19 .5 28 .5-20 .5 22 .5-13 .5 12 .5-10 .5 0 .5-7 .5 0 .5-4 .5 22 .5-29 .5 11 .5-13 .5 25 .5-1 .5 9 .5-27 .5 14 .5-24 .5 24 .5-23 .5 23 .5-10 .5 12 .5-21 .5 20 .5-27 .5 37 .5-18 .5-16 .5 16 .5 15 .5-28 .5 32 .5-13 .5 1 .5-14 .5 25 .5-33 .5 23 .5-15 .5 27 .5-26 .5 5 .5-6 .5 17 .5-12 .5-3 .5-4 .5 7 .5-2 .5 12 .5-19 .5 3 .5 10 .5 6 .5-20 .5 12 .5-19 .5 6 .5 1 .5 9 .5-14 .5 21 .5-18 .5 18 .5-21 .5 19 .5-26 .5 31 .5-5 .5 6 .5-10 .5-12 .5 1 .5 24 .5-23 .5 33 .5-30 .5 12 .5-15 .5 7 .5-8 .5 15 .5-16 .5 27 .5-20 .5 13 .5-32 .5 12 .5-13 .5 20 .5-16 .5 11 .5-13 .5 29 .5-12 .5 13 .5 7 .5-11 .5 6 .5-13 .5-15 .5 21 .5-9 .5 4 .5 0 .5 12 .5-5 .5-18 .5 0 .5 28 .5-19 .5 27 .5-24 .5-13 .5 24 .5-9 .5-20 .5 26 .5-25 .5 28 .5-26 .5 17 .5-14 .5 25 .5-31 .5 14 .5-15 .5 24 .5-17 .5 24 .5-32 .5 36 .5-31 .5 6 .5-4 .5 23 .5-23 .5 8 .5-22 .5 36 .5-26 .5 8 .5 0 .5 16 .5-34 .5 15 .5-1 .5 21 .5-24 .5-8 .5-1 .5 11 .5-17 .5 16 .5-10 .5 21 .5-21 .5 8 .5-9 .5 5 .5 0 .5-11 .5 8 .5-11 .5-6 .5 2 .5-4 .5 37 .5-28 .5 12 .5-18 .5 28 .5-17 .5 23 .5-39 .5 39 .5-26 .5 19 .5-16 .5 21 .5-7 .5 2 .5-13 .5-3 .5 15 .5-6 .5 10 .5 3 .5-25 .5 11 .5-13 .5 32 .5-79 .5 68 .5-15 .5 21 .5-14 .5 12 .5-17 .5 17 .5-17 .5-1 .5-3 .5 13 .5-34 .5 23 .5-11 .5 16 .5-30 .5 24 .5-17 .5 25 .5-27 .5 24 .5-22 .5 18 .5-12 .5 30 .5-34 .5 16 .5-8 .5 11 .5-22 .5 26 .5-27 .5 26 .5-7 .5 1 .5-6 .5 20 .5-28 .5 0 .5 10 .5 5 .5-13 .5-9 .5-11 .5 23 .5-21 .5-2 .5 13 .5 15 .5-36 .5 20 .5-12 .5 29 .5 3 .5-24 .5 7 .5 19 .5-18 .5-5 .5-13 .5 42 .5-21 .5 9 .5-9 .5 24 .5-38 .5 6 .5-4 .5 3 .5 4 .5 16 .5-24 .5 17 .5-25 .5 29 .5-38 .5 13 .5 15 .5-13 .5-20 .5 39 .5-22 .5 1 .5-1 .5 30 .5-31 .5 27 .5-12 .5-13 .5-6 .5 17 .5 2 .5-16 .5-2 .5 37 .5-16 .5 6 .5-12 .5 6 .5-22 .5 7 .5 46 .5-22 .5-17 .5 5 .5-40 .5 43 .5-22 .5 4 .5 0 .5-13 .5-5 .5 2 .5-1 .5 34 .5-40 .5 40 .5-39 .5 43 .5-28 .5 6 .5 13 .5-1 .5-28 .5 14 .5-17 .5 15 .5-22 .5 9 .5 6 .5 27 .5-38 .5 28 .5-28 .5 19 .5-18 .5 23 .5-28 .5 26 .5-34 .5 36 .5-24 .5-5 .5 10 .5 1 .5-24 .5 17 .5-19 .5 10 .5 1 .5 19 .5-35 .5 23 .5-2 .5 4 .5 13 .5 0 .5-13 .5 25 .5-30 .5 23 .5-26 .5 34 .5-21 .5 30 .5-13 .5 4 .5-18 .5 29 .5-32 .5 19 .5-7 .5-3 .5-17 .5-8 .5 15 .5 13 .5-33 .5 8 .5 25 .5-24 .5-2 .5 6 .5 0 .5 21 .5-44 .5 24 .5-18 .5-11 .5-9 .5-20 .5 28 .5 20 .5-32 .5 40 .5-28 .5 5 .5 5 .5 29 .5-13 .5 3 .5-4 .5 17 .5-30 .5 27 .5-22 .5 34 .5-18 .5-10 .5-5 .5 30 .5-2 .5-12 .5-6 .5 17 .5-29 .5 38 .5-16 .5 19 .5-44 .5 35 .5-18 .5 13 .5-46 .5 9 .5-11 .5 44 .5-41 .5 23 .5-15 .5-14 .5 5 .5 20 .5-29 .5-20 .5 12 .5 39 .5 8 .5-19 .5-8 .5 25 .5-17 .5 16 .5-41 .5 45 .5-33 .5 61 .5-39 .5 15 .5-10 .5 8 .5-59 .5 61 .5-14 .5-29 .5 15 .5 1 .5-39 .5 26 .5-11 .5 39 .5-7 .5-12 .5-12 .5 14 .5-13 .5 19 .5-12 .5-6 .5 17 .5-1 .5-34 .5 8 .5 16 .5-5 .5 6 .5 21 .5-34 .5 25 .5-27 .5 35 .5-57 .5 61 .5-16 .5 8 .5-27 .5 21 .5-1 .5 2 .5-21 .5 46 .5-32 .5 22 .5-36 .5 21 .5-36 .5 54 .5-47 .5 30 .5-6 .5 0 .5 3 .5 17 .5-45 .5 33 .5-37 .5 0 .5 15 .5 17 .5-15 .5-27 .5 11 .5 20 .5 9 .5-17 .5-7 .5 8 .5-21 .5 12 .5 14 .5 15 .5-30 .5 9 .5-24 .5 41 .5-41 .5 17 .5-25 .5 46 .5-33 .5 43 .5-19 .5 28 .5-14 .5 4 .5-38 .5 23 .5 4 .5-20 .5 2 .5 47 .5-35 .5 11 .5-13 .5-2 .5 13 .5 21 .5-41 .5 15 .5-2 .5 7 .5 0 .5 13 .5-23 .5 52 .5-34 .5 7 .5-23 .5 41 .5-40 .5 2 .5 0 .5 30 .5-40 .5 42 .5-42 .5 32 .5-8 .5 16 .5-34 .5 34 .5-44 .5-42 .5 46 .5 43 .5-19 .5 21 .5-27 .5 21 .5-37 .5 25 .5-16 .5 2 .5-5 .5 41 .5-25 .5 20 .5-25 .5 32 .5-35 .5 25 .5-12 .5-5 .5-2 .5-16 .5 22 .5-1 .5-28 .5 27 .5-17 .5 12 .5-20 .5 29 .5-13 .5-37 .5 26 .5 41 .5-44 .5 45 .5-42 .5 12 .5-3 .5-13 .5 21 .5 10 .5-25 .5 33 .5-30 .5 32 .5-27 .5 38 .5-17 .5-25 .5 6 .5 25 .5-27 .5-17 .5 18 .5 15 .5-27 .5 31 .5-17 .5 5 .5-16 .5 17 .5-3 .5 32 .5-26 .5 23 .5-42 .5 56 .5-39 .5 5 .5-7 .5 46 .5-45 .5 21 .5 22 .5 5 .5-24 .5 26 .5-29 .5 16 .5-28 .5 35 .5-40 .5 26 .5-38 .5 44 .5-43 .5 30 .5 10 .5 25 .5-61 .5 9 .5-5 .5 26 .5-15 .5 26 .5-31 .5 15 .5 11 .5 2 .5-23 .5 28 .5-10 .5 9 .5 2 .5-8 .5-25 .5 7 .5-13 .5 22 .5 3 .5-12 .5-10 .5 11 .5-12 .5 12 .5-15 .5 9 .5-22 .5 20 .5-30 .5 30 .5-40 .5 46 .5-35 .5 20 .5-8 .5-5 .5-1 .5 10 .5-9 .5 14 .5-3 .5 6 .5-26 .5 0 .5 9 .5 26 .5-12 .5 20 .5-37 .5 31 .5-48 .5 45 .5-41 .5 34 .5-13 .5 5 .5-24 .5 22 .5-29 .5 40 .5-46 .5 25 .5-4 .5 10 .5 20 .5-13 .5-16 .5 35 .5-14 .5 16 .5-36 .5 41 .5-36 .5 11 .5-4 .5 49 .5-47 .5 19 .5 9 .5 2 .5-34 .5 38 .5-39 .5 16 .5-23 .5 38 .5-21 .5 21 .5-9 .5 24 .5-21 .5 31 .5-5 .5-12 .5-18 .5 47 .5-50 .5 41 .5-44 .5 50 .5-16 .5-4 .5-18 .5 17 .5 13 .5-23 .5 12 .5 22 .5-17 .5-2 .5-27 .5 36 .5-13 .5 9 .5-27 .5 41 .5-18 .5 5 .5 8 .5 17 .5-24 .5 16 .5-2 .5 13 .5-57 .5 43 .5-8 .5-6 .5 8 .5 8 .5 2 .5-26 .5 0 .5 22 .5 0 .5 13 .5-48 .5 20 .5-7 .5 36 .5-42 .5 24 .5-25 .5 46 .5-27 .5 10 .5-25 .5 15 .5-11 .5 57 .5-57 .5 29 .5-16 .5 19 .5-13 .5 19 .5-18 .5 29 .5-19 .5-7 .5-14 .5 5 .5-2 .5 36 .5-17 .5 11 .5-19 .5 27 .5-48 .5-6 .5 10 .5 2 .5-17 .5 27 .5 13 .5 22 .5-47 .5 30 .5-24 .5 22 .5-18 .5 17 .5-19 .5 22 .5-29 .5 27 .5-1 .5-12 .5-13 .5 48 .5-10 .5-2 .5-14 .5 11 .5 4 .5 22 .5-42 .5-11 .5 0 .5 23 .5-11 .5 21 .5-20 .5 21 .5-36 .5 16 .5 11 .5-5 .5-31 .5 49 .5-18 .5 4 .5-15 .5-13 .5-8 .5 25 .5-17 .5 5 .5-8 .5 14 .5 0 .5 1 .5-25 .5 41 .5-36 .5 3 .5 14 .5 5 .5-9 .5 22 .5-11 .5 18 .5-7 .5 1 .5-25 .5 27 .5-29 .5 29 .5 3 .5-23 .5-4 .5 20 .5 14 .5-3 .5-21 .5 8 .5-14 .5 19 .5-17 .5 42 .5-21 .5 15 .5-3 .5 2 .5-1 .5 20 .5-29 .5-10 .5-9 .5 37 .5-15 .5 23 .5-23 .5 1 .5-22 .5 37 .5-32 .5 0 .5-9 .5 23 .5-30 .5 8 .5-19 .5 29 .5-10 .5 0 .5 0 .5 10 .5-10 .5 18 .5 0 .5 23 .5-12 .5 2 .5-1 .5 12 .5-26 .5 28 .5-35 .5 20 .5 7 .5 7 .5-43 .5 45 .5-29 .5 18 .5-21 .5 14 .5-15 .5 28 .5-26 .5 3 .5-3 .5 25 .5-37 .5 4 .5 18 .5-9 .5-22 .5 10 .5 19 .5-17 .5 32 .5-18 .5-6 .5 22 .5-36 .5 38 .5 0 .5-19 .5-3 .5 0 .5-37 .5 55 .5-15 .5 23 .5-27 .5 31 .5-15 .5 17 .5-37 .5 31 .5-6 .5 15 .5-23 .5-15 .5 21 .5-6 .5 16 .5 10 .5-44 .5 42 .5-27 .5 23 .5-44 .5 48 .5-26 .5 16 .5-33 .5 36 .5-25 .5 39 .5-20 .5 18 .5-40 .5 22 .5-3 .5-14 .5 22 .5 14 .5-7 .5-14 .5 0 .5-5 .5-8 .5 20 .5-13 .5-4 .5-12 .5 18 .5-6 .5 6 .5 2 .5 10 .5-10 .5 1 .5-18 .5 38 .5-6 .5 4 .5-28 .5 18 .5-25 .5 40 .5-16 .5 14 .5-39 .5 37 .5-10 .5 10 .5-32 .5 16 .5-10 .5 15 .5-22 .5 19 .5-5 .5 5 .5-1 .5 8 .5-19 .5 14 .5-22 .5 0 .5 7 .5 26 .5-42 .5 45 .5-22 .5 8 .5 4 .5 4 .5-9 .5-4 .5-2 .5-4 .5-4 .5 16 .5-27 .5 35 .5-27 .5 28 .5-39 .5 42 .5-35 .5 28 .5-27 .5 18 .5-15 .5-5 .5 25 .5-3 .5-22 .5 30 .5-30 .5 26 .5-20 .5 23 .5-5 .5-1 .5-8 .5 4 .5 13 .5-3 .5-12 .5 6 .5-22 .5 16 .5 3 .5-2 .5 3 .5-19 .5 27 .5 7 .5-21 .5-14 .5 2 .5 10 .5 19 .5 5 .5-43 .5 30 .5-1 .5-13 .5 7 .5-10 .5-13 .5 28 .5-9 .5 7 .5-25 .5 36 .5-16 .5 5 .5-4 .5 17 .5-20 .5 12 .5-2 .5 1 .5-10 .5 42 .5-29 .5 2 .5-14 .5 6 .5-5 .5 11 .5 10 .5-8 .5-13 .5 10 .5-7 .5 24 .5-33 .5 26 .5-15 .5 21 .5-31 .5 40 .5-17 .5-3 .5-2 .5-16 .5-3 .5 18 .5-14 .5 30 .5-28 .5 14 .5-15 .5 18 .5-25 .5 24 .5-13 .5 18 .5-16 .5 26 .5-14 .5 11 .5-34 .5 40 .5-35 .5 16 .5 11 .5-10 .5-4 .5 0 .5-3 .5 8 .5-5 .5 2 .5-16 .5-25 .5 51 .5-2 .5-3 .5-11 .5 5 .5 5 .5-17 .5 5 .5-5 .5 14 .5-11 .5 28 .5-14 .5 24 .5-35 .5 13 .5-23 .5 33 .5-29 .5 20 .5-17 .5 9 .5-19 .5 26 .5-25 .5 13 .5-16 .5 28 .5-31 .5 30 .5-22 .5 28 .5-17 .5 11 .5-21 .5 24 .5 3 .5-8 .5-15 .5 5 .5 11 .5 11 .5-18 .5-12 .5 21 .5 6 .5-18 .5 13 .5-24 .5 12 .5-13 .5 34 .5-16 .5-2 .5-13 .5 32 .5-20 .5 4 .5-11 .5 4 .5-1 .5 4 .5-18 .5 24 .5 2 .5 23 .5-40 .5-5 .5 11 .5 10 .5-7 .5 18 .5-19 .5-8 .5 18 .5-9 .5-10 .5 7 .5-1 .5 26 .5-9 .5-15 .5 4 .5 14 .5-23 .5 27 .5-32 .5 35 .5-6 .5 1 .5-18 .5 22 .5-28 .5 6 .5 11 .5-11 .5 18 .5-16 .5-4 .5-3 .5-1 .5 19 .5-17 .5 0 .5-3 .5 3 .5-11 .5 34 .5-12 .5 15 .5-30 .5 19 .5-4 .5 5 .5-15 .5 0 .5 5 .5 12 .5-25 .5 25 .5-23 .5 20 .5-24 .5 18 .5 1 .5-1 .5-20 .5 23 .5-22 .5 16 .5-6 .5 0 .5-1 .5 19 .5-16 .5 18 .5-26 .5 8 .5 11 .5-9 .5-1 .5 7 .5-15 .5 20 .5-1 .5 6 .5-17 .5 18 .5-14 .5 2 .5 7 .5-14 .5 10 .5 4 .5-19 .5 22 .5-25 .5 30 .5-24 .5 5 .5 16 .5-2 .5-16 .5 9 .5-6 .5 19 .5-1 .5-11 .5 9 .5-10 .5-14 .5 16 .5-4 .5 8 .5-12 .5 11 .5-16 .5 26 .5-26 .5 17 .5-23 .5 18 .5-13 .5-2 .5 2 .5 14 .5-18 .5 10 .5-11 .5 6 .5-13 .5 25 .5-11 .5 6 .5 2 .5 9 .5-13 .5 16 .5-17 .5 7 .5-17 .5 11 .5-12 .5 26 .5-17 .5 8 .5-13 .5 21 .5-9 .5 14 .5-15 .5 10 .5-3 .5 18 .5-30 .5 25 .5-14 .5 9 .5-11 .5 10 .5-9 .5 6 .5 7 .5-20 .5 12 .5 15 .5-14 .5 8 .5-11 .5 16 .5-26 .5 25 .5-25 .5 9 .5-12 .5 20 .5-20 .5 23 .5-20 .5 9 .5 8 .5 2 .5-8 .5 0 .5 3 .5-3 .5-17 .5 24 .5-14 .5 3 .5-13 .5 19 .5-9 .5 8 .5-18 .5 20 .5-16 .5 25 .5-11 .5 12 .5-12 .5 8 .5-23 .5 21 .5-14 .5-9 .5 1 .5 29 .5-30 .5 14 .5-9 .5 22 .5-28 .5 29 .5-21 .5 23 .5-23 .5 18 .5-15 .5 9 .5-7 .5 13 .5-11 .5 3 .5-21 .5 33 .5-21 .5 6 .5-9 .5-3 .5-3 .5 14 .5-13 .5 14 .5-3 .5-1 .5 15 .5-6 .5 1 .5 3 .5-10 .5 12 .5-46 .5 57 .5-33 .5 16 .5-13 .5 22 .5-15 .5 17 .5-25 .5 23 .5-19 .5 7 .5-12 .5 22 .5-27 .5 30 .5-3 .5-1 .5-19 .5 10 .5-11 .5 14 .5 9 .5 10 .5-36 .5 34 .5-27 .5 10 .5 4 .5 15 .5-6 .5 4 .5-14 .5 10 .5-6 .5 12 .5-27 .5 14 .5 4 .5 2 .5-19 .5 21 .5-11 .5 0 .5 13 .5-17 .5 5 .5-2 .5-9 .5 17 .5 2 .5-3 .5-9 .5 1 .5-3 .5-8 .5 3 .5-7 .5-10 .5 8 .5-8 .5 12 .5-17 .5 19 .5-9 .5 18 .5-14 .5 11 .5-13 .5 12 .5 13 .5-5 .5-14 .5 25 .5-10 .5-1 .5 0 .5 8 .5-23 .5 21 .5-23 .5 29 .5-8 .5-5 .5-12 .5 16 .5-5 .5 2 .5-9 .5-27 .5 15 .5 20 .5-6 .5-6 .5 9 .5 7 .5-14 .5 19 .5-9 .5-3 .5 1 .5 0 .5-4 .5 19 .5-16 .5 12 .5-10 .5 11 .5-18 .5 13 .5-22 .5 13 .5 9 .5-8 .5-4 .5 8 .5-6 .5 22 .5-36 .5 27 .5-7 .5 4 .5-6 .5-10 .5 13 .5-24 .5 3 .5 20 .5-15 .5 5 .5-1 .5 10 .5-11 .5-13 .5 0 .5 21 .5-21 .5 12 .5-8 .5 19 .5-12 .5 13 .5-19 .5-2 .5 13 .5 16 .5-18 .5 15 .5-17 .5 9 .5-18 .5 6 .5 4 .5 11 .5-3 .5 11 .5-5 .5 8 .5-15 .5 13 .5-25 .5 22 .5-1 .5-11 .5 6 .5 16 .5-12 .5-1 .5-9 .5 10 .5-13 .5 10 .5-23 .5 8 .5-3 .5 5 .5-10 .5 19 .5-6 .5-4 .5-8 .5 23 .5-5 .5 3 .5-24 .5 28 .5-19 .5 20 .5-26 .5 8 .5 6 .5 4 .5-13 .5 12 .5-24 .5 28 .5-18 .5-2 .5 8 .5 4 .5-8 .5 5 .5-11 .5 4 .5-5 .5 25 .5-15 .5-3 .5 13 .5 1 .5-1 .5 14 .5-16 .5-7 .5-7 .5 11 .5-6 .5 21 .5-14 .5 12 .5-5 .5 7 .5-6 .5-18 .5-12 .5 37 .5-34 .5 28 .5-8 .5-8 .5 8 .5 13 .5-10 .5 11 .5-21 .5 7 .5-6 .5 14 .5 5 .5 6 .5-22 .5 16 .5-23 .5 27 .5-22 .5 0 .5 13 .5 4 .5-25 .5 17 .5-24 .5 20 .5-8 .5 4 .5-12 .5 20 .5-8 .5 11 .5 4 .5 12 .5-29 .5 18 .5-25 .5 31 .5-16 .5 14 .5-22 .5 4 .5 6 .5 8 .5-4 .5 5 .5-26 .5 10 .5-1 .5 7 .5-15 .5 34 .5-26 .5 4 .5-17 .5 8 .5 9 .5 10 .5-10 .5 4 .5-14 .5 17 .5-12 .5 10 .5-14 .5 25 .5-17 .5 5 .5-17 .5 28 .5-29 .5 27 .5-3 .5-15 .5 0 .5 18 .5-26 .5 25 .5-10 .5 12 .5-18 .5 2 .5-1 .5 12 .5-10 .5-1 .5-8 .5 13 .5-1 .5-11 .5 12 .5 7 .5 2 .5 3 .5-15 .5 6 .5-14 .5 7 .5-18 .5 29 .5-11 .5 5 .5-7 .5-3 .5 8 .5 0 .5 12 .5-8 .5-11 .5 20 .5-22 .5 19 .5-6 .5 2 .5-9 .5-6 .5-10 .5 10 .5-14 .5 35 .5-26 .5 22 .5 3 .5-17 .5-12 .5 20 .5-16 .5 14 .5-12 .5 18 .5-18 .5 25 .5-9 .5 9 .5 3 .5 1 .5-6 .5-10 .5 1 .5 7 .5-2 .5-2 .5 2 .5 7 .5-19 .5 33 .5-28 .5 13 .5-12 .5 15 .5-18 .5 11 .5-18 .5 27 .5-16 .5 9 .5-20 .5 8 .5-1 .5 19 .5-22 .5 14 .5-40 .5 47 .5-15 .5 27 .5-27 .5-7 .5 2 .5 18 .5-4 .5-5 .5-15 .5 14 .5 0 .5 6 .5-11 .5 12 .5-16 .5-1 .5-3 .5 17 .5-16 .5 18 .5-19 .5 29 .5-25 .5 18 .5-17 .5 11 .5-6 .5-4 .5 8 .5 14 .5-16 .5 8 .5-23 .5 32 .5-17 .5 0 .5-4 .5 10 .5-7 .5-6 .5-5 .5 9 .5-15 .5 4 .5 4 .5 21 .5-22 .5 4 .5-9 .5 7 .5-2 .5 18 .5-9 .5 13 .5-15 .5 7 .5-21 .5 19 .5-3 .5 6 .5-14 .5 19 .5-6 .5 1 .5-14 .5 18 .5-21 .5 15 .5-7 .5 3 .5-3 .5 15 .5-13 .5 4 .5-8 .5 19 .5-10 .5 8 .5-22 .5 26 .5-14 .5 7 .5-8 .5 13 .5-15 .5 7 .5-13 .5 21 .5-21 .5 10 .5-13 .5 22 .5-9 .5 10 .5-24 .5 25 .5 0 .5-1 .5-19 .5 25 .5-12 .5 5 .5-17 .5 5 .5 5 .5 9 .5-20 .5 19 .5-20 .5 12 .5-15 .5 34 .5-33 .5 7 .5 3 .5-3 .5-2 .5 12 .5-2 .5 6 .5-15 .5 29 .5-27 .5 1 .5 9 .5-7 .5-10 .5 28 .5-23 .5 18 .5-11 .5 12 .5-25 .5 25 .5-7 .5 5 .5-15 .5 17 .5-22 .5 7 .5-3 .5 16 .5-19 .5 10 .5-7 .5 23 .5-24 .5 14 .5-13 .5 16 .5-10 .5 0 .5-16 .5 23 .5-15 .5-1 .5 0 .5 6 .5-13 .5 2 .5 3 .5 11 .5-15 .5 9 .5 8 .5 8 .5-21 .5 17 .5-26 .5 15 .5-9 .5 11 .5 13 .5-7 .5-9 .5 17 .5-15 .5-5 .5 12 .5 10 .5-11 .5 5 .5-17 .5 18 .5-4 .5-4 .5-14 .5 24 .5-26 .5 16 .5-14 .5 1 .5-7 .5 21 .5-27 .5 11 .5-12 .5 9 .5-4 .5 15 .5 11 .5-1 .5-14 .5 10 .5-17 .5 9 .5-7 .5 24 .5-14 .5 16 .5-25 .5 15 .5-12 .5 15 .5-8 .5 16 .5-15 .5-4 .5-5 .5 8 .5 11 .5 11 .5-11 .5 11 .5-21 .5 2 .5-2 .5 7 .5-11 .5 14 .5-12 .5-7 .5 7 .5 0 .5 4 .5 14 .5-8 .5-13 .5-6 .5 5 .5 5 .5-5 .5 6 .5 2 .5-11 .5 18 .5-28 .5 19 .5-7 .5 19 .5-21 .5 7 .5-1 .5 1 .5-7 .5 11 .5-22 .5 29 .5-4 .5-9 .5-18 .5 22 .5-15 .5 25 .5-14 .5 2 .5-2 .5 8 .5-7 .5 11 .5-7 .5 3 .5 14 .5-8 .5 0 .5-4 .5 7 .5 2 .5-13 .5 19 .5-8 .5-1 .5-9 .5 2 .5-9 .5 11 .5 5 .5-5 .5-16 .5 22 .5-12 .5 12 .5-22 .5 22 .5-12 .5 7 .5-20 .5 8 .5 12 .5-11 .5 8 .5 7 .5-11 .5-5 .5-6 .5 26 .5-14 .5 16 .5-8 .5-11 .5 10 .5 3 .5-9 .5 9 .5-2 .5 4 .5-11 .5 1 .5-9 .5 22 .5-29 .5 13 .5-5 .5 11 .5-6 .5-2 .5 10 .5 7 .5-17 .5 16 .5-20 .5 10 .5 6 .5-8 .5-9 .5 7 .5-9 .5 11 .5-15 .5 22 .5-24 .5 30 .5-18 .5 20 .5-29 .5 23 .5-5 .5 15 .5-19 .5 0 .5 2 .5 9 .5-18 .5 6 .5-15 .5 21 .5-4 .5 13 .5-17 .5 3 .5-14 .5 22 .5-30 .5 5 .5 15 .5-3 .5-14 .5 14 .5 2 .5-4 .5-10 .5 11 .5-12 .5 29 .5-26 .5 15 .5-4 .5 9 .5-11 .5 5 .5-19 .5 17 .5-14 .5 16 .5 2 .5-18 .5-2 .5 25 .5-1 .5 1 .5 1 .5 8 .5-10 .5 6 .5-5 .5 0 .5-13 .5 24 .5-21 .5 4 .5 2 .5-3 .5 0 .5 10 .5-5 .5 8 .5-24 .5 18 .5-17 .5 7 .5-16 .5 22 .5-6 .5 0 .5 4 .5 8 .5-15 .5 3 .5-8 .5 17 .5-3 .5-6 .5 4 .5-6 .5 4 .5 3 .5-13 .5 9 .5-12 .5 12 .5 3 .5 1 .5-13 .5 16 .5-20 .5 10 .5-13 .5 17 .5-1 .5-1 .5-8 .5-8 .5 4 .5 24 .5-10 .5-5 .5-5 .5 14 .5-12 .5 17 .5-18 .5 2 .5 10 .5-1 .5-7 .5 14 .5-11 .5 11 .5-23 .5 22 .5-6 .5-3 .5-13 .5 10 .5-6 .5 8 .5-2 .5-8 .5 8 .5 6 .5-11 .5 17 .5-18 .5 19 .5-18 .5 15 .5-11 .5 12 .5-5 .5 14 .5-13 .5 1 .5-6 .5 17 .5-15 .5 15 .5-11 .5 10 .5-18 .5 13 .5-35 .5 42 .5-17 .5 13 .5 1 .5-18 .5 12 .5 2 .5-17 .5 1 .5-9 .5 12 .5-13 .5 18 .5-14 .5 16 .5-18 .5 22 .5-19 .5 13 .5-15 .5 8 .5-20 .5 24 .5-14 .5 16 .5 1 .5 6 .5-31 .5 29 .5-7 .5 11 .5-11 .5-7 .5 2 .5 16 .5-10 .5-4 .5-3 .5 26 .5-32 .5 18 .5 10 .5-10 .5-11 .5 10 .5-1 .5 15 .5-12 .5 0 .5-4 .5 19 .5-24 .5 9 .5-15 .5 14 .5-4 .5 3 .5 4 .5-3 .5 1 .5 4 .5-26 .5 12 .5-12 .5 13 .5-19 .5 15 .5 8 .5-7 .5-7 .5 24 .5-17 .5 10 .5-2 .5 4 .5-6 .5-1 .5-3 .5 9 .5 4 .5-1 .5-20 .5 21 .5-11 .5 12 .5-9 .5-6 .5 1 .5 13 .5-13 .5 16 .5-8 .5 7 .5-7 .5 1 .5-7 .5 12 .5-3 .5-10 .5-7 .5 22 .5-18 .5 10 .5-14 .5 21 .5-19 .5 13 .5-7 .5 16 .5-15 .5 14 .5 3 .5 3 .5-18 .5-8 .5 11 .5 9 .5-15 .5-6 .5 21 .5-11 .5-6 .5 14 .5-4 .5-1 .5-16 .5 26 .5-23 .5 11 .5-12 .5-5 .5 1 .5 5 .5-4 .5 29 .5-28 .5 19 .5-13 .5 13 .5-16 .5 21 .5-12 .5 4 .5-14 .5 6 .5 1 .5 11 .5-18 .5 20 .5-27 .5 21 .5-15 .5 17 .5-20 .5 25 .5-20 .5 22 .5-23 .5 13 .5-13 .5-19 .5 37 .5 8 .5-26 .5 20 .5-8 .5 4 .5-3 .5 17 .5-26 .5 25 .5-18 .5 5 .5-1 .5 10 .5-22 .5 22 .5-18 .5 14 .5-7 .5 15 .5-2 .5 1 .5-15 .5 1 .5-4 .5 1 .5 3 .5 13 .5-20 .5 17 .5-16 .5-2 .5 6 .5 6 .5-1 .5 8 .5-20 .5-3 .5-6 .5 18 .5-4 .5 13 .5-24 .5 18 .5-5 .5-1 .5-8 .5 12 .5-18 .5 7 .5-8 .5 20 .5 1 .5-4 .5-11 .5 12 .5 5 .5-2 .5-9 .5 19 .5-10 .5 8 .5-25 .5 11 .5 2 .5 1 .5-7 .5 20 .5-28 .5 21 .5-7 .5 16 .5-21 .5 20 .5-14 .5 9 .5 1 .5-8 .5-1 .5-13 .5 18 .5 5 .5-28 .5 25 .5-22 .5 26 .5-22 .5 15 .5-14 .5 15 .5-19 .5 20 .5-13 .5 9 .5-24 .5 22 .5-4 .5 1 .5-9 .5 19 .5-16 .5 1 .5 5 .5-1 .5-11 .5 11 .5 3 .5 10 .5-11 .5 6 .5-20 .5 26 .5-26 .5 22 .5-19 .5 19 .5-24 .5 13 .5 0 .5-2 .5-7 .5 2 .5 5 .5 13 .5-9 .5-1 .5 3 .5 6 .5-19 .5 6 .5 6 .5 14 .5-22 .5 3 .5 1 .5 16 .5-9 .5 3 .5-14 .5 18 .5-20 .5 11 .5-12 .5 21 .5-23 .5 21 .5-3 .5 8 .5-18 .5 16 .5-18 .5 23 .5-23 .5 14 .5-17 .5 18 .5-4 .5 11 .5-28 .5 35 .5-23 .5 15 .5-8 .5-31 .5 11 .5 7 .5-1 .5 1 .5-3 .5 17 .5-14 .5 20 .5-24 .5 23 .5-12 .5-7 .5 8 .5 9 .5-20 .5 7 .5-4 .5 6 .5 1 .5 3 .5-12 .5 20 .5-17 .5 16 .5-19 .5 20 .5-16 .5 18 .5 0 .5-9 .5-6 .5 12 .5-5 .5 4 .5-11 .5 19 .5-20 .5 2 .5 1 .5 13 .5-22 .5 27 .5-19 .5 7 .5 1 .5 11 .5-28 .5 7 .5 1 .5 13 .5-23 .5 21 .5-22 .5 13 .5-17 .5 25 .5-8 .5 17 .5-21 .5 15 .5-13 .5 10 .5-7 .5-6 .5-1 .5 16 .5-18 .5 6 .5-4 .5 18 .5-23 .5 15 .5-11 .5 17 .5-10 .5 9 .5-16 .5 11 .5-3 .5 3 .5-16 .5 25 .5-23 .5 18 .5-19 .5 18 .5-6 .5 3 .5 2 .5-14 .5 9 .5 6 .5-1 .5 7 .5-28 .5 14 .5-5 .5 19 .5-9 .5 8 .5-25 .5 20 .5 3 .5-6 .5-10 .5 2 .5-5 .5 15 .5-14 .5 22 .5-34 .5 29 .5 1 .5-3 .5-21 .5 26 .5-26 .5 13 .5 5 .5 10 .5-20 .5 23 .5-8 .5 9 .5-5 .5 3 .5-20 .5 19 .5-8 .5 9 .5-17 .5 9 .5-18 .5 28 .5-12 .5-5 .5-1 .5 19 .5-20 .5 17 .5-6 .5-4 .5-7 .5 8 .5-14 .5 15 .5-6 .5-5 .5 11 .5 4 .5-12 .5 7 .5 6 .5 1 .5-12 .5 16 .5-9 .5 8 .5-21 .5 22 .5-10 .5 9 .5-17 .5 16 .5-21 .5 16 .5-8 .5 11 .5-10 .5 3 .5-10 .5 15 .5-13 .5 16 .5-8 .5 6 .5-20 .5 7 .5-1 .5 8 .5-12 .5 20 .5-9 .5 6 .5-20 .5 9 .5-3 .5 7 .5 2 .5 14 .5-25 .5-3 .5 3 .5 19 .5-14 .5-2 .5 5 .5 17 .5-14 .5 0 .5 2 .5-15 .5 1 .5 8 .5 6 .5 0 .5-15 .5 12 .5-2 .5-1 .5-13 .5 12 .5-20 .5 28 .5-22 .5 8 .5-13 .5 25 .5-16 .5 20 .5-20 .5 11 .5-14 .5 11 .5 0 .5 11 .5-12 .5-2 .5-5 .5 21 .5 0 .5 0 .5-5 .5 2 .5-22 .5 23 .5-15 .5 17 .5-15 .5-8 .5 0 .5 18 .5-11 .5 11 .5-3 .5 2 .5-8 .5-1 .5-2 .5 7 .5 2 .5 2 .5-10 .5-2 .5 14 .5 7 .5-21 .5 18 .5-9 .5 0 .5-3 .5 10 .5-18 .5 5 .5-8 .5 23 .5-11 .5 6 .5-9 .5 18 .5-27 .5 23 .5-8 .5-2 .5-16 .5 13 .5 0 .5 13 .5-10 .5 0 .5-6 .5 14 .5-19 .5 20 .5-27 .5 2 .5 3 .5 13 .5-4 .5 5 .5 2 .5-9 .5-11 .5 23 .5-27 .5 9 .5-5 .5 25 .5-24 .5-12 .5 13 .5 5 .5 3 .5 14 .5-25 .5 10 .5-8 .5 21 .5-7 .5 4 .5-12 .5 13 .5-16 .5 14 .5-21 .5 7 .5 5 .5-5 .5 2 .5 21 .5-19 .5 16 .5-20 .5 12 .5 6 .5 11 .5-22 .5 13 .5-11 .5 4 .5-8 .5 27 .5-25 .5-3 .5 1 .5 8 .5-3 .5 15 .5-30 .5 22 .5-14 .5 9 .5-8 .5 23 .5-18 .5-2 .5 3 .5 9 .5-1 .5 17 .5-25 .5-5 .5-4 .5 17 .5-16 .5 15 .5-6 .5-5 .5-6 .5 19 .5-19 .5 22 .5-19 .5 16 .5-12 .5 15 .5-16 .5 8 .5 0 .5-9 .5 11 .5 14 .5-15 .5 15 .5-14 .5 10 .5-8 .5 5 .5-4 .5 0 .5-12 .5 11 .5-22 .5 15 .5 3 .5 8 .5-24 .5 18 .5-13 .5 7 .5-7 .5 27 .5-28 .5 7 .5 4 .5 2 .5-11 .5 2 .5-10 .5 30 .5-18 .5 15 .5-19 .5 7 .5-9 .5 12 .5-10 .5 25 .5-22 .5 20 .5-10 .5 6 .5-18 .5 9 .5 5 .5 0 .5 14 .5-1 .5-12 .5 3 .5 9 .5-1 .5-5 .5-13 .5 8 .5-1 .5-1 .5-11 .5 6 .5 4 .5-11 .5 16 .5-9 .5 8 .5-8 .5 2 .5 11 .5 2 .5-13 .5 11 .5-19 .5 4 .5 15 .5 3 .5-10 .5 1 .5-4 .5 14 .5-24 .5 9 .5-7 .5 8 .5-3 .5 12 .5-24 .5 21 .5-22 .5 24 .5-23 .5 16 .5-13 .5 17 .5-12 .5 14 .5-23 .5 9 .5-5 .5 25 .5-9 .5-5 .5-11 .5 20 .5-16 .5 21 .5-28 .5 12 .5-4 .5 30 .5-32 .5-2 .5 7 .5 10 .5-15 .5 10 .5-9 .5 13 .5-16 .5 20 .5-14 .5 4 .5-15 .5 6 .5 6 .5 13 .5-20 .5 13 .5-14 .5 17 .5-17 .5 11 .5-9 .5 16 .5-3 .5-8 .5-6 .5 16 .5-19 .5 20 .5-13 .5 16 .5-5 .5-5 .5-7 .5 23 .5-8 .5-4 .5-8 .5 15 .5-14 .5 18 .5-15 .5 0 .5 7 .5 5 .5-1 .5 2 .5-18 .5 18 .5-15 .5 0 .5 2 .5 10 .5-22 .5 28 .5-26 .5 4 .5 3 .5-3 .5 5 .5 8 .5-15 .5 2 .5-11 .5 22 .5-12 .5 8 .5-1 .5-8 .5 7 .5 3 .5-1 .5 3 .5-7 .5 6 .5 9 .5-16 .5-6 .5 20 .5-21 .5 29 .5-26 .5 7 .5-14 .5 30 .5-22 .5 13 .5-16 .5 22 .5-10 .5 1 .5-9 .5 8 .5-8 .5 14 .5-10 .5-4 .5 1 .5-1 .5 1 .5 15 .5-7 .5 11 .5-7 .5-6 .5 7 .5-3 .5-16 .5 22 .5-12 .5 9 .5-6 .5 20 .5-30 .5 13 .5-8 .5 16 .5-23 .5 13 .5-10 .5 7 .5-1 .5 13 .5-9 .5 14 .5-24 .5 10 .5 10 .5 5 .5-6 .5 7 .5-13 .5 16 .5-19 .5 15 .5-28 .5 7 .5-2 .5 3 .5-9 .5 16 .5-15 .5 8 .5-1 .5 16 .5-7 .5 17 .5-35 .5 28 .5-17 .5 11 .5-3 .5-13 .5 3 .5 17 .5-11 .5 14 .5-9 .5-5 .5 10 .5 6 .5-17 .5 8 .5-2 .5 2 .5-15 .5 22 .5-7 .5 11 .5-21 .5 16 .5-3 .5-3 .5-17 .5 19 .5-11 .5 17 .5-28 .5 32 .5-34 .5 22 .5-8 .5 17 .5 3 .5-8 .5-18 .5 23 .5-8 .5-3 .5-14 .5 21 .5-9 .5-2 .5-9 .5 7 .5-6 .5 3 .5-4 .5 6 .5-12 .5 20 .5-12 .5 7 .5-8 .5 19 .5-13 .5 4 .5 7 .5-1 .5-13 .5 6 .5-9 .5 13 .5-7 .5 17 .5-20 .5 8 .5-7 .5 3 .5-8 .5 26 .5-30 .5 5 .5-1 .5 15 .5 5 .5-7 .5-9 .5 3 .5-7 .5 14 .5-14 .5 14 .5-15 .5 8 .5-13 .5 26 .5-22 .5 11 .5-8 .5 9 .5-4 .5 4 .5-1 .5 8 .5-14 .5 15 .5-14 .5 3 .5-10 .5 20 .5-20 .5 20 .5-15 .5 1 .5 0 .5 0 .5-9 .5 7 .5 14 .5-13 .5-1 .5 15 .5-5 .5 8 .5-16 .5-6 .5-5 .5 23 .5-18 .5 18 .5-14 .5-6 .5-7 .5 21 .5-15 .5 1 .5 10 .5 1 .5-3 .5 4 .5-13 .5 18 .5-16 .5 24 .5-15 .5 15 .5-22 .5 27 .5-11 .5 10 .5-24 .5 20 .5-12 .5 12 .5-28 .5 3 .5 2 .5 2 .5 13 .5 5 .5-17 .5 28 .5-35 .5 16 .5-17 .5 14 .5 3 .5 1 .5-8 .5 19 .5-15 .5 8 .5-16 .5 23 .5-23 .5 19 .5 4 .5-4 .5-10 .5 11 .5-5 .5-1 .5 4 .5 6 .5-4 .5 0 .5-6 .5 13 .5-32 .5 9 .5 8 .5-7 .5 12 .5-13 .5 9 .5-2 .5-9 .5 6 .5 6 .5 6 .5-13 .5 10 .5-19 .5 21 .5-20 .5 16 .5-9 .5 1 .5-5 .5 16 .5-6 .5 13 .5-17 .5 12 .5-8 .5 5 .5-8 .5 10 .5-19 .5 7 .5-2 .5 2 .5 6 .5 5 .5-16 .5 19 .5-23 .5 21 .5-6 .5-3 .5-3 .5 1 .5-5 .5 6 .5-13 .5 6 .5-10 .5 14 .5-10 .5 15 .5-1 .5 9 .5-14 .5 13 .5-23 .5 34 .5-16 .5 10 .5-14 .5 13 .5-20 .5 28 .5-13 .5 16 .5-19"/>
<g fill="#000">
<rect x="128" y="38" width="4.6" height="1524.8"/>
<rect x="2121" y="38" width="4.6" height="1524.8"/>
<rect x="128" y="38" width="1997.6" height="5.9"/>
<rect x="128" y="1557" width="1997.6" height="5.8"/>
<rect x="260.3" y="1533" width="4.6" height="25"/>
<rect x="526.1" y="1533" width="4.6" height="25"/>
<rect x="791.8" y="1533" width="4.6" height="25"/>
<rect x="1057.5" y="1533" width="4.6" height="25"/>
<rect x="1323.3" y="1533" width="4.6" height="25"/>
<rect x="1589.0" y="1533" width="4.6" height="25"/>
<rect x="1854.8" y="1533" width="4.6" height="25"/>
<rect x="393.4" y="1546" width="4.4" height="12"/>
<rect x="659.1" y="1546" width="4.4" height="12"/>
<rect x="924.9" y="1546" width="4.4" height="12"/>
<rect x="1190.6" y="1546" width="4.4" height="12"/>
<rect x="1456.4" y="1546" width="4.4" height="12"/>
<rect x="1722.1" y="1546" width="4.4" height="12"/>
<rect x="1987.9" y="1546" width="4.4" height="12"/>
</g>
<g fill="#000">
<rect x="676.6" y="541.1" width="31.6" height="31.8"/>
<rect x="853.3" y="614.2" width="31.6" height="31.8"/>
<rect x="920.7" y="628.1" width="31.6" height="31.8"/>
<rect x="1066.7" y="628.1" width="31.6" height="31.8"/>
<rect x="1508.6" y="647.6" width="31.6" height="31.8"/>
<rect x="1588.5" y="628.1" width="31.6" height="31.8"/>
<rect x="678.9" y="686.3" width="31.6" height="31.8"/>
<rect x="923.0" y="753.7" width="31.6" height="31.8"/>
<rect x="419.2" y="838.1" width="31.6" height="31.8"/>
<rect x="808.9" y="812.3" width="31.6" height="31.8"/>
<rect x="865.8" y="812.3" width="31.6" height="31.8"/>
<rect x="1070.1" y="814.6" width="31.6" height="31.8"/>
<rect x="976.5" y="856.3" width="31.6" height="31.8"/>
<rect x="1030.4" y="854.1" width="31.6" height="31.8"/>
<rect x="1108.9" y="844.8" width="31.6" height="31.8"/>
<rect x="1507.3" y="826.4" width="31.6" height="31.8"/>
<rect x="1585.4" y="814.4" width="31.6" height="31.8"/>
<rect x="1692.2" y="849.3" width="31.6" height="31.8"/>
<rect x="1852.2" y="870.9" width="31.6" height="31.8"/>
<rect x="1962.9" y="873.2" width="31.6" height="31.8"/>
<rect x="674.3" y="899.6" width="31.6" height="31.8"/>
<rect x="926.5" y="940.7" width="31.6" height="31.8"/>
<rect x="1062.5" y="962.4" width="31.6" height="31.8"/>
<rect x="639.9" y="995.3" width="31.6" height="31.8"/>
<rect x="422.7" y="1075.3" width="31.6" height="31.8"/>
<rect x="802.5" y="1070.9" width="31.6" height="31.8"/>
<rect x="862.6" y="1017.2" width="31.6" height="31.8"/>
<rect x="966.5" y="1083.4" width="31.6" height="31.8"/>
<rect x="1023.4" y="1083.4" width="31.6" height="31.8"/>
<rect x="1107.7" y="1070.8" width="31.6" height="31.8"/>
<rect x="1252.8" y="1107.1" width="31.6" height="31.8"/>
<rect x="1367.0" y="1101.4" width="31.6" height="31.8"/>
<rect x="1417.4" y="1101.4" width="31.6" height="31.8"/>
<rect x="1508.5" y="984.1" width="31.6" height="31.8"/>
<rect x="1590.9" y="991.1" width="31.6" height="31.8"/>
<rect x="1695.0" y="1079.0" width="31.6" height="31.8"/>
<rect x="1860.1" y="1100.5" width="31.6" height="31.8"/>
<rect x="1957.3" y="1107.3" width="31.6" height="31.8"/>
<rect x="692.4" y="1140.4" width="31.6" height="31.8"/>
<rect x="665.6" y="1224.6" width="31.6" height="31.8"/>
<rect x="926.5" y="1261.1" width="31.6" height="31.8"/>
<rect x="1076.9" y="1289.5" width="31.6" height="31.8"/>
<rect x="429.1" y="1309.1" width="31.6" height="31.8"/>
<rect x="812.2" y="1352.3" width="31.6" height="31.8"/>
<rect x="872.8" y="1323.8" width="31.6" height="31.8"/>
<rect x="969.7" y="1399.2" width="31.6" height="31.8"/>
<rect x="1033.4" y="1381.9" width="31.6" height="31.8"/>
<rect x="1126.1" y="1382.1" width="31.6" height="31.8"/>
<rect x="1259.9" y="1410.4" width="31.6" height="31.8"/>
<rect x="1371.8" y="1417.0" width="31.6" height="31.8"/>
<rect x="1424.0" y="1410.4" width="31.6" height="31.8"/>
<rect x="1518.7" y="1359.6" width="31.6" height="31.8"/>
<rect x="1598.4" y="1347.6" width="31.6" height="31.8"/>
<rect x="1697.7" y="1403.5" width="31.6" height="31.8"/>
<rect x="1866.7" y="1406.7" width="31.6" height="31.8"/>
<rect x="1973.1" y="1406.7" width="31.6" height="31.8"/>
<path d="M1145.3,871.7 L1165.8,835.2 L1186.4,871.7 Z"/>
<path d="M1295.9,893.5 L1316.7,856.5 L1337.5,893.5 Z"/>
<path d="M1751.8,886.9 L1772.9,849.7 L1794.0,886.9 Z"/>
<path d="M1796.9,898.4 L1818.0,861.4 L1839.0,898.4 Z"/>
<path d="M624.4,1080.8 L645.5,1043.7 L666.7,1080.8 Z"/>
<path d="M983.0,1144.5 L1004.0,1106.9 L1025.0,1144.5 Z"/>
<path d="M1142.4,1086.6 L1163.0,1049.9 L1183.5,1086.6 Z"/>
<path d="M1309.2,1127.7 L1329.8,1090.5 L1350.3,1127.7 Z"/>
<path d="M1747.9,1127.7 L1768.8,1090.4 L1789.6,1127.7 Z"/>
<path d="M1798.2,1116.5 L1819.0,1079.1 L1839.8,1116.5 Z"/>
<path d="M639.0,1349.7 L660.2,1313.0 L681.4,1349.7 Z"/>
<path d="M998.2,1447.8 L1018.8,1411.0 L1039.3,1447.8 Z"/>
<path d="M1165.3,1406.9 L1185.8,1369.4 L1206.4,1406.9 Z"/>
<path d="M1315.2,1458.2 L1336.0,1420.7 L1356.8,1458.2 Z"/>
<path d="M1747.7,1426.4 L1768.7,1389.0 L1789.6,1426.4 Z"/>
<path d="M1798.2,1455.0 L1819.1,1417.9 L1840.0,1455.0 Z"/>
</g>
<text class="b" font-size="69" x="1470.6" y="140.2">■</text>
<text class="b" font-size="70.9" transform="translate(1455.2 220.6) scale(1.12 1)">▲</text>
<g class="b" font-size="66">
<text x="1511" y="136.1" textLength="216" lengthAdjust="spacingAndGlyphs">-Mullite</text>
<text x="1517" y="220.5" textLength="318" lengthAdjust="spacingAndGlyphs">-Corundum</text>
</g>
<g class="b" font-size="69.5">
<text x="2009.0" y="394.4" textLength="85" lengthAdjust="spacingAndGlyphs">8:1</text>
<text x="2003.5" y="543.0" textLength="84" lengthAdjust="spacingAndGlyphs">7:1</text>
<text x="2007.0" y="693.0" textLength="85" lengthAdjust="spacingAndGlyphs">6:1</text>
<text x="2009.0" y="895.3" textLength="85" lengthAdjust="spacingAndGlyphs">5:1</text>
<text x="2009.0" y="1114.6" textLength="85" lengthAdjust="spacingAndGlyphs">4:1</text>
</g>
<text font-size="72.5" x="1976.5" y="1363.6" textLength="130" lengthAdjust="spacingAndGlyphs">CFA</text>
</svg>
</body>
</html>
